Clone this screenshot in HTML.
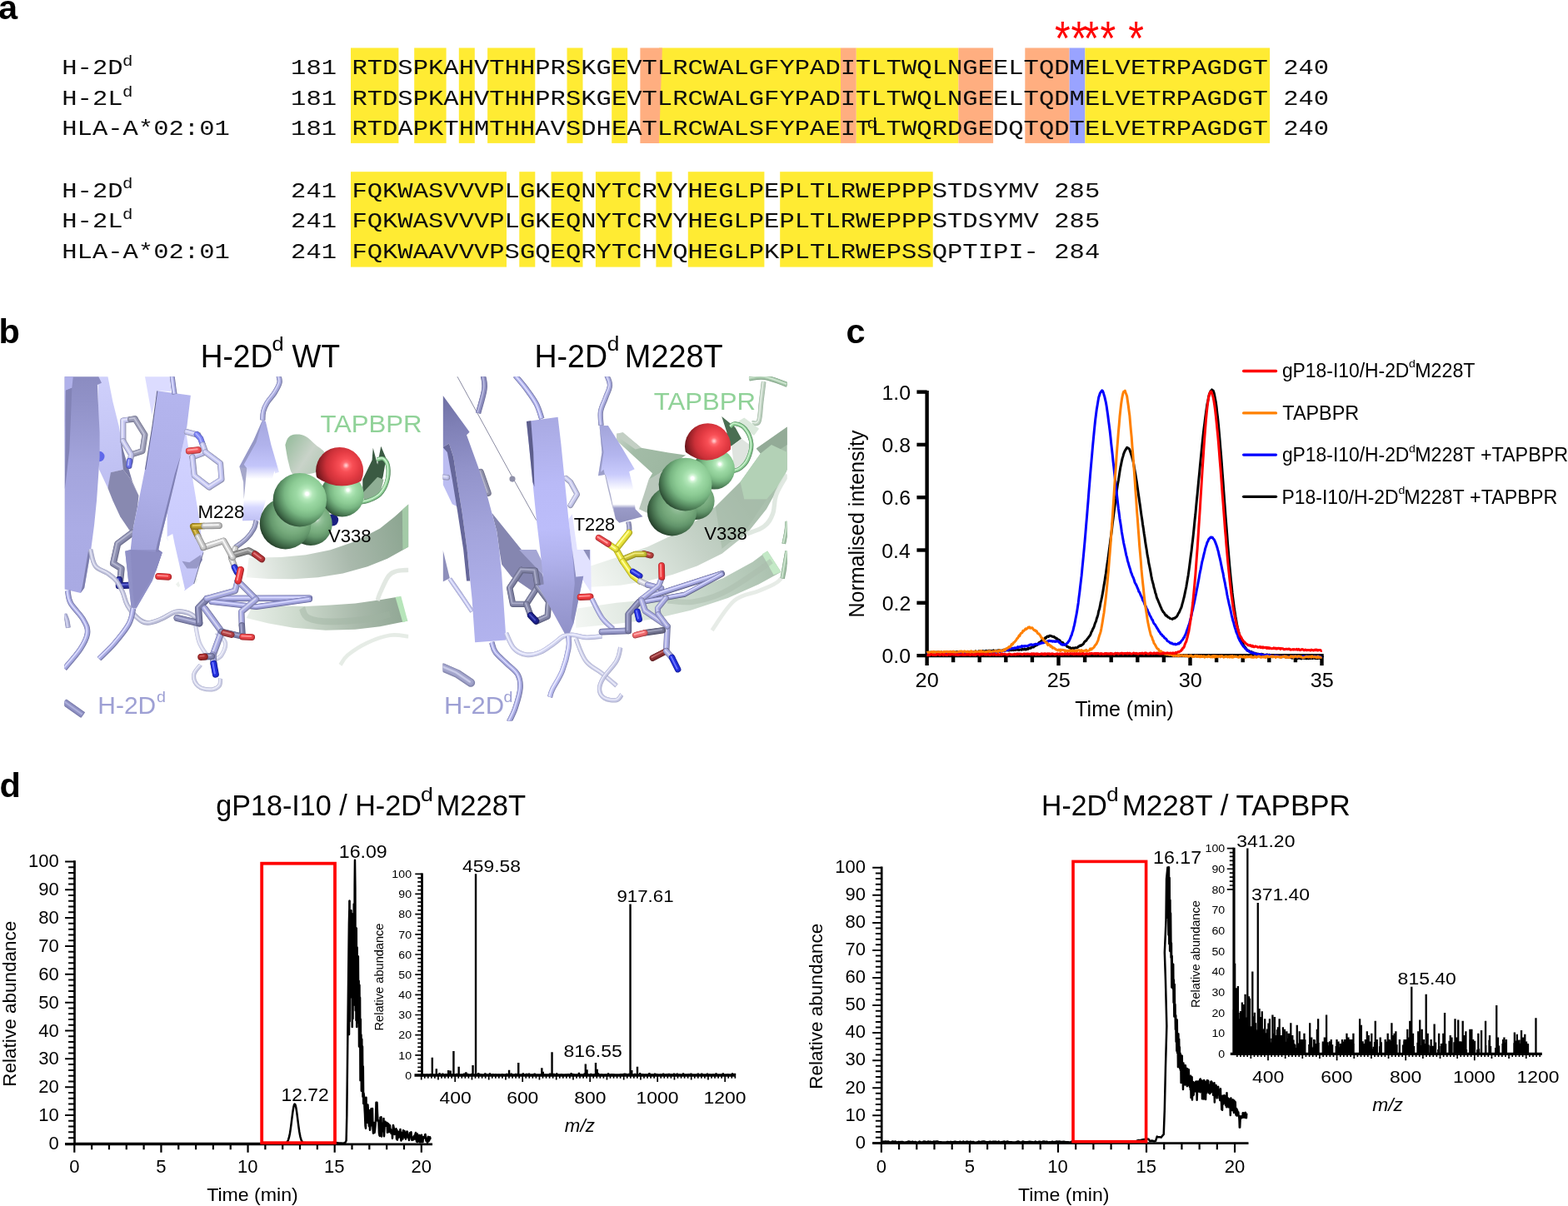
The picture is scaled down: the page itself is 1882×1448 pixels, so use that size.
<!DOCTYPE html>
<html lang="en">
<head>
<meta charset="utf-8">
<title>Figure</title>
<style>
html,body{margin:0;padding:0;background:#ffffff;}
body{width:1882px;height:1448px;overflow:hidden;}
svg{display:block;}
</style>
</head>
<body>
<svg width="1882" height="1448" viewBox="0 0 1882 1448">
<rect x="0" y="0" width="1882" height="1448" fill="#ffffff"/>
<g id="panel-a">
<rect x="421" y="57.5" width="57.4" height="114.4" fill="#ffeb33"/>
<rect x="497.2" y="57.5" width="38.4" height="114.4" fill="#ffeb33"/>
<rect x="550.8" y="57.5" width="19" height="114.4" fill="#ffeb33"/>
<rect x="585.1" y="57.5" width="57.2" height="114.4" fill="#ffeb33"/>
<rect x="680.5" y="57.5" width="19" height="114.4" fill="#ffeb33"/>
<rect x="734.2" y="57.5" width="19" height="114.4" fill="#ffeb33"/>
<rect x="791" y="57.5" width="218" height="114.4" fill="#ffeb33"/>
<polygon points="768.4,57.5 794.9,57.5 791,171.9 768.4,171.9" fill="#ffae80"/>
<rect x="1009" y="57.5" width="18.8" height="114.4" fill="#ffae80"/>
<rect x="1027.8" y="57.5" width="122.6" height="114.4" fill="#ffeb33"/>
<rect x="1150.4" y="57.5" width="41.7" height="114.4" fill="#ffae80"/>
<rect x="1230.3" y="57.5" width="53.3" height="114.4" fill="#ffae80"/>
<rect x="1283.6" y="57.5" width="18.8" height="114.4" fill="#99a3ff"/>
<rect x="1302.4" y="57.5" width="221.7" height="114.4" fill="#ffeb33"/>
<rect x="421" y="206.2" width="187" height="114.4" fill="#ffeb33"/>
<rect x="623.3" y="206.2" width="19" height="114.4" fill="#ffeb33"/>
<rect x="661.5" y="206.2" width="38" height="114.4" fill="#ffeb33"/>
<rect x="714.9" y="206.2" width="53.5" height="114.4" fill="#ffeb33"/>
<rect x="787.4" y="206.2" width="19.2" height="114.4" fill="#ffeb33"/>
<rect x="825.8" y="206.2" width="91.6" height="114.4" fill="#ffeb33"/>
<rect x="936.2" y="206.2" width="183.5" height="114.4" fill="#ffeb33"/>
<text transform="translate(74.24,89.2) scale(1.1837,1)" x="0 15.48 30.96 46.44" font-family="'Liberation Mono', monospace" font-size="25.8" fill="#0d0d0d" >H-2D</text>
<text transform="translate(147.04,79.1) scale(1.18,1)" font-family="'Liberation Mono', monospace" font-size="17.5" fill="#0d0d0d">d</text>
<text transform="translate(349.1,89.2) scale(1.1837,1)" x="0 15.48 30.96" font-family="'Liberation Mono', monospace" font-size="25.8" fill="#0d0d0d" >181</text>
<text transform="translate(422.39,89.2) scale(1.1837,1)" x="0 15.48 30.96 46.44 61.92 77.4 92.88 108.36 123.84 139.32 154.8 170.28 185.76 201.24 216.72 232.2 247.68 263.16 278.64 294.12 309.6 325.08 340.56 356.04 371.52 387 402.48 417.96 433.44 448.92 464.4 479.88 495.36 510.84 526.32 541.8 557.28 572.76 588.24 603.72 619.2 634.68 650.16 665.64 681.12 696.6 712.08 727.56 743.04 758.52 774 789.48 804.96 820.44 835.92 851.4 866.88 882.36 897.84 913.32" font-family="'Liberation Mono', monospace" font-size="25.8" fill="#0d0d0d" >RTDSPKAHVTHHPRSKGEVTLRCWALGFYPADITLTWQLNGEELTQDMELVETRPAGDGT</text>
<text transform="translate(1540.13,89.2) scale(1.1837,1)" x="0 15.48 30.96" font-family="'Liberation Mono', monospace" font-size="25.8" fill="#0d0d0d" >240</text>
<text transform="translate(74.24,125.8) scale(1.1837,1)" x="0 15.48 30.96 46.44" font-family="'Liberation Mono', monospace" font-size="25.8" fill="#0d0d0d" >H-2L</text>
<text transform="translate(147.04,115.7) scale(1.18,1)" font-family="'Liberation Mono', monospace" font-size="17.5" fill="#0d0d0d">d</text>
<text transform="translate(349.1,125.8) scale(1.1837,1)" x="0 15.48 30.96" font-family="'Liberation Mono', monospace" font-size="25.8" fill="#0d0d0d" >181</text>
<text transform="translate(422.39,125.8) scale(1.1837,1)" x="0 15.48 30.96 46.44 61.92 77.4 92.88 108.36 123.84 139.32 154.8 170.28 185.76 201.24 216.72 232.2 247.68 263.16 278.64 294.12 309.6 325.08 340.56 356.04 371.52 387 402.48 417.96 433.44 448.92 464.4 479.88 495.36 510.84 526.32 541.8 557.28 572.76 588.24 603.72 619.2 634.68 650.16 665.64 681.12 696.6 712.08 727.56 743.04 758.52 774 789.48 804.96 820.44 835.92 851.4 866.88 882.36 897.84 913.32" font-family="'Liberation Mono', monospace" font-size="25.8" fill="#0d0d0d" >RTDSPKAHVTHHPRSKGEVTLRCWALGFYPADITLTWQLNGEELTQDMELVETRPAGDGT</text>
<text transform="translate(1540.13,125.8) scale(1.1837,1)" x="0 15.48 30.96" font-family="'Liberation Mono', monospace" font-size="25.8" fill="#0d0d0d" >240</text>
<text transform="translate(74.24,162.4) scale(1.1837,1)" x="0 15.48 30.96 46.44 61.92 77.4 92.88 108.36 123.84 139.32 154.8" font-family="'Liberation Mono', monospace" font-size="25.8" fill="#0d0d0d" >HLA-A*02:01</text>
<text transform="translate(349.1,162.4) scale(1.1837,1)" x="0 15.48 30.96" font-family="'Liberation Mono', monospace" font-size="25.8" fill="#0d0d0d" >181</text>
<text transform="translate(422.39,162.4) scale(1.1837,1)" x="0 15.48 30.96 46.44 61.92 77.4 92.88 108.36 123.84 139.32 154.8 170.28 185.76 201.24 216.72 232.2 247.68 263.16 278.64 294.12 309.6 325.08 340.56 356.04 371.52 387 402.48 417.96 433.44 448.92 464.4 479.88 495.36 510.84 526.32 541.8 557.28 572.76 588.24 603.72 619.2 634.68 650.16 665.64 681.12 696.6 712.08 727.56 743.04 758.52 774 789.48 804.96 820.44 835.92 851.4 866.88 882.36 897.84 913.32" font-family="'Liberation Mono', monospace" font-size="25.8" fill="#0d0d0d" >RTDAPKTHMTHHAVSDHEATLRCWALSFYPAEITLTWQRDGEDQTQDTELVETRPAGDGT</text>
<text transform="translate(1540.13,162.4) scale(1.1837,1)" x="0 15.48 30.96" font-family="'Liberation Mono', monospace" font-size="25.8" fill="#0d0d0d" >240</text>
<text transform="translate(74.24,236.5) scale(1.1837,1)" x="0 15.48 30.96 46.44" font-family="'Liberation Mono', monospace" font-size="25.8" fill="#0d0d0d" >H-2D</text>
<text transform="translate(147.04,226.4) scale(1.18,1)" font-family="'Liberation Mono', monospace" font-size="17.5" fill="#0d0d0d">d</text>
<text transform="translate(349.1,236.5) scale(1.1837,1)" x="0 15.48 30.96" font-family="'Liberation Mono', monospace" font-size="25.8" fill="#0d0d0d" >241</text>
<text transform="translate(422.39,236.5) scale(1.1837,1)" x="0 15.48 30.96 46.44 61.92 77.4 92.88 108.36 123.84 139.32 154.8 170.28 185.76 201.24 216.72 232.2 247.68 263.16 278.64 294.12 309.6 325.08 340.56 356.04 371.52 387 402.48 417.96 433.44 448.92 464.4 479.88 495.36 510.84 526.32 541.8 557.28 572.76 588.24 603.72 619.2 634.68 650.16 665.64 681.12" font-family="'Liberation Mono', monospace" font-size="25.8" fill="#0d0d0d" >FQKWASVVVPLGKEQNYTCRVYHEGLPEPLTLRWEPPPSTDSYMV</text>
<text transform="translate(1265.28,236.5) scale(1.1837,1)" x="0 15.48 30.96" font-family="'Liberation Mono', monospace" font-size="25.8" fill="#0d0d0d" >285</text>
<text transform="translate(74.24,273.2) scale(1.1837,1)" x="0 15.48 30.96 46.44" font-family="'Liberation Mono', monospace" font-size="25.8" fill="#0d0d0d" >H-2L</text>
<text transform="translate(147.04,263.1) scale(1.18,1)" font-family="'Liberation Mono', monospace" font-size="17.5" fill="#0d0d0d">d</text>
<text transform="translate(349.1,273.2) scale(1.1837,1)" x="0 15.48 30.96" font-family="'Liberation Mono', monospace" font-size="25.8" fill="#0d0d0d" >241</text>
<text transform="translate(422.39,273.2) scale(1.1837,1)" x="0 15.48 30.96 46.44 61.92 77.4 92.88 108.36 123.84 139.32 154.8 170.28 185.76 201.24 216.72 232.2 247.68 263.16 278.64 294.12 309.6 325.08 340.56 356.04 371.52 387 402.48 417.96 433.44 448.92 464.4 479.88 495.36 510.84 526.32 541.8 557.28 572.76 588.24 603.72 619.2 634.68 650.16 665.64 681.12" font-family="'Liberation Mono', monospace" font-size="25.8" fill="#0d0d0d" >FQKWASVVVPLGKEQNYTCRVYHEGLPEPLTLRWEPPPSTDSYMV</text>
<text transform="translate(1265.28,273.2) scale(1.1837,1)" x="0 15.48 30.96" font-family="'Liberation Mono', monospace" font-size="25.8" fill="#0d0d0d" >285</text>
<text transform="translate(74.24,309.8) scale(1.1837,1)" x="0 15.48 30.96 46.44 61.92 77.4 92.88 108.36 123.84 139.32 154.8" font-family="'Liberation Mono', monospace" font-size="25.8" fill="#0d0d0d" >HLA-A*02:01</text>
<text transform="translate(349.1,309.8) scale(1.1837,1)" x="0 15.48 30.96" font-family="'Liberation Mono', monospace" font-size="25.8" fill="#0d0d0d" >241</text>
<text transform="translate(422.39,309.8) scale(1.1837,1)" x="0 15.48 30.96 46.44 61.92 77.4 92.88 108.36 123.84 139.32 154.8 170.28 185.76 201.24 216.72 232.2 247.68 263.16 278.64 294.12 309.6 325.08 340.56 356.04 371.52 387 402.48 417.96 433.44 448.92 464.4 479.88 495.36 510.84 526.32 541.8 557.28 572.76 588.24 603.72 619.2 634.68 650.16 665.64 681.12" font-family="'Liberation Mono', monospace" font-size="25.8" fill="#0d0d0d" >FQKWAAVVVPSGQEQRYTCHVQHEGLPKPLTLRWEPSSQPTIPI-</text>
<text transform="translate(1265.28,309.8) scale(1.1837,1)" x="0 15.48 30.96" font-family="'Liberation Mono', monospace" font-size="25.8" fill="#0d0d0d" >284</text>
<text transform="translate(1040.4,153.6) scale(1.18,1)" font-family="'Liberation Mono', monospace" font-size="17.5" fill="#0d0d0d">d</text>
<text transform="translate(1275.4,67.7) scale(0.84,1)" text-anchor="middle" font-family="'Liberation Mono', monospace" font-size="57" fill="#ff0000">*</text>
<text transform="translate(1294.9,67.7) scale(0.84,1)" text-anchor="middle" font-family="'Liberation Mono', monospace" font-size="57" fill="#ff0000">*</text>
<text transform="translate(1309.9,67.7) scale(0.84,1)" text-anchor="middle" font-family="'Liberation Mono', monospace" font-size="57" fill="#ff0000">*</text>
<text transform="translate(1329.8,67.7) scale(0.84,1)" text-anchor="middle" font-family="'Liberation Mono', monospace" font-size="57" fill="#ff0000">*</text>
<text transform="translate(1363.5,67.7) scale(0.84,1)" text-anchor="middle" font-family="'Liberation Mono', monospace" font-size="57" fill="#ff0000">*</text>
</g>
<g id="panel-b">
<defs>
<clipPath id="clipL"><rect x="77.4" y="452.2" width="412.9" height="409.6"/></clipPath>
<clipPath id="clipR"><rect x="531.6" y="452.2" width="413.2" height="413.2"/></clipPath>
<linearGradient id="lgA" gradientUnits="userSpaceOnUse" x1="760" y1="800" x2="1420" y2="620"><stop offset="0" stop-color="#f1f4f1"/><stop offset="0.25" stop-color="#d3ddd4"/><stop offset="0.6" stop-color="#a9b9ac"/><stop offset="1" stop-color="#8aa48f"/></linearGradient>
<linearGradient id="lgB" gradientUnits="userSpaceOnUse" x1="780" y1="1000" x2="1410" y2="960"><stop offset="0" stop-color="#e6ede6"/><stop offset="0.3" stop-color="#cddacd"/><stop offset="0.7" stop-color="#a7b8a9"/><stop offset="1" stop-color="#8fa693"/></linearGradient>
<linearGradient id="lgH" gradientUnits="userSpaceOnUse" x1="920" y1="300" x2="1100" y2="420"><stop offset="0" stop-color="#9dbfa2"/><stop offset="0.45" stop-color="#c9d3c9"/><stop offset="1" stop-color="#a9c4ac"/></linearGradient>
<linearGradient id="lgR2" gradientUnits="userSpaceOnUse" x1="180" y1="25" x2="250" y2="420"><stop offset="0" stop-color="#cfd0fb"/><stop offset="1" stop-color="#bfc0f2"/></linearGradient>
<linearGradient id="lgS1" gradientUnits="userSpaceOnUse" x1="90" y1="25" x2="70" y2="900"><stop offset="0" stop-color="#8b8cc1"/><stop offset="0.12" stop-color="#9192c8"/><stop offset="0.4" stop-color="#a3a4dc"/><stop offset="0.7" stop-color="#abace5"/><stop offset="1" stop-color="#a9aae3"/></linearGradient>
<linearGradient id="lgR4" gradientUnits="userSpaceOnUse" x1="520" y1="250" x2="560" y2="880"><stop offset="0" stop-color="#d2d3ff"/><stop offset="0.6" stop-color="#cbccfd"/><stop offset="1" stop-color="#c3c4f6"/></linearGradient>
<linearGradient id="lgS3" gradientUnits="userSpaceOnUse" x1="470" y1="90" x2="330" y2="900"><stop offset="0" stop-color="#b4b5ee"/><stop offset="0.5" stop-color="#adaee7"/><stop offset="0.8" stop-color="#a0a1da"/><stop offset="1" stop-color="#9495cc"/></linearGradient>
<linearGradient id="lgAr" gradientUnits="userSpaceOnUse" x1="830" y1="200" x2="830" y2="610"><stop offset="0" stop-color="#a5a7de"/><stop offset="0.25" stop-color="#b1b3ec"/><stop offset="0.45" stop-color="#c3c5fa"/><stop offset="0.58" stop-color="#ffffff"/><stop offset="0.78" stop-color="#ffffff"/><stop offset="0.86" stop-color="#d6d7ff"/><stop offset="1" stop-color="#bebff3"/></linearGradient>
<clipPath id="clR"><path d="M900 200L1300 200L1300 443L1231.8 443Q1135 495.1 1041.4 430L900 430Z"/></clipPath>
<radialGradient id="sB" gradientUnits="userSpaceOnUse" cx="1170.76" cy="482.76" r="123.2" fx="1170.76" fy="482.76"><stop offset="0" stop-color="#ffffff"/><stop offset="0.04" stop-color="#ffffff"/><stop offset="0.08" stop-color="#d8f7db"/><stop offset="0.15" stop-color="#b4e8ba"/><stop offset="0.28" stop-color="#9cd9a4"/><stop offset="0.45" stop-color="#8ccb94"/><stop offset="0.6" stop-color="#78b682"/><stop offset="0.74" stop-color="#5b9165"/><stop offset="0.87" stop-color="#3f6a48"/><stop offset="1" stop-color="#213a27"/></radialGradient>
<radialGradient id="sR" gradientUnits="userSpaceOnUse" cx="1162.72" cy="383.42" r="134.4" fx="1162.72" fy="383.42"><stop offset="0" stop-color="#ffd6d6"/><stop offset="0.04" stop-color="#ffb0b2"/><stop offset="0.1" stop-color="#ff6b70"/><stop offset="0.2" stop-color="#f84e55"/><stop offset="0.4" stop-color="#e53c44"/><stop offset="0.6" stop-color="#cb3038"/><stop offset="0.75" stop-color="#a0232a"/><stop offset="0.88" stop-color="#74181e"/><stop offset="1" stop-color="#450d11"/></radialGradient>
<radialGradient id="sD" gradientUnits="userSpaceOnUse" cx="1043.49" cy="599.99" r="121.8" fx="1043.49" fy="599.99"><stop offset="0" stop-color="#ffffff"/><stop offset="0.04" stop-color="#ffffff"/><stop offset="0.08" stop-color="#b5cfb8"/><stop offset="0.15" stop-color="#97c39c"/><stop offset="0.28" stop-color="#83b68a"/><stop offset="0.45" stop-color="#76ab7c"/><stop offset="0.6" stop-color="#65996d"/><stop offset="0.74" stop-color="#4c7a55"/><stop offset="0.87" stop-color="#35593c"/><stop offset="1" stop-color="#1c3121"/></radialGradient>
<radialGradient id="sC" gradientUnits="userSpaceOnUse" cx="946.08" cy="594.08" r="145.6" fx="946.08" fy="594.08"><stop offset="0" stop-color="#ffffff"/><stop offset="0.04" stop-color="#ffffff"/><stop offset="0.08" stop-color="#b5cfb8"/><stop offset="0.15" stop-color="#97c39c"/><stop offset="0.28" stop-color="#83b68a"/><stop offset="0.45" stop-color="#76ab7c"/><stop offset="0.6" stop-color="#65996d"/><stop offset="0.74" stop-color="#4c7a55"/><stop offset="0.87" stop-color="#35593c"/><stop offset="1" stop-color="#1c3121"/></radialGradient>
<radialGradient id="sA" gradientUnits="userSpaceOnUse" cx="1005.29" cy="498.05" r="151.9" fx="1005.29" fy="498.05"><stop offset="0" stop-color="#ffffff"/><stop offset="0.04" stop-color="#ffffff"/><stop offset="0.08" stop-color="#d8f7db"/><stop offset="0.15" stop-color="#b4e8ba"/><stop offset="0.28" stop-color="#9cd9a4"/><stop offset="0.45" stop-color="#8ccb94"/><stop offset="0.6" stop-color="#78b682"/><stop offset="0.74" stop-color="#5b9165"/><stop offset="0.87" stop-color="#3f6a48"/><stop offset="1" stop-color="#213a27"/></radialGradient>
<linearGradient id="rgA" gradientUnits="userSpaceOnUse" x1="620" y1="850" x2="1420" y2="300"><stop offset="0" stop-color="#f3f6f3"/><stop offset="0.2" stop-color="#e0e8e1"/><stop offset="0.45" stop-color="#c5d2c7"/><stop offset="0.7" stop-color="#adc1b0"/><stop offset="1" stop-color="#a3bda7"/></linearGradient>
<linearGradient id="rgB" gradientUnits="userSpaceOnUse" x1="560" y1="1000" x2="1380" y2="780"><stop offset="0" stop-color="#f3f6f3"/><stop offset="0.3" stop-color="#dde6de"/><stop offset="0.65" stop-color="#c2d3c5"/><stop offset="1" stop-color="#a9c0ad"/></linearGradient>
<linearGradient id="rgC" gradientUnits="userSpaceOnUse" x1="724" y1="260" x2="1000" y2="420"><stop offset="0" stop-color="#c7d3c8"/><stop offset="0.3" stop-color="#a3bca7"/><stop offset="1" stop-color="#9ab59e"/></linearGradient>
<linearGradient id="rgS1" gradientUnits="userSpaceOnUse" x1="60" y1="100" x2="200" y2="1100"><stop offset="0" stop-color="#6f70a4"/><stop offset="0.12" stop-color="#7f80b6"/><stop offset="0.3" stop-color="#9293ca"/><stop offset="0.55" stop-color="#a3a4dc"/><stop offset="0.8" stop-color="#adaee8"/><stop offset="1" stop-color="#b2b3ee"/></linearGradient>
<linearGradient id="rgS3" gradientUnits="userSpaceOnUse" x1="430" y1="200" x2="500" y2="1070"><stop offset="0" stop-color="#a9aae3"/><stop offset="0.3" stop-color="#b9baf7"/><stop offset="0.5" stop-color="#bcbdfa"/><stop offset="0.65" stop-color="#b0b1ec"/><stop offset="0.8" stop-color="#a0a1d9"/><stop offset="1" stop-color="#9091c8"/></linearGradient>
<linearGradient id="rgAr" gradientUnits="userSpaceOnUse" x1="720" y1="220" x2="720" y2="620"><stop offset="0" stop-color="#a3a5da"/><stop offset="0.3" stop-color="#b3b5ee"/><stop offset="0.5" stop-color="#c9cbfc"/><stop offset="0.66" stop-color="#ffffff"/><stop offset="0.8" stop-color="#ffffff"/><stop offset="0.84" stop-color="#9a9bc8"/><stop offset="1" stop-color="#8e8fbb"/></linearGradient>
<clipPath id="clR2"><path d="M900 150L1300 150L1300 320L1184 320Q1094 400 1004 330L900 330Z"/></clipPath>
<radialGradient id="tB" gradientUnits="userSpaceOnUse" cx="1141.41" cy="377.91" r="116.2" fx="1141.41" fy="377.91"><stop offset="0" stop-color="#ffffff"/><stop offset="0.04" stop-color="#ffffff"/><stop offset="0.08" stop-color="#d8f7db"/><stop offset="0.15" stop-color="#b4e8ba"/><stop offset="0.28" stop-color="#9cd9a4"/><stop offset="0.45" stop-color="#8ccb94"/><stop offset="0.6" stop-color="#78b682"/><stop offset="0.74" stop-color="#5b9165"/><stop offset="0.87" stop-color="#3f6a48"/><stop offset="1" stop-color="#213a27"/></radialGradient>
<radialGradient id="tR" gradientUnits="userSpaceOnUse" cx="1118.11" cy="284.61" r="130.2" fx="1118.11" fy="284.61"><stop offset="0" stop-color="#ffd6d6"/><stop offset="0.04" stop-color="#ffb0b2"/><stop offset="0.1" stop-color="#ff6b70"/><stop offset="0.2" stop-color="#f84e55"/><stop offset="0.4" stop-color="#e53c44"/><stop offset="0.6" stop-color="#cb3038"/><stop offset="0.75" stop-color="#a0232a"/><stop offset="0.88" stop-color="#74181e"/><stop offset="1" stop-color="#450d11"/></radialGradient>
<radialGradient id="tD" gradientUnits="userSpaceOnUse" cx="1064.52" cy="509.52" r="106.4" fx="1064.52" fy="509.52"><stop offset="0" stop-color="#ffffff"/><stop offset="0.04" stop-color="#ffffff"/><stop offset="0.08" stop-color="#b1cbb4"/><stop offset="0.15" stop-color="#94be99"/><stop offset="0.28" stop-color="#80b286"/><stop offset="0.45" stop-color="#73a679"/><stop offset="0.6" stop-color="#62956b"/><stop offset="0.74" stop-color="#4b7753"/><stop offset="0.87" stop-color="#34573b"/><stop offset="1" stop-color="#1b3020"/></radialGradient>
<radialGradient id="tC" gradientUnits="userSpaceOnUse" cx="975" cy="545" r="140" fx="975" fy="545"><stop offset="0" stop-color="#ffffff"/><stop offset="0.04" stop-color="#ffffff"/><stop offset="0.08" stop-color="#b1cbb4"/><stop offset="0.15" stop-color="#94be99"/><stop offset="0.28" stop-color="#80b286"/><stop offset="0.45" stop-color="#73a679"/><stop offset="0.6" stop-color="#62956b"/><stop offset="0.74" stop-color="#4b7753"/><stop offset="0.87" stop-color="#34573b"/><stop offset="1" stop-color="#1b3020"/></radialGradient>
<radialGradient id="tA" gradientUnits="userSpaceOnUse" cx="1031.03" cy="435.27" r="150.5" fx="1031.03" fy="435.27"><stop offset="0" stop-color="#ffffff"/><stop offset="0.04" stop-color="#ffffff"/><stop offset="0.08" stop-color="#d8f7db"/><stop offset="0.15" stop-color="#b4e8ba"/><stop offset="0.28" stop-color="#9cd9a4"/><stop offset="0.45" stop-color="#8ccb94"/><stop offset="0.6" stop-color="#78b682"/><stop offset="0.74" stop-color="#5b9165"/><stop offset="0.87" stop-color="#3f6a48"/><stop offset="1" stop-color="#213a27"/></radialGradient>
</defs>
<g clip-path="url(#clipL)"><g transform="translate(70,445) scale(0.29697)">
<polygon points="1416,540 1360,590 1300,638 1200,690 1100,725 1000,745 900,754 800,756 770,757 760,836 850,842 950,843 1050,836 1150,820 1250,792 1330,760 1416,712" fill="url(#lgA)" />
<polygon points="1390,562 1416,540 1416,712 1392,724" fill="#a9d3ad" opacity="0.8"/>
<polygon points="780,962 900,951 1000,953 1100,948 1200,941 1300,927 1370,915 1412,1012 1300,1035 1200,1046 1080,1050 950,1040 850,1022 760,1000" fill="url(#lgB)" />
<polygon points="1362,916 1385,912 1412,1012 1392,1018" fill="#b7e5ba" />
<path d="M985 960C989.58 967.33 988.92 989.92 1010 1000C1031.08 1010.08 1056 1014.08 1100 1015C1144 1015.92 1206 1010.5 1250 1005C1294 999.5 1323.5 988.67 1340 985" fill="none" stroke="#9fb3a2" stroke-width="26" opacity="0.45"/>
<path d="M1416 806C1407.57 806.73 1384.85 805.6 1370 810C1355.15 814.4 1347.83 813.5 1335 830C1322.17 846.5 1308.25 881.67 1300 900C1291.75 918.33 1291.83 924.5 1290 930" fill="none" stroke="#dfe6df" stroke-width="18" opacity="0.9"/>
<path d="M1416 1075C1402.07 1074.08 1370.43 1065.42 1340 1070C1309.57 1074.58 1281.17 1085.33 1250 1100C1218.83 1114.67 1190.17 1133.5 1170 1150C1149.83 1166.5 1145.5 1182.67 1140 1190" fill="none" stroke="#e3eae3" stroke-width="16" opacity="0.9"/>
<path d="M480 870C487.33 863.58 505.33 838.67 520 835C534.67 831.33 552.67 847.25 560 850" fill="none" stroke="#e9eee9" stroke-width="16" opacity="0.8"/>
<path d="M917 300C919.38 294.5 922.12 277.7 930 270C937.88 262.3 947.17 258.73 960 258C972.83 257.27 985.33 258.3 1000 266C1014.67 273.7 1025.33 286.43 1040 300C1054.67 313.57 1076.33 321.67 1080 340C1083.67 358.33 1074.67 385.33 1060 400C1045.33 414.67 1020.17 416.33 1000 420C979.83 423.67 962.83 429.17 950 420C937.17 410.83 936.05 392 930 370C923.95 348 919.38 312.83 917 300Z" fill="url(#lgH)" />
<polygon points="1230,440 1268,362 1272,312 1290,380 1304,306 1325,355 1312,430 1285,500 1230,515" fill="#3a5a42" />
<polygon points="1225,500 1290,430 1315,440 1300,500 1240,530" fill="#8fae94" />
<g fill="none" stroke-linejoin="round" stroke-linecap="butt">
<path d="M1288 360C1292.95 359.45 1306.75 351.5 1315 357C1323.25 362.5 1330.62 372.95 1333 390C1335.38 407.05 1334.05 429.83 1328 450C1321.95 470.17 1313.38 486.25 1300 500C1286.62 513.75 1272.42 518.58 1255 525C1237.58 531.42 1214.17 533.17 1205 535" stroke="#4f8058" stroke-width="17"/>
<path d="M1288 360C1292.95 359.45 1306.75 351.5 1315 357C1323.25 362.5 1330.62 372.95 1333 390C1335.38 407.05 1334.05 429.83 1328 450C1321.95 470.17 1313.38 486.25 1300 500C1286.62 513.75 1272.42 518.58 1255 525C1237.58 531.42 1214.17 533.17 1205 535" stroke="#74ae7d" stroke-width="14.62" transform="translate(-0.51,-0.51)"/>
<path d="M1288 360C1292.95 359.45 1306.75 351.5 1315 357C1323.25 362.5 1330.62 372.95 1333 390C1335.38 407.05 1334.05 429.83 1328 450C1321.95 470.17 1313.38 486.25 1300 500C1286.62 513.75 1272.42 518.58 1255 525C1237.58 531.42 1214.17 533.17 1205 535" stroke="#93d39b" stroke-width="11.22" transform="translate(-1.19,-1.19)"/>
<path d="M1288 360C1292.95 359.45 1306.75 351.5 1315 357C1323.25 362.5 1330.62 372.95 1333 390C1335.38 407.05 1334.05 429.83 1328 450C1321.95 470.17 1313.38 486.25 1300 500C1286.62 513.75 1272.42 518.58 1255 525C1237.58 531.42 1214.17 533.17 1205 535" stroke="#d2f5d5" stroke-width="4.08" transform="translate(-2.21,-2.21)"/>
</g>
<polygon points="160,23 200,23 220,125 245,225 260,320 262,400 215,412 200,475 165,400" fill="url(#lgR2)" />
<polygon points="212,412 262,400 290,435 325,505 320,550 300,650 287,645 250,590 220,525 200,475" fill="#8889b0" />
<polygon points="250,260 262,320 300,450 325,505 290,435 262,400" fill="#7c7da6" />
<circle cx="166" cy="347" r="21" fill="#6068ea"/>
<polygon points="25,23 162,23 175,50 158,57 162,150 167,250 167,350 162,425 155,525 145,625 132,724 105,879 90,899 25,884" fill="url(#lgS1)" />
<polygon points="25,23 60,23 55,70 30,80 27,200 25,480" fill="#b0b1ea" />
<polygon points="30,80 55,70 50,200 45,320 30,450 26,480 30,250" fill="#8283b6" />
<polygon points="105,879 132,724 122,724 98,870 90,899" fill="#7d7eae" />
<g fill="none" stroke-linejoin="round" stroke-linecap="round">
<path d="M262 285L262 202L310 195" stroke="#8c8da9" stroke-width="24"/>
<path d="M262 285L262 202L310 195" stroke="#adaed1" stroke-width="20.64" transform="translate(-0.72,-0.72)"/>
<path d="M262 285L262 202L310 195" stroke="#c8c9f2" stroke-width="15.84" transform="translate(-1.68,-1.68)"/>
<path d="M262 285L262 202L310 195" stroke="#e4e4f8" stroke-width="5.76" transform="translate(-3.12,-3.12)"/>
</g>
<g fill="none" stroke-linejoin="round" stroke-linecap="round">
<path d="M292 197L310 195L350 260L340 325L295 340" stroke="#77788f" stroke-width="24"/>
<path d="M292 197L310 195L350 260L340 325L295 340" stroke="#8c8da6" stroke-width="20.64" transform="translate(-0.72,-0.72)"/>
<path d="M292 197L310 195L350 260L340 325L295 340" stroke="#9d9eb8" stroke-width="15.84" transform="translate(-1.68,-1.68)"/>
<path d="M292 197L310 195L350 260L340 325L295 340" stroke="#c3c4d8" stroke-width="5.76" transform="translate(-3.12,-3.12)"/>
</g>
<g fill="none" stroke-linejoin="round" stroke-linecap="round">
<path d="M262 285L295 340L290 370" stroke="#898aa7" stroke-width="24"/>
<path d="M262 285L295 340L290 370" stroke="#a9aace" stroke-width="20.64" transform="translate(-0.72,-0.72)"/>
<path d="M262 285L295 340L290 370" stroke="#c4c5ee" stroke-width="15.84" transform="translate(-1.68,-1.68)"/>
<path d="M262 285L295 340L290 370" stroke="#e2e2f6" stroke-width="5.76" transform="translate(-3.12,-3.12)"/>
</g>
<g fill="none" stroke-linejoin="round" stroke-linecap="round">
<path d="M288 365L286 385" stroke="#4c51a8" stroke-width="24"/>
<path d="M288 365L286 385" stroke="#5e64d0" stroke-width="20.64" transform="translate(-0.72,-0.72)"/>
<path d="M288 365L286 385" stroke="#6d74f0" stroke-width="15.84" transform="translate(-1.68,-1.68)"/>
<path d="M288 365L286 385" stroke="#b6baf8" stroke-width="5.76" transform="translate(-3.12,-3.12)"/>
</g>
<polygon points="350,23 450,23 456,84 400,82 378,180" fill="#dcdcff" />
<polygon points="515,240 530,340 545,450 570,600 586,735 548,862 510,890 470,740 440,680 440,575 470,450 495,340" fill="url(#lgR4)" />
<polygon points="440,672 462,660 470,700 512,885 500,893 455,760" fill="#ffffff" />
<polygon points="500,770 530,775 575,745 583,765 560,800 520,800" fill="#9899c8" />
<path d="M548 862L586 735" stroke="#55567a" stroke-width="2.5" fill="none"/>
<g fill="none" stroke-linejoin="round" stroke-linecap="round">
<path d="M300 655L240 700L222 780L255 800L250 850" stroke="#686a88" stroke-width="27"/>
<path d="M300 655L240 700L222 780L255 800L250 850" stroke="#7c7e9e" stroke-width="23.22" transform="translate(-0.81,-0.81)"/>
<path d="M300 655L240 700L222 780L255 800L250 850" stroke="#8d8fb0" stroke-width="17.82" transform="translate(-1.89,-1.89)"/>
<path d="M300 655L240 700L222 780L255 800L250 850" stroke="#b5b7d0" stroke-width="6.48" transform="translate(-3.51,-3.51)"/>
</g>
<g fill="none" stroke-linejoin="round" stroke-linecap="round">
<path d="M246 845L245 870L285 868" stroke="#1a1d6e" stroke-width="27"/>
<path d="M246 845L245 870L285 868" stroke="#232788" stroke-width="23.22" transform="translate(-0.81,-0.81)"/>
<path d="M246 845L245 870L285 868" stroke="#2a2f9e" stroke-width="17.82" transform="translate(-1.89,-1.89)"/>
<path d="M246 845L245 870L285 868" stroke="#5a60d0" stroke-width="6.48" transform="translate(-3.51,-3.51)"/>
</g>
<polygon points="400,82 535,100 520,225 495,340 470,450 440,575 415,675 405,724 420,735 380,849 315,961 295,959 270,730 292,724 300,650 325,525 350,400 380,225" fill="url(#lgS3)" />
<polygon points="497,335 470,450 440,575 415,675 405,724 420,735 395,810 378,800 400,700 430,580 470,420" fill="#8081b5" />
<polygon points="270,730 292,724 420,735 380,849 315,961 295,959" fill="#9091c7" />
<polygon points="292,724 405,724 420,735 395,810 310,955 302,900" fill="#8687bd" opacity="0.55"/>
<path d="M400 82L380 225L352 400" stroke="#54557c" stroke-width="3" fill="none"/>
<g fill="none" stroke-linejoin="round" stroke-linecap="round">
<path d="M405 832L445 834" stroke="#a8262a" stroke-width="27"/>
<path d="M405 832L445 834" stroke="#cc3034" stroke-width="23.22" transform="translate(-0.81,-0.81)"/>
<path d="M405 832L445 834" stroke="#e9383c" stroke-width="17.82" transform="translate(-1.89,-1.89)"/>
<path d="M405 832L445 834" stroke="#ff8a8a" stroke-width="6.48" transform="translate(-3.51,-3.51)"/>
</g>
<g fill="none" stroke-linejoin="round" stroke-linecap="butt">
<path d="M460 20C460.92 27.33 463.17 46.25 465 60C466.83 73.75 469.08 88.58 470 95" stroke="#6d6f9e" stroke-width="20"/>
<path d="M460 20C460.92 27.33 463.17 46.25 465 60C466.83 73.75 469.08 88.58 470 95" stroke="#9496c8" stroke-width="17.2" transform="translate(-0.6,-0.6)"/>
<path d="M460 20C460.92 27.33 463.17 46.25 465 60C466.83 73.75 469.08 88.58 470 95" stroke="#b3b5ea" stroke-width="13.2" transform="translate(-1.4,-1.4)"/>
<path d="M460 20C460.92 27.33 463.17 46.25 465 60C466.83 73.75 469.08 88.58 470 95" stroke="#e0e1ff" stroke-width="4.8" transform="translate(-2.6,-2.6)"/>
</g>
<g fill="none" stroke-linejoin="round" stroke-linecap="round">
<path d="M520 248L565 260" stroke="#8c8dab" stroke-width="24"/>
<path d="M520 248L565 260" stroke="#adaed3" stroke-width="20.64" transform="translate(-0.72,-0.72)"/>
<path d="M520 248L565 260" stroke="#c8c9f4" stroke-width="15.84" transform="translate(-1.68,-1.68)"/>
<path d="M520 248L565 260" stroke="#e4e4fa" stroke-width="5.76" transform="translate(-3.12,-3.12)"/>
</g>
<g fill="none" stroke-linejoin="round" stroke-linecap="round">
<path d="M560 258L575 275L584 300" stroke="#5c62c0" stroke-width="24"/>
<path d="M560 258L575 275L584 300" stroke="#6f76dd" stroke-width="20.64" transform="translate(-0.72,-0.72)"/>
<path d="M560 258L575 275L584 300" stroke="#7f86f5" stroke-width="15.84" transform="translate(-1.68,-1.68)"/>
<path d="M560 258L575 275L584 300" stroke="#b0b4ff" stroke-width="5.76" transform="translate(-3.12,-3.12)"/>
</g>
<g fill="none" stroke-linejoin="round" stroke-linecap="round">
<path d="M584 300L595 330L542 350" stroke="#898baa" stroke-width="24"/>
<path d="M584 300L595 330L542 350" stroke="#a9abd2" stroke-width="20.64" transform="translate(-0.72,-0.72)"/>
<path d="M584 300L595 330L542 350" stroke="#c4c6f3" stroke-width="15.84" transform="translate(-1.68,-1.68)"/>
<path d="M584 300L595 330L542 350" stroke="#e2e2f9" stroke-width="5.76" transform="translate(-3.12,-3.12)"/>
</g>
<g fill="none" stroke-linejoin="round" stroke-linecap="round">
<path d="M528 325L565 321" stroke="#b03a3e" stroke-width="27"/>
<path d="M528 325L565 321" stroke="#d3494d" stroke-width="23.22" transform="translate(-0.81,-0.81)"/>
<path d="M528 325L565 321" stroke="#f0555a" stroke-width="17.82" transform="translate(-1.89,-1.89)"/>
<path d="M528 325L565 321" stroke="#ffa0a0" stroke-width="6.48" transform="translate(-3.51,-3.51)"/>
</g>
<g fill="none" stroke-linejoin="round" stroke-linecap="round">
<path d="M542 350L550 425L610 472L660 440L655 375L595 330" stroke="#898baa" stroke-width="24"/>
<path d="M542 350L550 425L610 472L660 440L655 375L595 330" stroke="#a9abd2" stroke-width="20.64" transform="translate(-0.72,-0.72)"/>
<path d="M542 350L550 425L610 472L660 440L655 375L595 330" stroke="#c4c6f3" stroke-width="15.84" transform="translate(-1.68,-1.68)"/>
<path d="M542 350L550 425L610 472L660 440L655 375L595 330" stroke="#e2e2f9" stroke-width="5.76" transform="translate(-3.12,-3.12)"/>
</g>
<g fill="none" stroke-linejoin="round" stroke-linecap="butt" opacity="0.95">
<path d="M130 724C133.67 736.1 137.17 772.4 150 790C162.83 807.6 184.42 809 200 820C215.58 831 224 836.25 235 850C246 863.75 251.75 876.67 260 895C268.25 913.33 269 930.75 280 950C291 969.25 305.33 987.17 320 1000C334.67 1012.83 342.58 1019.08 360 1020C377.42 1020.92 393.92 1013.25 415 1005C436.08 996.75 454.83 979.58 475 975C495.17 970.42 508.5 974.5 525 980C541.5 985.5 557.67 1000.42 565 1005" stroke="#9a9cba" stroke-width="19"/>
<path d="M130 724C133.67 736.1 137.17 772.4 150 790C162.83 807.6 184.42 809 200 820C215.58 831 224 836.25 235 850C246 863.75 251.75 876.67 260 895C268.25 913.33 269 930.75 280 950C291 969.25 305.33 987.17 320 1000C334.67 1012.83 342.58 1019.08 360 1020C377.42 1020.92 393.92 1013.25 415 1005C436.08 996.75 454.83 979.58 475 975C495.17 970.42 508.5 974.5 525 980C541.5 985.5 557.67 1000.42 565 1005" stroke="#aeb0cd" stroke-width="16.34" transform="translate(-0.57,-0.57)"/>
<path d="M130 724C133.67 736.1 137.17 772.4 150 790C162.83 807.6 184.42 809 200 820C215.58 831 224 836.25 235 850C246 863.75 251.75 876.67 260 895C268.25 913.33 269 930.75 280 950C291 969.25 305.33 987.17 320 1000C334.67 1012.83 342.58 1019.08 360 1020C377.42 1020.92 393.92 1013.25 415 1005C436.08 996.75 454.83 979.58 475 975C495.17 970.42 508.5 974.5 525 980C541.5 985.5 557.67 1000.42 565 1005" stroke="#bfc1dc" stroke-width="12.54" transform="translate(-1.33,-1.33)"/>
<path d="M130 724C133.67 736.1 137.17 772.4 150 790C162.83 807.6 184.42 809 200 820C215.58 831 224 836.25 235 850C246 863.75 251.75 876.67 260 895C268.25 913.33 269 930.75 280 950C291 969.25 305.33 987.17 320 1000C334.67 1012.83 342.58 1019.08 360 1020C377.42 1020.92 393.92 1013.25 415 1005C436.08 996.75 454.83 979.58 475 975C495.17 970.42 508.5 974.5 525 980C541.5 985.5 557.67 1000.42 565 1005" stroke="#e6e7f6" stroke-width="4.56" transform="translate(-2.47,-2.47)"/>
</g>
<g fill="none" stroke-linejoin="round" stroke-linecap="butt" opacity="0.9">
<path d="M555 1030C557.75 1042.83 561.75 1078 570 1100C578.25 1122 594.5 1140.83 600 1150" stroke="#b5b7d2" stroke-width="17"/>
<path d="M555 1030C557.75 1042.83 561.75 1078 570 1100C578.25 1122 594.5 1140.83 600 1150" stroke="#c6c8e0" stroke-width="14.62" transform="translate(-0.51,-0.51)"/>
<path d="M555 1030C557.75 1042.83 561.75 1078 570 1100C578.25 1122 594.5 1140.83 600 1150" stroke="#d3d5ec" stroke-width="11.22" transform="translate(-1.19,-1.19)"/>
<path d="M555 1030C557.75 1042.83 561.75 1078 570 1100C578.25 1122 594.5 1140.83 600 1150" stroke="#f0f1fb" stroke-width="4.08" transform="translate(-2.21,-2.21)"/>
</g>
<g fill="none" stroke-linejoin="round" stroke-linecap="butt" opacity="0.9">
<path d="M640 1060C646.42 1067.33 671.33 1083.5 675 1100C678.67 1116.5 668.25 1137.17 660 1150C651.75 1162.83 635.5 1166.33 630 1170" stroke="#b5b7d2" stroke-width="17"/>
<path d="M640 1060C646.42 1067.33 671.33 1083.5 675 1100C678.67 1116.5 668.25 1137.17 660 1150C651.75 1162.83 635.5 1166.33 630 1170" stroke="#c6c8e0" stroke-width="14.62" transform="translate(-0.51,-0.51)"/>
<path d="M640 1060C646.42 1067.33 671.33 1083.5 675 1100C678.67 1116.5 668.25 1137.17 660 1150C651.75 1162.83 635.5 1166.33 630 1170" stroke="#d3d5ec" stroke-width="11.22" transform="translate(-1.19,-1.19)"/>
<path d="M640 1060C646.42 1067.33 671.33 1083.5 675 1100C678.67 1116.5 668.25 1137.17 660 1150C651.75 1162.83 635.5 1166.33 630 1170" stroke="#f0f1fb" stroke-width="4.08" transform="translate(-2.21,-2.21)"/>
</g>
<g fill="none" stroke-linejoin="round" stroke-linecap="butt" opacity="0.95">
<path d="M575 1190C570.05 1197.33 549.83 1214.42 548 1230C546.17 1245.58 552.72 1264 565 1275C577.28 1286 599.42 1290 615 1290C630.58 1290 642.67 1283.25 650 1275C657.33 1266.75 654.08 1250.5 655 1245" stroke="#a9abc8" stroke-width="17"/>
<path d="M575 1190C570.05 1197.33 549.83 1214.42 548 1230C546.17 1245.58 552.72 1264 565 1275C577.28 1286 599.42 1290 615 1290C630.58 1290 642.67 1283.25 650 1275C657.33 1266.75 654.08 1250.5 655 1245" stroke="#bdbfda" stroke-width="14.62" transform="translate(-0.51,-0.51)"/>
<path d="M575 1190C570.05 1197.33 549.83 1214.42 548 1230C546.17 1245.58 552.72 1264 565 1275C577.28 1286 599.42 1290 615 1290C630.58 1290 642.67 1283.25 650 1275C657.33 1266.75 654.08 1250.5 655 1245" stroke="#cdcfe8" stroke-width="11.22" transform="translate(-1.19,-1.19)"/>
<path d="M575 1190C570.05 1197.33 549.83 1214.42 548 1230C546.17 1245.58 552.72 1264 565 1275C577.28 1286 599.42 1290 615 1290C630.58 1290 642.67 1283.25 650 1275C657.33 1266.75 654.08 1250.5 655 1245" stroke="#eeeffa" stroke-width="4.08" transform="translate(-2.21,-2.21)"/>
</g>
<g fill="none" stroke-linejoin="round" stroke-linecap="butt">
<path d="M38 890C40.2 899.17 38.63 918.92 50 940C61.37 961.08 87.53 983 100 1005C112.47 1027 119.83 1038 118 1060C116.17 1082 107.05 1098.42 90 1125C72.95 1151.58 36.92 1190.33 25 1205" stroke="#6e709f" stroke-width="22"/>
<path d="M38 890C40.2 899.17 38.63 918.92 50 940C61.37 961.08 87.53 983 100 1005C112.47 1027 119.83 1038 118 1060C116.17 1082 107.05 1098.42 90 1125C72.95 1151.58 36.92 1190.33 25 1205" stroke="#9092c5" stroke-width="18.92" transform="translate(-0.66,-0.66)"/>
<path d="M38 890C40.2 899.17 38.63 918.92 50 940C61.37 961.08 87.53 983 100 1005C112.47 1027 119.83 1038 118 1060C116.17 1082 107.05 1098.42 90 1125C72.95 1151.58 36.92 1190.33 25 1205" stroke="#abade4" stroke-width="14.52" transform="translate(-1.54,-1.54)"/>
<path d="M38 890C40.2 899.17 38.63 918.92 50 940C61.37 961.08 87.53 983 100 1005C112.47 1027 119.83 1038 118 1060C116.17 1082 107.05 1098.42 90 1125C72.95 1151.58 36.92 1190.33 25 1205" stroke="#dcddff" stroke-width="5.28" transform="translate(-2.86,-2.86)"/>
</g>
<g fill="none" stroke-linejoin="round" stroke-linecap="butt">
<path d="M303 962C299.7 973.55 299.3 998.78 285 1025C270.7 1051.22 247 1079.33 225 1105C203 1130.67 176 1154 165 1165" stroke="#6e709f" stroke-width="22"/>
<path d="M303 962C299.7 973.55 299.3 998.78 285 1025C270.7 1051.22 247 1079.33 225 1105C203 1130.67 176 1154 165 1165" stroke="#9092c5" stroke-width="18.92" transform="translate(-0.66,-0.66)"/>
<path d="M303 962C299.7 973.55 299.3 998.78 285 1025C270.7 1051.22 247 1079.33 225 1105C203 1130.67 176 1154 165 1165" stroke="#abade4" stroke-width="14.52" transform="translate(-1.54,-1.54)"/>
<path d="M303 962C299.7 973.55 299.3 998.78 285 1025C270.7 1051.22 247 1079.33 225 1105C203 1130.67 176 1154 165 1165" stroke="#dcddff" stroke-width="5.28" transform="translate(-2.86,-2.86)"/>
</g>
<g fill="none" stroke-linejoin="round" stroke-linecap="butt">
<path d="M25 985C26.83 989.58 32.25 999.92 35 1010C37.75 1020.08 39.08 1034.5 40 1040" stroke="#8a8cb0" stroke-width="20"/>
<path d="M25 985C26.83 989.58 32.25 999.92 35 1010C37.75 1020.08 39.08 1034.5 40 1040" stroke="#a2a4c8" stroke-width="17.2" transform="translate(-0.6,-0.6)"/>
<path d="M25 985C26.83 989.58 32.25 999.92 35 1010C37.75 1020.08 39.08 1034.5 40 1040" stroke="#b5b7dc" stroke-width="13.2" transform="translate(-1.4,-1.4)"/>
<path d="M25 985C26.83 989.58 32.25 999.92 35 1010C37.75 1020.08 39.08 1034.5 40 1040" stroke="#dcddf5" stroke-width="4.8" transform="translate(-2.6,-2.6)"/>
</g>
<g fill="none" stroke-linejoin="round" stroke-linecap="butt">
<path d="M25 1340L100 1393" stroke="#7375a5" stroke-width="28"/>
<path d="M25 1340L100 1393" stroke="#8385b6" stroke-width="24.08" transform="translate(-0.84,-0.84)"/>
<path d="M25 1340L100 1393" stroke="#9092c4" stroke-width="18.48" transform="translate(-1.96,-1.96)"/>
<path d="M25 1340L100 1393" stroke="#aeb0dc" stroke-width="6.72" transform="translate(-3.64,-3.64)"/>
</g>
<g fill="none" stroke-linejoin="round" stroke-linecap="butt">
<path d="M891 23C891.55 27.95 897.12 37.72 894 50C890.88 62.28 883.17 75.33 874 90C864.83 104.67 852.25 116.25 844 130C835.75 143.75 832.3 152.17 829 165C825.7 177.83 826.55 193.58 826 200" stroke="#74769f" stroke-width="21"/>
<path d="M891 23C891.55 27.95 897.12 37.72 894 50C890.88 62.28 883.17 75.33 874 90C864.83 104.67 852.25 116.25 844 130C835.75 143.75 832.3 152.17 829 165C825.7 177.83 826.55 193.58 826 200" stroke="#9294c3" stroke-width="18.06" transform="translate(-0.63,-0.63)"/>
<path d="M891 23C891.55 27.95 897.12 37.72 894 50C890.88 62.28 883.17 75.33 874 90C864.83 104.67 852.25 116.25 844 130C835.75 143.75 832.3 152.17 829 165C825.7 177.83 826.55 193.58 826 200" stroke="#abade0" stroke-width="13.86" transform="translate(-1.47,-1.47)"/>
<path d="M891 23C891.55 27.95 897.12 37.72 894 50C890.88 62.28 883.17 75.33 874 90C864.83 104.67 852.25 116.25 844 130C835.75 143.75 832.3 152.17 829 165C825.7 177.83 826.55 193.58 826 200" stroke="#d6d7f7" stroke-width="5.04" transform="translate(-2.73,-2.73)"/>
</g>
<polygon points="826,198 838,205 860,300 892,410 876,416 874,405 815,605 744,607 750,520 762,395 740,392 732,388 790,280" fill="url(#lgAr)" />
<polygon points="732,388 790,280 826,198 800,290 750,380 762,395 750,520 748,450" fill="#8f91bd" opacity="0.8"/>
<g fill="none" stroke-linejoin="round" stroke-linecap="butt">
<path d="M800 607C798.17 613.05 797.33 626.62 790 640C782.67 653.38 773.75 666.25 760 680C746.25 693.75 723.25 708.58 715 715" stroke="#6e7096" stroke-width="20"/>
<path d="M800 607C798.17 613.05 797.33 626.62 790 640C782.67 653.38 773.75 666.25 760 680C746.25 693.75 723.25 708.58 715 715" stroke="#8688af" stroke-width="17.2" transform="translate(-0.6,-0.6)"/>
<path d="M800 607C798.17 613.05 797.33 626.62 790 640C782.67 653.38 773.75 666.25 760 680C746.25 693.75 723.25 708.58 715 715" stroke="#9a9cc4" stroke-width="13.2" transform="translate(-1.4,-1.4)"/>
<path d="M800 607C798.17 613.05 797.33 626.62 790 640C782.67 653.38 773.75 666.25 760 680C746.25 693.75 723.25 708.58 715 715" stroke="#c5c6e5" stroke-width="4.8" transform="translate(-2.6,-2.6)"/>
</g>
<g fill="none" stroke-linejoin="round" stroke-linecap="round">
<path d="M715 720L700 760L716 800" stroke="#8d8d8d" stroke-width="25"/>
<path d="M715 720L700 760L716 800" stroke="#b2b2b2" stroke-width="21.5" transform="translate(-0.75,-0.75)"/>
<path d="M715 720L700 760L716 800" stroke="#d0d0d0" stroke-width="16.5" transform="translate(-1.75,-1.75)"/>
<path d="M715 720L700 760L716 800" stroke="#f5f5f5" stroke-width="6" transform="translate(-3.25,-3.25)"/>
</g>
<g fill="none" stroke-linejoin="round" stroke-linecap="round">
<path d="M700 748L770 728L800 745" stroke="#5e5e5e" stroke-width="27"/>
<path d="M700 748L770 728L800 745" stroke="#787878" stroke-width="23.22" transform="translate(-0.81,-0.81)"/>
<path d="M700 748L770 728L800 745" stroke="#8d8d8d" stroke-width="17.82" transform="translate(-1.89,-1.89)"/>
<path d="M700 748L770 728L800 745" stroke="#c0c0c0" stroke-width="6.48" transform="translate(-3.51,-3.51)"/>
</g>
<g fill="none" stroke-linejoin="round" stroke-linecap="round">
<path d="M795 742L822 762" stroke="#7e2225" stroke-width="27"/>
<path d="M795 742L822 762" stroke="#9e2e31" stroke-width="23.22" transform="translate(-0.81,-0.81)"/>
<path d="M795 742L822 762" stroke="#b8373a" stroke-width="17.82" transform="translate(-1.89,-1.89)"/>
<path d="M795 742L822 762" stroke="#e07a7c" stroke-width="6.48" transform="translate(-3.51,-3.51)"/>
</g>
<g fill="none" stroke-linejoin="round" stroke-linecap="round">
<path d="M585 715L668 688L705 755" stroke="#8f8f8f" stroke-width="26"/>
<path d="M585 715L668 688L705 755" stroke="#b2b2b2" stroke-width="22.36" transform="translate(-0.78,-0.78)"/>
<path d="M585 715L668 688L705 755" stroke="#cfcfcf" stroke-width="17.16" transform="translate(-1.82,-1.82)"/>
<path d="M585 715L668 688L705 755" stroke="#f7f7f7" stroke-width="6.24" transform="translate(-3.38,-3.38)"/>
</g>
<g fill="none" stroke-linejoin="round" stroke-linecap="round">
<path d="M545 630L565 672" stroke="#7e6a1c" stroke-width="26"/>
<path d="M545 630L565 672" stroke="#9e8525" stroke-width="22.36" transform="translate(-0.78,-0.78)"/>
<path d="M545 630L565 672" stroke="#b89b2c" stroke-width="17.16" transform="translate(-1.82,-1.82)"/>
<path d="M545 630L565 672" stroke="#e0c860" stroke-width="6.24" transform="translate(-3.38,-3.38)"/>
</g>
<g fill="none" stroke-linejoin="round" stroke-linecap="round">
<path d="M565 672L587 715" stroke="#8f8f8f" stroke-width="26"/>
<path d="M565 672L587 715" stroke="#afafaf" stroke-width="22.36" transform="translate(-0.78,-0.78)"/>
<path d="M565 672L587 715" stroke="#c9c9c9" stroke-width="17.16" transform="translate(-1.82,-1.82)"/>
<path d="M565 672L587 715" stroke="#f0f0f0" stroke-width="6.24" transform="translate(-3.38,-3.38)"/>
</g>
<g fill="none" stroke-linejoin="round" stroke-linecap="round">
<path d="M548 630L588 628" stroke="#7e6a1c" stroke-width="26"/>
<path d="M548 630L588 628" stroke="#9e8525" stroke-width="22.36" transform="translate(-0.78,-0.78)"/>
<path d="M548 630L588 628" stroke="#b89b2c" stroke-width="17.16" transform="translate(-1.82,-1.82)"/>
<path d="M548 630L588 628" stroke="#e0c860" stroke-width="6.24" transform="translate(-3.38,-3.38)"/>
</g>
<g fill="none" stroke-linejoin="round" stroke-linecap="round">
<path d="M590 628L650 627" stroke="#8a8a8a" stroke-width="26"/>
<path d="M590 628L650 627" stroke="#aaaaaa" stroke-width="22.36" transform="translate(-0.78,-0.78)"/>
<path d="M590 628L650 627" stroke="#c4c4c4" stroke-width="17.16" transform="translate(-1.82,-1.82)"/>
<path d="M590 628L650 627" stroke="#f8f8f8" stroke-width="6.24" transform="translate(-3.38,-3.38)"/>
</g>
<g fill="none" stroke-linejoin="round" stroke-linecap="round">
<path d="M712 795L722 815" stroke="#1c2390" stroke-width="25"/>
<path d="M712 795L722 815" stroke="#242db8" stroke-width="21.5" transform="translate(-0.75,-0.75)"/>
<path d="M712 795L722 815" stroke="#2a35d8" stroke-width="16.5" transform="translate(-1.75,-1.75)"/>
<path d="M712 795L722 815" stroke="#6d76ff" stroke-width="6" transform="translate(-3.25,-3.25)"/>
</g>
<g fill="none" stroke-linejoin="round" stroke-linecap="round">
<path d="M480 1000L570 1022" stroke="#64668c" stroke-width="28"/>
<path d="M480 1000L570 1022" stroke="#7b7da6" stroke-width="24.08" transform="translate(-0.84,-0.84)"/>
<path d="M480 1000L570 1022" stroke="#8e90bb" stroke-width="18.48" transform="translate(-1.96,-1.96)"/>
<path d="M480 1000L570 1022" stroke="#b6b8dc" stroke-width="6.72" transform="translate(-3.64,-3.64)"/>
</g>
<g fill="none" stroke-linejoin="round" stroke-linecap="round">
<path d="M570 1020L566 960L600 925" stroke="#5b5d82" stroke-width="28"/>
<path d="M570 1020L566 960L600 925" stroke="#70729a" stroke-width="24.08" transform="translate(-0.84,-0.84)"/>
<path d="M570 1020L566 960L600 925" stroke="#8183ad" stroke-width="18.48" transform="translate(-1.96,-1.96)"/>
<path d="M570 1020L566 960L600 925" stroke="#a9abd0" stroke-width="6.72" transform="translate(-3.64,-3.64)"/>
</g>
<g fill="none" stroke-linejoin="round" stroke-linecap="round">
<path d="M600 921L1015 920" stroke="#63659a" stroke-width="25"/>
<path d="M600 921L1015 920" stroke="#8a8cc2" stroke-width="21.5" transform="translate(-0.75,-0.75)"/>
<path d="M600 921L1015 920" stroke="#a9abe3" stroke-width="16.5" transform="translate(-1.75,-1.75)"/>
<path d="M600 921L1015 920" stroke="#d9daff" stroke-width="6" transform="translate(-3.25,-3.25)"/>
</g>
<g fill="none" stroke-linejoin="round" stroke-linecap="round">
<path d="M620 935L800 955L1015 925" stroke="#63659a" stroke-width="23"/>
<path d="M620 935L800 955L1015 925" stroke="#8a8cc2" stroke-width="19.78" transform="translate(-0.69,-0.69)"/>
<path d="M620 935L800 955L1015 925" stroke="#a9abe3" stroke-width="15.18" transform="translate(-1.61,-1.61)"/>
<path d="M620 935L800 955L1015 925" stroke="#d9daff" stroke-width="5.52" transform="translate(-2.99,-2.99)"/>
</g>
<g fill="none" stroke-linejoin="round" stroke-linecap="round">
<path d="M725 850L715 890L600 922" stroke="#76789f" stroke-width="25"/>
<path d="M725 850L715 890L600 922" stroke="#9294c4" stroke-width="21.5" transform="translate(-0.75,-0.75)"/>
<path d="M725 850L715 890L600 922" stroke="#a9abe3" stroke-width="16.5" transform="translate(-1.75,-1.75)"/>
<path d="M725 850L715 890L600 922" stroke="#d4d5f1" stroke-width="6" transform="translate(-3.25,-3.25)"/>
</g>
<g fill="none" stroke-linejoin="round" stroke-linecap="round">
<path d="M725 850L790 915" stroke="#76789f" stroke-width="25"/>
<path d="M725 850L790 915" stroke="#9294c4" stroke-width="21.5" transform="translate(-0.75,-0.75)"/>
<path d="M725 850L790 915" stroke="#a9abe3" stroke-width="16.5" transform="translate(-1.75,-1.75)"/>
<path d="M725 850L790 915" stroke="#d4d5f1" stroke-width="6" transform="translate(-3.25,-3.25)"/>
</g>
<g fill="none" stroke-linejoin="round" stroke-linecap="round">
<path d="M737 805L727 850" stroke="#a8262a" stroke-width="28"/>
<path d="M737 805L727 850" stroke="#ce3135" stroke-width="24.08" transform="translate(-0.84,-0.84)"/>
<path d="M737 805L727 850" stroke="#ee3a3e" stroke-width="18.48" transform="translate(-1.96,-1.96)"/>
<path d="M737 805L727 850" stroke="#ff9090" stroke-width="6.72" transform="translate(-3.64,-3.64)"/>
</g>
<g fill="none" stroke-linejoin="round" stroke-linecap="round">
<path d="M800 925L740 975L742 1030" stroke="#76789f" stroke-width="25"/>
<path d="M800 925L740 975L742 1030" stroke="#9294c4" stroke-width="21.5" transform="translate(-0.75,-0.75)"/>
<path d="M800 925L740 975L742 1030" stroke="#a9abe3" stroke-width="16.5" transform="translate(-1.75,-1.75)"/>
<path d="M800 925L740 975L742 1030" stroke="#d4d5f1" stroke-width="6" transform="translate(-3.25,-3.25)"/>
</g>
<g fill="none" stroke-linejoin="round" stroke-linecap="round">
<path d="M742 1030L745 1075" stroke="#5b5d82" stroke-width="25"/>
<path d="M742 1030L745 1075" stroke="#6e7097" stroke-width="21.5" transform="translate(-0.75,-0.75)"/>
<path d="M742 1030L745 1075" stroke="#7d7fa8" stroke-width="16.5" transform="translate(-1.75,-1.75)"/>
<path d="M742 1030L745 1075" stroke="#a9abd0" stroke-width="6" transform="translate(-3.25,-3.25)"/>
</g>
<g fill="none" stroke-linejoin="round" stroke-linecap="round">
<path d="M592 962L660 1055L625 1150" stroke="#76789f" stroke-width="27"/>
<path d="M592 962L660 1055L625 1150" stroke="#9294c4" stroke-width="23.22" transform="translate(-0.81,-0.81)"/>
<path d="M592 962L660 1055L625 1150" stroke="#a9abe3" stroke-width="17.82" transform="translate(-1.89,-1.89)"/>
<path d="M592 962L660 1055L625 1150" stroke="#d4d5f1" stroke-width="6.48" transform="translate(-3.51,-3.51)"/>
</g>
<g fill="none" stroke-linejoin="round" stroke-linecap="round">
<path d="M660 1055L745 1075" stroke="#5b5d82" stroke-width="25"/>
<path d="M660 1055L745 1075" stroke="#70729a" stroke-width="21.5" transform="translate(-0.75,-0.75)"/>
<path d="M660 1055L745 1075" stroke="#8183ad" stroke-width="16.5" transform="translate(-1.75,-1.75)"/>
<path d="M660 1055L745 1075" stroke="#a9abd0" stroke-width="6" transform="translate(-3.25,-3.25)"/>
</g>
<g fill="none" stroke-linejoin="round" stroke-linecap="round">
<path d="M670 1060L700 1068" stroke="#7e2a2e" stroke-width="25"/>
<path d="M670 1060L700 1068" stroke="#9a363b" stroke-width="21.5" transform="translate(-0.75,-0.75)"/>
<path d="M670 1060L700 1068" stroke="#b04045" stroke-width="16.5" transform="translate(-1.75,-1.75)"/>
<path d="M670 1060L700 1068" stroke="#d88080" stroke-width="6" transform="translate(-3.25,-3.25)"/>
</g>
<g fill="none" stroke-linejoin="round" stroke-linecap="round">
<path d="M745 1076L782 1078" stroke="#a8262a" stroke-width="26"/>
<path d="M745 1076L782 1078" stroke="#cc373a" stroke-width="22.36" transform="translate(-0.78,-0.78)"/>
<path d="M745 1076L782 1078" stroke="#ea4448" stroke-width="17.16" transform="translate(-1.82,-1.82)"/>
<path d="M745 1076L782 1078" stroke="#ff9090" stroke-width="6.24" transform="translate(-3.38,-3.38)"/>
</g>
<g fill="none" stroke-linejoin="round" stroke-linecap="round">
<path d="M625 1150L628 1185" stroke="#76789f" stroke-width="27"/>
<path d="M625 1150L628 1185" stroke="#9294c4" stroke-width="23.22" transform="translate(-0.81,-0.81)"/>
<path d="M625 1150L628 1185" stroke="#a9abe3" stroke-width="17.82" transform="translate(-1.89,-1.89)"/>
<path d="M625 1150L628 1185" stroke="#d4d5f1" stroke-width="6.48" transform="translate(-3.51,-3.51)"/>
</g>
<g fill="none" stroke-linejoin="round" stroke-linecap="round">
<path d="M628 1185L636 1228" stroke="#161f98" stroke-width="27"/>
<path d="M628 1185L636 1228" stroke="#1d28c0" stroke-width="23.22" transform="translate(-0.81,-0.81)"/>
<path d="M628 1185L636 1228" stroke="#2330e0" stroke-width="17.82" transform="translate(-1.89,-1.89)"/>
<path d="M628 1185L636 1228" stroke="#6d76ff" stroke-width="6.48" transform="translate(-3.51,-3.51)"/>
</g>
<g fill="none" stroke-linejoin="round" stroke-linecap="round">
<path d="M620 1155L592 1157" stroke="#5b5d82" stroke-width="27"/>
<path d="M620 1155L592 1157" stroke="#70729a" stroke-width="23.22" transform="translate(-0.81,-0.81)"/>
<path d="M620 1155L592 1157" stroke="#8183ad" stroke-width="17.82" transform="translate(-1.89,-1.89)"/>
<path d="M620 1155L592 1157" stroke="#a9abd0" stroke-width="6.48" transform="translate(-3.51,-3.51)"/>
</g>
<g fill="none" stroke-linejoin="round" stroke-linecap="round">
<path d="M592 1157L577 1158" stroke="#741c1c" stroke-width="27"/>
<path d="M592 1157L577 1158" stroke="#912525" stroke-width="23.22" transform="translate(-0.81,-0.81)"/>
<path d="M592 1157L577 1158" stroke="#a82c2c" stroke-width="17.82" transform="translate(-1.89,-1.89)"/>
<path d="M592 1157L577 1158" stroke="#d06060" stroke-width="6.48" transform="translate(-3.51,-3.51)"/>
</g>
<circle cx="1108" cy="604" r="24" fill="#1a2080"/>
<circle cx="1147" cy="503" r="88" fill="url(#sB)"/>
<circle cx="1136.8" cy="405.5" r="96" fill="url(#sR)" clip-path="url(#clR)"/>
<circle cx="1020" cy="620" r="87" fill="url(#sD)"/>
<circle cx="918" cy="618" r="104" fill="url(#sC)"/>
<circle cx="976" cy="523" r="108.5" fill="url(#sA)"/>
</g></g>
<g clip-path="url(#clipR)"><g transform="translate(525,445) scale(0.29697)">
<polygon points="1414,227 1289,315 1306,335 1224,450 1124,550 1049,605 950,665 850,712 740,750 620,790 620,875 740,868 850,850 950,825 1050,790 1150,740 1250,660 1330,560 1390,450 1414,400" fill="url(#rgA)" />
<polygon points="1289,315 1414,227 1414,300 1350,340 1306,335" fill="#93ab97" />
<polygon points="1306,335 1350,300 1414,330 1414,400 1390,450 1330,520 1240,520 1224,450" fill="#b3d1b6" />
<polygon points="1224,450 1240,520 1330,520 1250,640 1150,720 1124,550" fill="#a3b9a7" opacity="0.6"/>
<polygon points="560,962 724,939 874,924 1024,889 1154,839 1274,774 1334,729 1389,814 1299,864 1174,919 1024,969 874,1004 724,1024 560,1040" fill="url(#rgB)" />
<polygon points="1334,729 1389,814 1359,826 1312,742" fill="#c3e9c6" />
<path d="M930 930C948.33 930.92 989.67 940.5 1030 935C1070.33 929.5 1104.17 921.08 1150 900C1195.83 878.92 1243.33 843.83 1280 820C1316.67 796.17 1337.17 779.17 1350 770" fill="none" stroke="#a9bcab" stroke-width="22" opacity="0.5"/>
<path d="M1414 420C1405.93 434.67 1380.82 470.67 1370 500C1359.18 529.33 1364.17 556.17 1355 580C1345.83 603.83 1339.25 615.33 1320 630C1300.75 644.67 1262.83 654.5 1250 660" fill="none" stroke="#dde6de" stroke-width="18" opacity="0.9"/>
<path d="M1414 790C1407.77 801 1400.9 831.67 1380 850C1359.1 868.33 1333 875.33 1300 890C1267 904.67 1234.83 900.67 1200 930C1165.17 959.33 1126.5 1028 1110 1050" fill="none" stroke="#e4eae4" stroke-width="16" opacity="0.9"/>
<g fill="none" stroke-linejoin="round" stroke-linecap="butt">
<path d="M1395 840C1396.83 829 1401.52 800.17 1405 780C1408.48 759.83 1412.35 739.17 1414 730" stroke="#7f9f84" stroke-width="18"/>
<path d="M1395 840C1396.83 829 1401.52 800.17 1405 780C1408.48 759.83 1412.35 739.17 1414 730" stroke="#96b69b" stroke-width="15.48" transform="translate(-0.54,-0.54)"/>
<path d="M1395 840C1396.83 829 1401.52 800.17 1405 780C1408.48 759.83 1412.35 739.17 1414 730" stroke="#a9c9ad" stroke-width="11.88" transform="translate(-1.26,-1.26)"/>
<path d="M1395 840C1396.83 829 1401.52 800.17 1405 780C1408.48 759.83 1412.35 739.17 1414 730" stroke="#d5ead7" stroke-width="4.32" transform="translate(-2.34,-2.34)"/>
</g>
<g fill="none" stroke-linejoin="round" stroke-linecap="butt">
<path d="M1400 700C1401.83 690.83 1407.43 666.5 1410 650C1412.57 633.5 1413.27 617.33 1414 610" stroke="#7f9f84" stroke-width="16"/>
<path d="M1400 700C1401.83 690.83 1407.43 666.5 1410 650C1412.57 633.5 1413.27 617.33 1414 610" stroke="#96b69b" stroke-width="13.76" transform="translate(-0.48,-0.48)"/>
<path d="M1400 700C1401.83 690.83 1407.43 666.5 1410 650C1412.57 633.5 1413.27 617.33 1414 610" stroke="#a9c9ad" stroke-width="10.56" transform="translate(-1.12,-1.12)"/>
<path d="M1400 700C1401.83 690.83 1407.43 666.5 1410 650C1412.57 633.5 1413.27 617.33 1414 610" stroke="#d5ead7" stroke-width="3.84" transform="translate(-2.08,-2.08)"/>
</g>
<g fill="none" stroke-linejoin="round" stroke-linecap="butt">
<path d="M1319 45C1317.17 59.67 1312.67 95.67 1309 125C1305.33 154.33 1305.42 189.05 1299 205C1292.58 220.95 1278.58 210.72 1274 212" stroke="#9fb5a2" stroke-width="19"/>
<path d="M1319 45C1317.17 59.67 1312.67 95.67 1309 125C1305.33 154.33 1305.42 189.05 1299 205C1292.58 220.95 1278.58 210.72 1274 212" stroke="#b1c6b4" stroke-width="16.34" transform="translate(-0.57,-0.57)"/>
<path d="M1319 45C1317.17 59.67 1312.67 95.67 1309 125C1305.33 154.33 1305.42 189.05 1299 205C1292.58 220.95 1278.58 210.72 1274 212" stroke="#c0d3c2" stroke-width="12.54" transform="translate(-1.33,-1.33)"/>
<path d="M1319 45C1317.17 59.67 1312.67 95.67 1309 125C1305.33 154.33 1305.42 189.05 1299 205C1292.58 220.95 1278.58 210.72 1274 212" stroke="#e5efe6" stroke-width="4.56" transform="translate(-2.47,-2.47)"/>
</g>
<g fill="none" stroke-linejoin="round" stroke-linecap="butt">
<path d="M1261 32C1272.55 31.08 1295.95 22.42 1324 27C1352.05 31.58 1397.5 51.5 1414 57" stroke="#7fa084" stroke-width="20"/>
<path d="M1261 32C1272.55 31.08 1295.95 22.42 1324 27C1352.05 31.58 1397.5 51.5 1414 57" stroke="#96b79b" stroke-width="17.2" transform="translate(-0.6,-0.6)"/>
<path d="M1261 32C1272.55 31.08 1295.95 22.42 1324 27C1352.05 31.58 1397.5 51.5 1414 57" stroke="#a9caad" stroke-width="13.2" transform="translate(-1.4,-1.4)"/>
<path d="M1261 32C1272.55 31.08 1295.95 22.42 1324 27C1352.05 31.58 1397.5 51.5 1414 57" stroke="#d5ead7" stroke-width="4.8" transform="translate(-2.6,-2.6)"/>
</g>
<polygon points="1200,215 1240,190 1300,235 1280,262 1240,240" fill="#dbe9dc" />
<polygon points="724,255 750,250 824,312 934,332 1004,342 874,432 854,440 869,415 800,352 724,282" fill="url(#rgC)" />
<polygon points="724,255 750,250 824,312 800,318 740,275" fill="#c3cfc4" />
<polygon points="854,440 905,410 1000,520 900,600 815,560 835,500" fill="#b9c7bb" />
<polygon points="1149,185 1204,230 1229,275 1189,305 1160,300 1170,250" fill="#4a6e52" />
<polygon points="1229,275 1189,305 1200,400 1250,360 1262,300" fill="#dfe4df" />
<g fill="none" stroke-linejoin="round" stroke-linecap="butt">
<path d="M1184 227C1187.67 224.8 1193 213.53 1204 215C1215 216.47 1232.08 220.33 1244 235C1255.92 249.67 1267.17 272.08 1269 295C1270.83 317.92 1262.25 341.67 1254 360C1245.75 378.33 1235 386.38 1224 395C1213 403.62 1199.5 404.8 1194 407" stroke="#4f8058" stroke-width="17"/>
<path d="M1184 227C1187.67 224.8 1193 213.53 1204 215C1215 216.47 1232.08 220.33 1244 235C1255.92 249.67 1267.17 272.08 1269 295C1270.83 317.92 1262.25 341.67 1254 360C1245.75 378.33 1235 386.38 1224 395C1213 403.62 1199.5 404.8 1194 407" stroke="#74ae7d" stroke-width="14.62" transform="translate(-0.51,-0.51)"/>
<path d="M1184 227C1187.67 224.8 1193 213.53 1204 215C1215 216.47 1232.08 220.33 1244 235C1255.92 249.67 1267.17 272.08 1269 295C1270.83 317.92 1262.25 341.67 1254 360C1245.75 378.33 1235 386.38 1224 395C1213 403.62 1199.5 404.8 1194 407" stroke="#93d39b" stroke-width="11.22" transform="translate(-1.19,-1.19)"/>
<path d="M1184 227C1187.67 224.8 1193 213.53 1204 215C1215 216.47 1232.08 220.33 1244 235C1255.92 249.67 1267.17 272.08 1269 295C1270.83 317.92 1262.25 341.67 1254 360C1245.75 378.33 1235 386.38 1224 395C1213 403.62 1199.5 404.8 1194 407" stroke="#d2f5d5" stroke-width="4.08" transform="translate(-2.21,-2.21)"/>
</g>
<polygon points="22,310 47,297 65,400 80,550 60,540 22,460" fill="#bcbdf2" />
<polygon points="22,724 50,839 22,854" fill="#8e8fbb" />
<g fill="none" stroke-linejoin="round" stroke-linecap="butt">
<path d="M50 842C59.17 855.2 83.5 889.8 100 914C116.5 938.2 132.67 963 140 974" stroke="#9a9cc4" stroke-width="18"/>
<path d="M50 842C59.17 855.2 83.5 889.8 100 914C116.5 938.2 132.67 963 140 974" stroke="#b2b4dc" stroke-width="15.48" transform="translate(-0.54,-0.54)"/>
<path d="M50 842C59.17 855.2 83.5 889.8 100 914C116.5 938.2 132.67 963 140 974" stroke="#c5c7f0" stroke-width="11.88" transform="translate(-1.26,-1.26)"/>
<path d="M50 842C59.17 855.2 83.5 889.8 100 914C116.5 938.2 132.67 963 140 974" stroke="#eaebff" stroke-width="4.32" transform="translate(-2.34,-2.34)"/>
</g>
<g fill="none" stroke-linejoin="round" stroke-linecap="round">
<path d="M22 430L40 432" stroke="#8a8ba8" stroke-width="22"/>
<path d="M22 430L40 432" stroke="#aaacd0" stroke-width="18.92" transform="translate(-0.66,-0.66)"/>
<path d="M22 430L40 432" stroke="#c5c7f0" stroke-width="14.52" transform="translate(-1.54,-1.54)"/>
<path d="M22 430L40 432" stroke="#e2e3f8" stroke-width="5.28" transform="translate(-2.86,-2.86)"/>
</g>
<polygon points="200,500 220,575 260,625 340,724 425,824 435,864 380,889 300,834 260,784 250,724 240,650" fill="#8586b0" />
<polygon points="330,724 400,724 432,790 425,824" fill="#a5a6d4" />
<g fill="none" stroke-linejoin="round" stroke-linecap="round">
<path d="M175 410L205 495" stroke="#6e6f88" stroke-width="26"/>
<path d="M175 410L205 495" stroke="#81829b" stroke-width="22.36" transform="translate(-0.78,-0.78)"/>
<path d="M175 410L205 495" stroke="#9091ab" stroke-width="17.16" transform="translate(-1.82,-1.82)"/>
<path d="M175 410L205 495" stroke="#b5b6cc" stroke-width="6.24" transform="translate(-3.38,-3.38)"/>
</g>
<path d="M80 23L300 425L400 605" stroke="#4a4b6e" stroke-width="2.2" fill="none"/>
<circle cx="303" cy="438" r="12" fill="#8e8fa8"/>
<g fill="none" stroke-linejoin="round" stroke-linecap="butt">
<path d="M185 20C185.92 30.08 193.67 47.13 190 75C186.33 102.87 169.58 154.22 165 172" stroke="#6d6e9c" stroke-width="22"/>
<path d="M185 20C185.92 30.08 193.67 47.13 190 75C186.33 102.87 169.58 154.22 165 172" stroke="#8081b1" stroke-width="18.92" transform="translate(-0.66,-0.66)"/>
<path d="M185 20C185.92 30.08 193.67 47.13 190 75C186.33 102.87 169.58 154.22 165 172" stroke="#9091c2" stroke-width="14.52" transform="translate(-1.54,-1.54)"/>
<path d="M185 20C185.92 30.08 193.67 47.13 190 75C186.33 102.87 169.58 154.22 165 172" stroke="#b9bae0" stroke-width="5.28" transform="translate(-2.86,-2.86)"/>
</g>
<g fill="none" stroke-linejoin="round" stroke-linecap="butt">
<path d="M315 20C323.25 30.08 344.42 53.92 360 75C375.58 96.08 388.63 113 400 135C411.37 157 417.97 184 422 195" stroke="#6d6f9e" stroke-width="22"/>
<path d="M315 20C323.25 30.08 344.42 53.92 360 75C375.58 96.08 388.63 113 400 135C411.37 157 417.97 184 422 195" stroke="#9294c9" stroke-width="18.92" transform="translate(-0.66,-0.66)"/>
<path d="M315 20C323.25 30.08 344.42 53.92 360 75C375.58 96.08 388.63 113 400 135C411.37 157 417.97 184 422 195" stroke="#b0b2ec" stroke-width="14.52" transform="translate(-1.54,-1.54)"/>
<path d="M315 20C323.25 30.08 344.42 53.92 360 75C375.58 96.08 388.63 113 400 135C411.37 157 417.97 184 422 195" stroke="#e0e1ff" stroke-width="5.28" transform="translate(-2.86,-2.86)"/>
</g>
<polygon points="22,100 130,248 118,260 165,390 200,500 220,575 240,650 250,724 260,824 270,974 278,1089 152,1099 140,924 120,724 100,575 80,450 65,350 47,295 22,310" fill="url(#rgS1)" />
<polygon points="47,295 65,350 80,450 100,575 120,724 132,850 118,850 105,724 82,575 60,440 40,330 22,310" fill="#66679a" />
<polygon points="530,600 545,580 565,724 620,724 622,899 590,850 560,834 545,724" fill="#e2e2ff" />
<polygon points="590,724 616,724 616,768" fill="#8e8fbb" />
<g fill="none" stroke-linejoin="round" stroke-linecap="round">
<path d="M340 806L395 809L405 874L360 944L305 944L292 879L340 806" stroke="#5e607e" stroke-width="25"/>
<path d="M340 806L395 809L405 874L360 944L305 944L292 879L340 806" stroke="#727494" stroke-width="21.5" transform="translate(-0.75,-0.75)"/>
<path d="M340 806L395 809L405 874L360 944L305 944L292 879L340 806" stroke="#8385a6" stroke-width="16.5" transform="translate(-1.75,-1.75)"/>
<path d="M340 806L395 809L405 874L360 944L305 944L292 879L340 806" stroke="#aaacc8" stroke-width="6" transform="translate(-3.25,-3.25)"/>
</g>
<g fill="none" stroke-linejoin="round" stroke-linecap="round">
<path d="M405 874L450 934L445 994L400 1014" stroke="#5e607e" stroke-width="25"/>
<path d="M405 874L450 934L445 994L400 1014" stroke="#727494" stroke-width="21.5" transform="translate(-0.75,-0.75)"/>
<path d="M405 874L450 934L445 994L400 1014" stroke="#8385a6" stroke-width="16.5" transform="translate(-1.75,-1.75)"/>
<path d="M405 874L450 934L445 994L400 1014" stroke="#aaacc8" stroke-width="6" transform="translate(-3.25,-3.25)"/>
</g>
<g fill="none" stroke-linejoin="round" stroke-linecap="round">
<path d="M360 944L375 985" stroke="#5e607e" stroke-width="25"/>
<path d="M360 944L375 985" stroke="#727494" stroke-width="21.5" transform="translate(-0.75,-0.75)"/>
<path d="M360 944L375 985" stroke="#8385a6" stroke-width="16.5" transform="translate(-1.75,-1.75)"/>
<path d="M360 944L375 985" stroke="#aaacc8" stroke-width="6" transform="translate(-3.25,-3.25)"/>
</g>
<g fill="none" stroke-linejoin="round" stroke-linecap="round">
<path d="M377 990L398 1012" stroke="#12155e" stroke-width="27"/>
<path d="M377 990L398 1012" stroke="#181c7a" stroke-width="23.22" transform="translate(-0.81,-0.81)"/>
<path d="M377 990L398 1012" stroke="#1d2290" stroke-width="17.82" transform="translate(-1.89,-1.89)"/>
<path d="M377 990L398 1012" stroke="#4a50c0" stroke-width="6.48" transform="translate(-3.51,-3.51)"/>
</g>
<g fill="none" stroke-linejoin="round" stroke-linecap="round">
<path d="M520 435L538 450L565 500L538 545" stroke="#8b8da7" stroke-width="22"/>
<path d="M520 435L538 450L565 500L538 545" stroke="#acaece" stroke-width="18.92" transform="translate(-0.66,-0.66)"/>
<path d="M520 435L538 450L565 500L538 545" stroke="#c7c9ee" stroke-width="14.52" transform="translate(-1.54,-1.54)"/>
<path d="M520 435L538 450L565 500L538 545" stroke="#e3e4f6" stroke-width="5.28" transform="translate(-2.86,-2.86)"/>
</g>
<polygon points="360,205 487,188 500,300 515,450 530,600 545,724 560,834 590,831 550,1024 530,1074 515,1064 407,869 430,864 415,724 400,600 385,450 370,300" fill="url(#rgS3)" />
<polygon points="360,205 378,203 388,330 392,470 385,450 370,300" fill="#5d5e8c" />
<polygon points="545,724 560,834 590,831 550,1024 540,1000 555,860" fill="#8384b8" opacity="0.7"/>
<g fill="none" stroke-linejoin="round" stroke-linecap="round">
<path d="M578 916L618 914" stroke="#a8262a" stroke-width="27"/>
<path d="M578 916L618 914" stroke="#ce3135" stroke-width="23.22" transform="translate(-0.81,-0.81)"/>
<path d="M578 916L618 914" stroke="#ee3a3e" stroke-width="17.82" transform="translate(-1.89,-1.89)"/>
<path d="M578 916L618 914" stroke="#ff9090" stroke-width="6.48" transform="translate(-3.51,-3.51)"/>
</g>
<g fill="none" stroke-linejoin="round" stroke-linecap="butt">
<path d="M685 20C687.2 27.33 697.92 43.5 697 60C696.08 76.5 686.78 90.75 680 110C673.22 129.25 663.3 144.47 660 165C656.7 185.53 661.63 211.55 662 222" stroke="#74769f" stroke-width="21"/>
<path d="M685 20C687.2 27.33 697.92 43.5 697 60C696.08 76.5 686.78 90.75 680 110C673.22 129.25 663.3 144.47 660 165C656.7 185.53 661.63 211.55 662 222" stroke="#9294c3" stroke-width="18.06" transform="translate(-0.63,-0.63)"/>
<path d="M685 20C687.2 27.33 697.92 43.5 697 60C696.08 76.5 686.78 90.75 680 110C673.22 129.25 663.3 144.47 660 165C656.7 185.53 661.63 211.55 662 222" stroke="#abade0" stroke-width="13.86" transform="translate(-1.47,-1.47)"/>
<path d="M685 20C687.2 27.33 697.92 43.5 697 60C696.08 76.5 686.78 90.75 680 110C673.22 129.25 663.3 144.47 660 165C656.7 185.53 661.63 211.55 662 222" stroke="#d6d7f7" stroke-width="5.04" transform="translate(-2.73,-2.73)"/>
</g>
<polygon points="655,222 690,222 745,310 797,398 775,408 790,470 800,560 830,590 735,615 720,600 700,500 680,420 650,425 665,330" fill="url(#rgAr)" />
<polygon points="655,222 665,330 650,425 680,420 700,500 720,600 690,480 672,400 660,410 672,330" fill="#8e90ba" opacity="0.75"/>
<g fill="none" stroke-linejoin="round" stroke-linecap="butt">
<path d="M772 612C772.73 617.13 776.37 630.28 776 640C775.63 649.72 771.1 660.42 770 665" stroke="#6e7096" stroke-width="20"/>
<path d="M772 612C772.73 617.13 776.37 630.28 776 640C775.63 649.72 771.1 660.42 770 665" stroke="#8688af" stroke-width="17.2" transform="translate(-0.6,-0.6)"/>
<path d="M772 612C772.73 617.13 776.37 630.28 776 640C775.63 649.72 771.1 660.42 770 665" stroke="#9a9cc4" stroke-width="13.2" transform="translate(-1.4,-1.4)"/>
<path d="M772 612C772.73 617.13 776.37 630.28 776 640C775.63 649.72 771.1 660.42 770 665" stroke="#c5c6e5" stroke-width="4.8" transform="translate(-2.6,-2.6)"/>
</g>
<g fill="none" stroke-linejoin="round" stroke-linecap="butt" opacity="0.95">
<path d="M278 1062C283.87 1073.37 294.97 1108.05 310 1124C325.03 1139.95 340.75 1146.25 360 1149C379.25 1151.75 394.83 1147.25 415 1139C435.17 1130.75 452.58 1115.92 470 1104C487.42 1092.08 495.33 1080.42 510 1074C524.67 1067.58 533.5 1068.08 550 1069C566.5 1069.92 578.92 1078.08 600 1079C621.08 1079.92 653.08 1074.92 665 1074" stroke="#a9abcc" stroke-width="19"/>
<path d="M278 1062C283.87 1073.37 294.97 1108.05 310 1124C325.03 1139.95 340.75 1146.25 360 1149C379.25 1151.75 394.83 1147.25 415 1139C435.17 1130.75 452.58 1115.92 470 1104C487.42 1092.08 495.33 1080.42 510 1074C524.67 1067.58 533.5 1068.08 550 1069C566.5 1069.92 578.92 1078.08 600 1079C621.08 1079.92 653.08 1074.92 665 1074" stroke="#bec0e0" stroke-width="16.34" transform="translate(-0.57,-0.57)"/>
<path d="M278 1062C283.87 1073.37 294.97 1108.05 310 1124C325.03 1139.95 340.75 1146.25 360 1149C379.25 1151.75 394.83 1147.25 415 1139C435.17 1130.75 452.58 1115.92 470 1104C487.42 1092.08 495.33 1080.42 510 1074C524.67 1067.58 533.5 1068.08 550 1069C566.5 1069.92 578.92 1078.08 600 1079C621.08 1079.92 653.08 1074.92 665 1074" stroke="#d0d2f0" stroke-width="12.54" transform="translate(-1.33,-1.33)"/>
<path d="M278 1062C283.87 1073.37 294.97 1108.05 310 1124C325.03 1139.95 340.75 1146.25 360 1149C379.25 1151.75 394.83 1147.25 415 1139C435.17 1130.75 452.58 1115.92 470 1104C487.42 1092.08 495.33 1080.42 510 1074C524.67 1067.58 533.5 1068.08 550 1069C566.5 1069.92 578.92 1078.08 600 1079C621.08 1079.92 653.08 1074.92 665 1074" stroke="#f0f1ff" stroke-width="4.56" transform="translate(-2.47,-2.47)"/>
</g>
<g fill="none" stroke-linejoin="round" stroke-linecap="butt" opacity="0.9">
<path d="M560 1084C567.33 1100.5 580.75 1148.33 600 1174C619.25 1199.67 642.27 1205.67 665 1224C687.73 1242.33 713.18 1264.83 724 1274" stroke="#a5a7c6" stroke-width="18"/>
<path d="M560 1084C567.33 1100.5 580.75 1148.33 600 1174C619.25 1199.67 642.27 1205.67 665 1224C687.73 1242.33 713.18 1264.83 724 1274" stroke="#b8bad9" stroke-width="15.48" transform="translate(-0.54,-0.54)"/>
<path d="M560 1084C567.33 1100.5 580.75 1148.33 600 1174C619.25 1199.67 642.27 1205.67 665 1224C687.73 1242.33 713.18 1264.83 724 1274" stroke="#c8cae8" stroke-width="11.88" transform="translate(-1.26,-1.26)"/>
<path d="M560 1084C567.33 1100.5 580.75 1148.33 600 1174C619.25 1199.67 642.27 1205.67 665 1224C687.73 1242.33 713.18 1264.83 724 1274" stroke="#ecedfa" stroke-width="4.32" transform="translate(-2.34,-2.34)"/>
</g>
<g fill="none" stroke-linejoin="round" stroke-linecap="butt" opacity="0.95">
<path d="M740 1120C737.07 1129.9 736.83 1151.27 724 1174C711.17 1196.73 682.65 1222.92 670 1244C657.35 1265.08 654.08 1274.33 655 1289C655.92 1303.67 662.35 1316.12 675 1324C687.65 1331.88 711.17 1334.57 724 1332C736.83 1329.43 741.15 1314.03 745 1310" stroke="#a5a7c6" stroke-width="18"/>
<path d="M740 1120C737.07 1129.9 736.83 1151.27 724 1174C711.17 1196.73 682.65 1222.92 670 1244C657.35 1265.08 654.08 1274.33 655 1289C655.92 1303.67 662.35 1316.12 675 1324C687.65 1331.88 711.17 1334.57 724 1332C736.83 1329.43 741.15 1314.03 745 1310" stroke="#b8bad9" stroke-width="15.48" transform="translate(-0.54,-0.54)"/>
<path d="M740 1120C737.07 1129.9 736.83 1151.27 724 1174C711.17 1196.73 682.65 1222.92 670 1244C657.35 1265.08 654.08 1274.33 655 1289C655.92 1303.67 662.35 1316.12 675 1324C687.65 1331.88 711.17 1334.57 724 1332C736.83 1329.43 741.15 1314.03 745 1310" stroke="#c8cae8" stroke-width="11.88" transform="translate(-1.26,-1.26)"/>
<path d="M740 1120C737.07 1129.9 736.83 1151.27 724 1174C711.17 1196.73 682.65 1222.92 670 1244C657.35 1265.08 654.08 1274.33 655 1289C655.92 1303.67 662.35 1316.12 675 1324C687.65 1331.88 711.17 1334.57 724 1332C736.83 1329.43 741.15 1314.03 745 1310" stroke="#ecedfa" stroke-width="4.32" transform="translate(-2.34,-2.34)"/>
</g>
<g fill="none" stroke-linejoin="round" stroke-linecap="butt">
<path d="M220 1099C222.75 1106.33 224 1123.42 235 1139C246 1154.58 263.5 1167.5 280 1184C296.5 1200.5 314.92 1210.67 325 1229C335.08 1247.33 336.83 1259.25 335 1284C333.17 1308.75 323.25 1339.07 315 1364C306.75 1388.93 294.58 1409.73 290 1420" stroke="#6e709f" stroke-width="22"/>
<path d="M220 1099C222.75 1106.33 224 1123.42 235 1139C246 1154.58 263.5 1167.5 280 1184C296.5 1200.5 314.92 1210.67 325 1229C335.08 1247.33 336.83 1259.25 335 1284C333.17 1308.75 323.25 1339.07 315 1364C306.75 1388.93 294.58 1409.73 290 1420" stroke="#9092c5" stroke-width="18.92" transform="translate(-0.66,-0.66)"/>
<path d="M220 1099C222.75 1106.33 224 1123.42 235 1139C246 1154.58 263.5 1167.5 280 1184C296.5 1200.5 314.92 1210.67 325 1229C335.08 1247.33 336.83 1259.25 335 1284C333.17 1308.75 323.25 1339.07 315 1364C306.75 1388.93 294.58 1409.73 290 1420" stroke="#abade4" stroke-width="14.52" transform="translate(-1.54,-1.54)"/>
<path d="M220 1099C222.75 1106.33 224 1123.42 235 1139C246 1154.58 263.5 1167.5 280 1184C296.5 1200.5 314.92 1210.67 325 1229C335.08 1247.33 336.83 1259.25 335 1284C333.17 1308.75 323.25 1339.07 315 1364C306.75 1388.93 294.58 1409.73 290 1420" stroke="#dcddff" stroke-width="5.28" transform="translate(-2.86,-2.86)"/>
</g>
<g fill="none" stroke-linejoin="round" stroke-linecap="butt">
<path d="M530 1074C530 1083.17 534.58 1098.33 530 1124C525.42 1149.67 516.92 1183.75 505 1214C493.08 1244.25 474.17 1269.57 465 1289C455.83 1308.43 456.83 1314.32 455 1320" stroke="#7f81b0" stroke-width="21"/>
<path d="M530 1074C530 1083.17 534.58 1098.33 530 1124C525.42 1149.67 516.92 1183.75 505 1214C493.08 1244.25 474.17 1269.57 465 1289C455.83 1308.43 456.83 1314.32 455 1320" stroke="#a3a5d5" stroke-width="18.06" transform="translate(-0.63,-0.63)"/>
<path d="M530 1074C530 1083.17 534.58 1098.33 530 1124C525.42 1149.67 516.92 1183.75 505 1214C493.08 1244.25 474.17 1269.57 465 1289C455.83 1308.43 456.83 1314.32 455 1320" stroke="#c0c2f4" stroke-width="13.86" transform="translate(-1.47,-1.47)"/>
<path d="M530 1074C530 1083.17 534.58 1098.33 530 1124C525.42 1149.67 516.92 1183.75 505 1214C493.08 1244.25 474.17 1269.57 465 1289C455.83 1308.43 456.83 1314.32 455 1320" stroke="#ecedff" stroke-width="5.04" transform="translate(-2.73,-2.73)"/>
</g>
<g fill="none" stroke-linejoin="round" stroke-linecap="round">
<path d="M22 1200L80 1225L135 1262" stroke="#7f81a8" stroke-width="34"/>
<path d="M22 1200L80 1225L135 1262" stroke="#9395bc" stroke-width="29.24" transform="translate(-1.02,-1.02)"/>
<path d="M22 1200L80 1225L135 1262" stroke="#a3a5cc" stroke-width="22.44" transform="translate(-2.38,-2.38)"/>
<path d="M22 1200L80 1225L135 1262" stroke="#c9cbe8" stroke-width="8.16" transform="translate(-4.42,-4.42)"/>
</g>
<g fill="none" stroke-linejoin="round" stroke-linecap="butt">
<path d="M625 924C632.33 937.75 649.42 977 665 999C680.58 1021 701.75 1035.75 710 1044" stroke="#8385b4" stroke-width="20"/>
<path d="M625 924C632.33 937.75 649.42 977 665 999C680.58 1021 701.75 1035.75 710 1044" stroke="#9ea0d1" stroke-width="17.2" transform="translate(-0.6,-0.6)"/>
<path d="M625 924C632.33 937.75 649.42 977 665 999C680.58 1021 701.75 1035.75 710 1044" stroke="#b5b7e8" stroke-width="13.2" transform="translate(-1.4,-1.4)"/>
<path d="M625 924C632.33 937.75 649.42 977 665 999C680.58 1021 701.75 1035.75 710 1044" stroke="#dfe0ff" stroke-width="4.8" transform="translate(-2.6,-2.6)"/>
</g>
<g fill="none" stroke-linejoin="round" stroke-linecap="round">
<path d="M835 740L862 747" stroke="#7e2a28" stroke-width="25"/>
<path d="M835 740L862 747" stroke="#9e3734" stroke-width="21.5" transform="translate(-0.75,-0.75)"/>
<path d="M835 740L862 747" stroke="#b8423e" stroke-width="16.5" transform="translate(-1.75,-1.75)"/>
<path d="M835 740L862 747" stroke="#e08884" stroke-width="6" transform="translate(-3.25,-3.25)"/>
</g>
<g fill="none" stroke-linejoin="round" stroke-linecap="round">
<path d="M745 765L800 742L835 742" stroke="#8a8420" stroke-width="25"/>
<path d="M745 765L800 742L835 742" stroke="#ada62d" stroke-width="21.5" transform="translate(-0.75,-0.75)"/>
<path d="M745 765L800 742L835 742" stroke="#c9c238" stroke-width="16.5" transform="translate(-1.75,-1.75)"/>
<path d="M745 765L800 742L835 742" stroke="#f0ea80" stroke-width="6" transform="translate(-3.25,-3.25)"/>
</g>
<g fill="none" stroke-linejoin="round" stroke-linecap="round">
<path d="M775 655L722 722L750 772" stroke="#a8a320" stroke-width="26"/>
<path d="M775 655L722 722L750 772" stroke="#cdc72f" stroke-width="22.36" transform="translate(-0.78,-0.78)"/>
<path d="M775 655L722 722L750 772" stroke="#ebe53c" stroke-width="17.16" transform="translate(-1.82,-1.82)"/>
<path d="M775 655L722 722L750 772" stroke="#ffff9a" stroke-width="6.24" transform="translate(-3.38,-3.38)"/>
</g>
<g fill="none" stroke-linejoin="round" stroke-linecap="round">
<path d="M722 722L690 700" stroke="#a8a320" stroke-width="26"/>
<path d="M722 722L690 700" stroke="#cdc72f" stroke-width="22.36" transform="translate(-0.78,-0.78)"/>
<path d="M722 722L690 700" stroke="#ebe53c" stroke-width="17.16" transform="translate(-1.82,-1.82)"/>
<path d="M722 722L690 700" stroke="#ffff9a" stroke-width="6.24" transform="translate(-3.38,-3.38)"/>
</g>
<g fill="none" stroke-linejoin="round" stroke-linecap="round">
<path d="M690 700L652 676" stroke="#a82c30" stroke-width="26"/>
<path d="M690 700L652 676" stroke="#ce3c40" stroke-width="22.36" transform="translate(-0.78,-0.78)"/>
<path d="M690 700L652 676" stroke="#ee4a4e" stroke-width="17.16" transform="translate(-1.82,-1.82)"/>
<path d="M690 700L652 676" stroke="#ffa0a0" stroke-width="6.24" transform="translate(-3.38,-3.38)"/>
</g>
<g fill="none" stroke-linejoin="round" stroke-linecap="round">
<path d="M750 772L790 830L820 852" stroke="#a8a320" stroke-width="26"/>
<path d="M750 772L790 830L820 852" stroke="#cdc72f" stroke-width="22.36" transform="translate(-0.78,-0.78)"/>
<path d="M750 772L790 830L820 852" stroke="#ebe53c" stroke-width="17.16" transform="translate(-1.82,-1.82)"/>
<path d="M750 772L790 830L820 852" stroke="#ffff9a" stroke-width="6.24" transform="translate(-3.38,-3.38)"/>
</g>
<g fill="none" stroke-linejoin="round" stroke-linecap="round">
<path d="M790 812L818 830" stroke="#1c2398" stroke-width="24"/>
<path d="M790 812L818 830" stroke="#242dc0" stroke-width="20.64" transform="translate(-0.72,-0.72)"/>
<path d="M790 812L818 830" stroke="#2a35e0" stroke-width="15.84" transform="translate(-1.68,-1.68)"/>
<path d="M790 812L818 830" stroke="#6d76ff" stroke-width="5.76" transform="translate(-3.12,-3.12)"/>
</g>
<g fill="none" stroke-linejoin="round" stroke-linecap="round">
<path d="M820 852L850 866" stroke="#9a9bb0" stroke-width="24"/>
<path d="M820 852L850 866" stroke="#babbca" stroke-width="20.64" transform="translate(-0.72,-0.72)"/>
<path d="M820 852L850 866" stroke="#d5d6e0" stroke-width="15.84" transform="translate(-1.68,-1.68)"/>
<path d="M820 852L850 866" stroke="#f5f5fa" stroke-width="5.76" transform="translate(-3.12,-3.12)"/>
</g>
<g fill="none" stroke-linejoin="round" stroke-linecap="round">
<path d="M665 1056L772 1052" stroke="#686a96" stroke-width="26"/>
<path d="M665 1056L772 1052" stroke="#8082b0" stroke-width="22.36" transform="translate(-0.78,-0.78)"/>
<path d="M665 1056L772 1052" stroke="#9496c6" stroke-width="17.16" transform="translate(-1.82,-1.82)"/>
<path d="M665 1056L772 1052" stroke="#bcbee6" stroke-width="6.24" transform="translate(-3.38,-3.38)"/>
</g>
<g fill="none" stroke-linejoin="round" stroke-linecap="round">
<path d="M772 1052L772 985L815 935" stroke="#5b5d82" stroke-width="26"/>
<path d="M772 1052L772 985L815 935" stroke="#70729a" stroke-width="22.36" transform="translate(-0.78,-0.78)"/>
<path d="M772 1052L772 985L815 935" stroke="#8183ad" stroke-width="17.16" transform="translate(-1.82,-1.82)"/>
<path d="M772 1052L772 985L815 935" stroke="#a9abd0" stroke-width="6.24" transform="translate(-3.38,-3.38)"/>
</g>
<g fill="none" stroke-linejoin="round" stroke-linecap="round">
<path d="M808 975L815 1005" stroke="#161f98" stroke-width="26"/>
<path d="M808 975L815 1005" stroke="#1d28c0" stroke-width="22.36" transform="translate(-0.78,-0.78)"/>
<path d="M808 975L815 1005" stroke="#2330e0" stroke-width="17.16" transform="translate(-1.82,-1.82)"/>
<path d="M808 975L815 1005" stroke="#6d76ff" stroke-width="6.24" transform="translate(-3.38,-3.38)"/>
</g>
<g fill="none" stroke-linejoin="round" stroke-linecap="round">
<path d="M850 866L905 880" stroke="#76789f" stroke-width="24"/>
<path d="M850 866L905 880" stroke="#9294c4" stroke-width="20.64" transform="translate(-0.72,-0.72)"/>
<path d="M850 866L905 880" stroke="#a9abe3" stroke-width="15.84" transform="translate(-1.68,-1.68)"/>
<path d="M850 866L905 880" stroke="#d4d5f1" stroke-width="5.76" transform="translate(-3.12,-3.12)"/>
</g>
<g fill="none" stroke-linejoin="round" stroke-linecap="round">
<path d="M824 925L1150 820" stroke="#55577f" stroke-width="23"/>
<path d="M824 925L1150 820" stroke="#8385b6" stroke-width="19.78" transform="translate(-0.69,-0.69)"/>
<path d="M824 925L1150 820" stroke="#a9abe3" stroke-width="15.18" transform="translate(-1.61,-1.61)"/>
<path d="M824 925L1150 820" stroke="#d9daff" stroke-width="5.52" transform="translate(-2.99,-2.99)"/>
</g>
<g fill="none" stroke-linejoin="round" stroke-linecap="round">
<path d="M835 935L1000 905L1150 824" stroke="#55577f" stroke-width="20"/>
<path d="M835 935L1000 905L1150 824" stroke="#8385b6" stroke-width="17.2" transform="translate(-0.6,-0.6)"/>
<path d="M835 935L1000 905L1150 824" stroke="#a9abe3" stroke-width="13.2" transform="translate(-1.4,-1.4)"/>
<path d="M835 935L1000 905L1150 824" stroke="#d9daff" stroke-width="4.8" transform="translate(-2.6,-2.6)"/>
</g>
<g fill="none" stroke-linejoin="round" stroke-linecap="round">
<path d="M824 925L895 870L908 835" stroke="#76789f" stroke-width="23"/>
<path d="M824 925L895 870L908 835" stroke="#9294c4" stroke-width="19.78" transform="translate(-0.69,-0.69)"/>
<path d="M824 925L895 870L908 835" stroke="#a9abe3" stroke-width="15.18" transform="translate(-1.61,-1.61)"/>
<path d="M824 925L895 870L908 835" stroke="#d4d5f1" stroke-width="5.52" transform="translate(-2.99,-2.99)"/>
</g>
<g fill="none" stroke-linejoin="round" stroke-linecap="round">
<path d="M907 835L906 788" stroke="#a8262a" stroke-width="26"/>
<path d="M907 835L906 788" stroke="#ce3135" stroke-width="22.36" transform="translate(-0.78,-0.78)"/>
<path d="M907 835L906 788" stroke="#ee3a3e" stroke-width="17.16" transform="translate(-1.82,-1.82)"/>
<path d="M907 835L906 788" stroke="#ff9090" stroke-width="6.24" transform="translate(-3.38,-3.38)"/>
</g>
<g fill="none" stroke-linejoin="round" stroke-linecap="round">
<path d="M924 920L890 962L893 990" stroke="#76789f" stroke-width="23"/>
<path d="M924 920L890 962L893 990" stroke="#9294c4" stroke-width="19.78" transform="translate(-0.69,-0.69)"/>
<path d="M924 920L890 962L893 990" stroke="#a9abe3" stroke-width="15.18" transform="translate(-1.61,-1.61)"/>
<path d="M924 920L890 962L893 990" stroke="#d4d5f1" stroke-width="5.52" transform="translate(-2.99,-2.99)"/>
</g>
<g fill="none" stroke-linejoin="round" stroke-linecap="round">
<path d="M826 930L840 972L930 1034L925 1134" stroke="#76789f" stroke-width="25"/>
<path d="M826 930L840 972L930 1034L925 1134" stroke="#9294c4" stroke-width="21.5" transform="translate(-0.75,-0.75)"/>
<path d="M826 930L840 972L930 1034L925 1134" stroke="#a9abe3" stroke-width="16.5" transform="translate(-1.75,-1.75)"/>
<path d="M826 930L840 972L930 1034L925 1134" stroke="#d4d5f1" stroke-width="6" transform="translate(-3.25,-3.25)"/>
</g>
<g fill="none" stroke-linejoin="round" stroke-linecap="round">
<path d="M893 985L930 1034" stroke="#76789f" stroke-width="23"/>
<path d="M893 985L930 1034" stroke="#9294c4" stroke-width="19.78" transform="translate(-0.69,-0.69)"/>
<path d="M893 985L930 1034" stroke="#a9abe3" stroke-width="15.18" transform="translate(-1.61,-1.61)"/>
<path d="M893 985L930 1034" stroke="#d4d5f1" stroke-width="5.52" transform="translate(-2.99,-2.99)"/>
</g>
<g fill="none" stroke-linejoin="round" stroke-linecap="round">
<path d="M910 1050L840 1060" stroke="#4f5068" stroke-width="25"/>
<path d="M910 1050L840 1060" stroke="#62637d" stroke-width="21.5" transform="translate(-0.75,-0.75)"/>
<path d="M910 1050L840 1060" stroke="#71738f" stroke-width="16.5" transform="translate(-1.75,-1.75)"/>
<path d="M910 1050L840 1060" stroke="#9c9eb8" stroke-width="6" transform="translate(-3.25,-3.25)"/>
</g>
<g fill="none" stroke-linejoin="round" stroke-linecap="round">
<path d="M838 1060L800 1070" stroke="#b04448" stroke-width="25"/>
<path d="M838 1060L800 1070" stroke="#d3595d" stroke-width="21.5" transform="translate(-0.75,-0.75)"/>
<path d="M838 1060L800 1070" stroke="#f06a6e" stroke-width="16.5" transform="translate(-1.75,-1.75)"/>
<path d="M838 1060L800 1070" stroke="#ffb0b0" stroke-width="6" transform="translate(-3.25,-3.25)"/>
</g>
<g fill="none" stroke-linejoin="round" stroke-linecap="round">
<path d="M925 1134L870 1162" stroke="#5e1e20" stroke-width="25"/>
<path d="M925 1134L870 1162" stroke="#78282b" stroke-width="21.5" transform="translate(-0.75,-0.75)"/>
<path d="M925 1134L870 1162" stroke="#8d3034" stroke-width="16.5" transform="translate(-1.75,-1.75)"/>
<path d="M925 1134L870 1162" stroke="#c06868" stroke-width="6" transform="translate(-3.25,-3.25)"/>
</g>
<g fill="none" stroke-linejoin="round" stroke-linecap="round">
<path d="M925 1134L948 1160" stroke="#76789f" stroke-width="25"/>
<path d="M925 1134L948 1160" stroke="#9294c4" stroke-width="21.5" transform="translate(-0.75,-0.75)"/>
<path d="M925 1134L948 1160" stroke="#a9abe3" stroke-width="16.5" transform="translate(-1.75,-1.75)"/>
<path d="M925 1134L948 1160" stroke="#d4d5f1" stroke-width="6" transform="translate(-3.25,-3.25)"/>
</g>
<g fill="none" stroke-linejoin="round" stroke-linecap="round">
<path d="M948 1160L972 1208" stroke="#161f98" stroke-width="25"/>
<path d="M948 1160L972 1208" stroke="#1d28c0" stroke-width="21.5" transform="translate(-0.75,-0.75)"/>
<path d="M948 1160L972 1208" stroke="#2330e0" stroke-width="16.5" transform="translate(-1.75,-1.75)"/>
<path d="M948 1160L972 1208" stroke="#6d76ff" stroke-width="6" transform="translate(-3.25,-3.25)"/>
</g>
<circle cx="1119" cy="397" r="83" fill="url(#tB)"/>
<circle cx="1093" cy="306" r="93" fill="url(#tR)" clip-path="url(#clR2)"/>
<circle cx="1044" cy="527" r="76" fill="url(#tD)"/>
<circle cx="948" cy="568" r="100" fill="url(#tC)"/>
<circle cx="1002" cy="460" r="107.5" fill="url(#tA)"/>
</g></g>
<text transform="translate(240.74,440.9) scale(0.9405,1.0000)" font-family="'Liberation Sans', sans-serif" font-size="39.4">H-2D</text>
<text transform="translate(326.38,421) scale(1.0289,1.0000)" font-family="'Liberation Sans', sans-serif" font-size="24.7">d</text>
<text transform="translate(350.51,440.9) scale(0.9390,1.0000)" font-family="'Liberation Sans', sans-serif" font-size="39.4">WT</text>
<text transform="translate(237.51,621.7) scale(1.0397,1.0000)" font-family="'Liberation Sans', sans-serif" font-size="21.5">M228</text>
<text transform="translate(394.04,651.4) scale(1.0246,1.0000)" font-family="'Liberation Sans', sans-serif" font-size="21.5">V338</text>
<text transform="translate(384.38,518.5) scale(1.0373,1.0000)" font-family="'Liberation Sans', sans-serif" font-size="30" fill="#90d298">TAPBPR</text>
<text transform="translate(117.3,856.7) scale(0.9981,1.0000)" font-family="'Liberation Sans', sans-serif" font-size="30" fill="#9ea0d4">H-2D</text>
<text transform="translate(188.01,842.6) scale(1.0352,1.0000)" font-family="'Liberation Sans', sans-serif" font-size="19" fill="#9ea0d4">d</text>
<text transform="translate(641.5,441) scale(0.9531,1.0000)" font-family="'Liberation Sans', sans-serif" font-size="39.4">H-2D</text>
<text transform="translate(728.75,420.9) scale(1.0647,1.0000)" font-family="'Liberation Sans', sans-serif" font-size="24.7">d</text>
<text transform="translate(749.87,441) scale(0.9613,1.0000)" font-family="'Liberation Sans', sans-serif" font-size="39.4">M228T</text>
<text transform="translate(688.67,636.5) scale(1.0110,1.0000)" font-family="'Liberation Sans', sans-serif" font-size="21.5">T228</text>
<text transform="translate(845.34,647.7) scale(1.0246,1.0000)" font-family="'Liberation Sans', sans-serif" font-size="21.5">V338</text>
<text transform="translate(784.68,492.2) scale(1.0382,1.0000)" font-family="'Liberation Sans', sans-serif" font-size="30" fill="#90d298">TAPBPR</text>
<text transform="translate(532.92,856.7) scale(1.0313,1.0000)" font-family="'Liberation Sans', sans-serif" font-size="30" fill="#9ea0d4">H-2D</text>
<text transform="translate(604.41,842.6) scale(1.0352,1.0000)" font-family="'Liberation Sans', sans-serif" font-size="19" fill="#9ea0d4">d</text>
</g>
<g id="panel-c">
<g stroke="#000" stroke-width="4.4" fill="none">
<line x1="1112.6" y1="468.9" x2="1112.6" y2="799.1"/>
<line x1="1100.4" y1="787.1" x2="1588.7" y2="787.1"/>
<line x1="1100.4" y1="723.8" x2="1112.6" y2="723.8"/>
<line x1="1100.4" y1="660.5" x2="1112.6" y2="660.5"/>
<line x1="1100.4" y1="597.2" x2="1112.6" y2="597.2"/>
<line x1="1100.4" y1="533.9" x2="1112.6" y2="533.9"/>
<line x1="1100.4" y1="470.6" x2="1112.6" y2="470.6"/>
<line x1="1144.1" y1="787.1" x2="1144.1" y2="795.2"/>
<line x1="1175.7" y1="787.1" x2="1175.7" y2="795.2"/>
<line x1="1207.3" y1="787.1" x2="1207.3" y2="795.2"/>
<line x1="1238.9" y1="787.1" x2="1238.9" y2="795.2"/>
<line x1="1270.5" y1="787.1" x2="1270.5" y2="799.1"/>
<line x1="1302.1" y1="787.1" x2="1302.1" y2="795.2"/>
<line x1="1333.7" y1="787.1" x2="1333.7" y2="795.2"/>
<line x1="1365.3" y1="787.1" x2="1365.3" y2="795.2"/>
<line x1="1396.9" y1="787.1" x2="1396.9" y2="795.2"/>
<line x1="1428.5" y1="787.1" x2="1428.5" y2="799.1"/>
<line x1="1460.1" y1="787.1" x2="1460.1" y2="795.2"/>
<line x1="1491.7" y1="787.1" x2="1491.7" y2="795.2"/>
<line x1="1523.3" y1="787.1" x2="1523.3" y2="795.2"/>
<line x1="1554.9" y1="787.1" x2="1554.9" y2="795.2"/>
<line x1="1586.5" y1="787.1" x2="1586.5" y2="799.1"/>
</g>
<polyline points="1112.5,783.74 1113.29,782.84 1114.08,782.94 1114.87,783.58 1115.66,783.28 1116.45,783.33 1117.24,783.08 1118.03,782.9 1118.82,783.78 1119.61,783.86 1120.4,782.84 1121.19,783.34 1121.98,782.92 1122.77,783.88 1123.56,783.32 1124.35,782.97 1125.14,783.59 1125.93,782.68 1126.72,782.73 1127.51,783.83 1128.3,783.83 1129.09,783.18 1129.88,782.67 1130.67,783.37 1131.46,783.58 1132.25,783.31 1133.04,783.81 1133.83,783.56 1134.62,783.28 1135.41,783.2 1136.2,783.53 1136.99,783.53 1137.78,783.54 1138.57,783.22 1139.36,783.43 1140.15,783.77 1140.94,782.73 1141.73,783.07 1142.52,782.96 1143.31,783.53 1144.1,782.5 1144.89,782.66 1145.68,783.58 1146.47,783.31 1147.26,782.8 1148.05,782.81 1148.84,782.51 1149.63,783.15 1150.42,782.62 1151.21,782.81 1152,783.26 1152.79,782.89 1153.58,782.5 1154.37,782.53 1155.16,782.95 1155.95,782.83 1156.74,783.51 1157.53,783.23 1158.32,782.51 1159.11,782.98 1159.9,783.26 1160.69,782.77 1161.48,782.55 1162.27,782.57 1163.06,782.92 1163.85,782.82 1164.64,782.7 1165.43,782.34 1166.22,782.64 1167.01,782.77 1167.8,782.62 1168.59,783.18 1169.38,783.13 1170.17,782.26 1170.96,781.88 1171.75,782.34 1172.54,782.56 1173.33,782.81 1174.12,782.35 1174.91,781.71 1175.7,781.94 1176.49,782.19 1177.28,781.75 1178.07,782.5 1178.86,782.11 1179.65,781.51 1180.44,781.94 1181.23,782.05 1182.02,782.25 1182.81,781.85 1183.6,781.29 1184.39,782.45 1185.18,781.42 1185.97,781.33 1186.76,781.2 1187.55,781.33 1188.34,781.2 1189.13,781.52 1189.92,781.42 1190.71,781.54 1191.5,781.96 1192.29,780.89 1193.08,781.22 1193.87,781.64 1194.66,781.21 1195.45,781.19 1196.24,781.3 1197.03,781.27 1197.82,780.98 1198.61,780.83 1199.4,780.8 1200.19,780.95 1200.98,781.45 1201.77,781.15 1202.56,781.17 1203.35,780.62 1204.14,780.22 1204.93,780.26 1205.72,780.23 1206.51,780.16 1207.3,780.84 1208.09,780.06 1208.88,780.23 1209.67,780.94 1210.46,780.99 1211.25,780.96 1212.04,779.99 1212.83,780.6 1213.62,780.75 1214.41,780.06 1215.2,780.39 1215.99,780.71 1216.78,780.56 1217.57,780.07 1218.36,780.5 1219.15,780.34 1219.94,779.75 1220.73,780.05 1221.52,780.19 1222.31,779.96 1223.1,780.5 1223.89,780 1224.68,779.92 1225.47,780.18 1226.26,780.23 1227.05,779.18 1227.84,779.61 1228.63,779.93 1229.42,779.35 1230.21,779 1231,779.91 1231.79,779.81 1232.58,779.52 1233.37,778.65 1234.16,779.2 1234.95,778.33 1235.74,778.16 1236.53,778.1 1237.32,778.25 1238.11,777.01 1238.9,776.92 1239.69,776.93 1240.48,776.92 1241.27,775.97 1242.06,775.84 1242.85,775.13 1243.64,774.94 1244.43,774 1245.22,774.15 1246.01,773.25 1246.8,771.78 1247.59,771.25 1248.38,771.31 1249.17,769.95 1249.96,769.97 1250.75,768.51 1251.54,768.09 1252.33,767.87 1253.12,767.46 1253.91,767.18 1254.7,765.53 1255.49,766.09 1256.28,764.65 1257.07,764.07 1257.86,764.24 1258.65,764.48 1259.44,763.4 1260.23,763.15 1261.02,763.45 1261.81,763.73 1262.6,764 1263.39,764.22 1264.18,764.65 1264.97,764.37 1265.76,765.06 1266.55,765.8 1267.34,766.4 1268.13,766.21 1268.92,767.25 1269.71,767.58 1270.5,768.41 1271.29,768.35 1272.08,768.95 1272.87,770.69 1273.66,771.08 1274.45,771.53 1275.24,771.28 1276.03,772.09 1276.82,773.18 1277.61,774.14 1278.4,774.28 1279.19,774.74 1279.98,775.23 1280.77,776.51 1281.56,776.31 1282.35,776.96 1283.14,777.57 1283.93,777.23 1284.72,778.4 1285.51,777.95 1286.3,778.88 1287.09,778.83 1287.88,777.9 1288.67,778.74 1289.46,777.96 1290.25,778.02 1291.04,777.53 1291.83,777.89 1292.62,777.65 1293.41,777.39 1294.2,776.3 1294.99,776.23 1295.78,775.34 1296.57,774.94 1297.36,775.36 1298.15,774.27 1298.94,774.22 1299.73,773.64 1300.52,772.9 1301.31,771.14 1302.1,770.44 1302.89,769.53 1303.68,769.24 1304.47,767.93 1305.26,766.69 1306.05,766.1 1306.84,764.69 1307.63,763.88 1308.42,762.73 1309.21,761.08 1310,758.78 1310.79,757.58 1311.58,755.4 1312.37,754.15 1313.16,752.41 1313.95,749.67 1314.74,747.38 1315.53,746.02 1316.32,742.65 1317.11,740.67 1317.9,737.77 1318.69,733.74 1319.48,731.58 1320.27,727.91 1321.06,723.35 1321.85,720.26 1322.64,716.64 1323.43,712.37 1324.22,707.87 1325.01,702.64 1325.8,698.66 1326.59,692.65 1327.38,688.17 1328.17,682.08 1328.96,676.66 1329.75,671.79 1330.54,666.06 1331.33,659.86 1332.12,654.33 1332.91,647.52 1333.7,642.13 1334.49,635.95 1335.28,628.49 1336.07,623.12 1336.86,616.54 1337.65,610.57 1338.44,604.67 1339.23,599.02 1340.02,592.11 1340.81,586.37 1341.6,580.89 1342.39,576.72 1343.18,571.57 1343.97,566.31 1344.76,561.4 1345.55,557.81 1346.34,553.82 1347.13,550.42 1347.92,547.86 1348.71,544.83 1349.5,542.86 1350.29,541.09 1351.08,539.88 1351.87,538.65 1352.66,537.24 1353.45,537.86 1354.24,537.99 1355.03,538.84 1355.82,539.76 1356.61,542.18 1357.4,544.45 1358.19,546.99 1358.98,549.97 1359.77,552.65 1360.56,556.3 1361.35,561.1 1362.14,565.42 1362.93,569.82 1363.72,574.71 1364.51,579.82 1365.3,585.55 1366.09,591.24 1366.88,596.45 1367.67,602.23 1368.46,607.23 1369.25,613.47 1370.04,619.09 1370.83,623.98 1371.62,629.98 1372.41,634.84 1373.2,640.64 1373.99,645.5 1374.78,651.61 1375.57,656.27 1376.36,660.86 1377.15,666.59 1377.94,670.15 1378.73,675.65 1379.52,679.23 1380.31,683.15 1381.1,687.36 1381.89,691.84 1382.68,695.78 1383.47,698.76 1384.26,701.58 1385.05,705.53 1385.84,707.77 1386.63,711.56 1387.42,713.27 1388.21,716.91 1389,718.93 1389.79,720.43 1390.58,722.66 1391.37,724.51 1392.16,726.44 1392.95,728.29 1393.74,729.97 1394.53,732.12 1395.32,733.19 1396.11,734.83 1396.9,735.32 1397.69,736.48 1398.48,738.01 1399.27,739.16 1400.06,738.85 1400.85,739.78 1401.64,740.76 1402.43,741.33 1403.22,741.41 1404.01,742.29 1404.8,742.66 1405.59,742.92 1406.38,743.12 1407.17,743.4 1407.96,742.49 1408.75,742.55 1409.54,742 1410.33,742.16 1411.12,741.16 1411.91,740.67 1412.7,739.77 1413.49,738.52 1414.28,736.54 1415.07,735.65 1415.86,734.01 1416.65,731.91 1417.44,730.34 1418.23,728.35 1419.02,725.18 1419.81,722.46 1420.6,719.26 1421.39,716.25 1422.18,712.38 1422.97,708.49 1423.76,705 1424.55,700.26 1425.34,695.57 1426.13,690.89 1426.92,685.34 1427.71,679.55 1428.5,673.21 1429.29,667.01 1430.08,661.35 1430.87,654.14 1431.66,647.9 1432.45,640.63 1433.24,632.61 1434.03,624.48 1434.82,617.54 1435.61,608.78 1436.4,600.51 1437.19,593.02 1437.98,584.27 1438.77,575.78 1439.56,568.11 1440.35,559.47 1441.14,551.3 1441.93,543.49 1442.72,535.34 1443.51,527.71 1444.3,520.3 1445.09,513.78 1445.88,507.62 1446.67,501.26 1447.46,495.46 1448.25,489.66 1449.04,484.59 1449.83,481.22 1450.62,476.74 1451.41,473.64 1452.2,471.68 1452.99,469.7 1453.78,469.04 1454.57,467.9 1455.36,469.02 1456.15,468.91 1456.94,471.18 1457.73,474.4 1458.52,478.78 1459.31,482.78 1460.1,488.38 1460.89,495.88 1461.68,502.27 1462.47,510.07 1463.26,518.8 1464.05,527.78 1464.84,537.61 1465.63,546.91 1466.42,557.06 1467.21,568.26 1468,578.35 1468.79,589.53 1469.58,600.6 1470.37,611.08 1471.16,621.91 1471.95,631.33 1472.74,641.45 1473.53,652.43 1474.32,661.44 1475.11,670.94 1475.9,680.2 1476.69,688.46 1477.48,696.59 1478.27,703.59 1479.06,711.72 1479.85,718.24 1480.64,724.23 1481.43,730.62 1482.22,735.29 1483.01,740.33 1483.8,744.65 1484.59,749.66 1485.38,753.41 1486.17,756.58 1486.96,760.08 1487.75,762.54 1488.54,765.52 1489.33,767.27 1490.12,769.17 1490.91,770.97 1491.7,772.36 1492.49,774.41 1493.28,775.81 1494.07,776.52 1494.86,777.67 1495.65,778.84 1496.44,779.88 1497.23,780.71 1498.02,781.55 1498.81,781.21 1499.6,782.56 1500.39,782.18 1501.18,782.81 1501.97,782.61 1502.76,783.15 1503.55,783.14 1504.34,784.43 1505.13,784.18 1505.92,784.28 1506.71,784.78 1507.5,784.69 1508.29,785.02 1509.08,784.94 1509.87,785.73 1510.66,785.29 1511.45,785.4 1512.24,785.69 1513.03,785.68 1513.82,785.29 1514.61,785.52 1515.4,785.86 1516.19,785.76 1516.98,786.2 1517.77,786.51 1518.56,786.85 1519.35,786.6 1520.14,786.28 1520.93,786.01 1521.72,786.17 1522.51,786.66 1523.3,786.15 1524.09,786.9 1524.88,786.52 1525.67,787.15 1526.46,786.81 1527.25,786.59 1528.04,787.54 1528.83,787.8 1529.62,787.32 1530.41,787.52 1531.2,787.82 1531.99,788.36 1532.78,787.96 1533.57,788 1534.36,788.12 1535.15,787.63 1535.94,788.07 1536.73,787.96 1537.52,787.84 1538.31,788.12 1539.1,788.53 1539.89,788.3 1540.68,788.52 1541.47,788.59 1542.26,788.71 1543.05,789.08 1543.84,788.88 1544.63,788.96 1545.42,788.67 1546.21,788.95 1547,788.96 1547.79,789.14 1548.58,789.17 1549.37,789.52 1550.16,789.93 1550.95,790.13 1551.74,789.65 1552.53,789.53 1553.32,790.03 1554.11,790.62 1554.9,789.84 1555.69,790.28 1556.48,790.31 1557.27,790.84 1558.06,790.25 1558.85,789.95 1559.64,790.36 1560.43,790.45 1561.22,790.07 1562.01,790.87 1562.8,790.26 1563.59,789.7 1564.38,790.02 1565.17,790.39 1565.96,790.03 1566.75,790.13 1567.54,790.63 1568.33,790.63 1569.12,789.78 1569.91,790.56 1570.7,790.8 1571.49,789.85 1572.28,790.24 1573.07,790.43 1573.86,790.25 1574.65,789.97 1575.44,790.68 1576.23,790.07 1577.02,789.99 1577.81,789.87 1578.6,790.56 1579.39,790.13 1580.18,790.6 1580.97,790.19 1581.76,790.68 1582.55,789.9 1583.34,789.8 1584.13,790.48 1584.92,790.62 1585.71,789.68 1586.5,790" fill="none" stroke="#000000" stroke-width="3" stroke-linejoin="round" stroke-linecap="butt"/>
<polyline points="1112.5,783.99 1113.29,784 1114.08,785.13 1114.87,785.09 1115.66,784.14 1116.45,784.27 1117.24,784.35 1118.03,784.81 1118.82,784.43 1119.61,784.43 1120.4,784.46 1121.19,785 1121.98,784.65 1122.77,784.7 1123.56,784.28 1124.35,783.94 1125.14,784 1125.93,784.51 1126.72,784.63 1127.51,784.86 1128.3,785.15 1129.09,785.16 1129.88,784.61 1130.67,784.79 1131.46,784.71 1132.25,784.06 1133.04,784.53 1133.83,784.48 1134.62,784.89 1135.41,785.16 1136.2,784.78 1136.99,785.02 1137.78,784.54 1138.57,783.92 1139.36,784.33 1140.15,784.96 1140.94,784.05 1141.73,784.18 1142.52,784.25 1143.31,784.03 1144.1,784.21 1144.89,784.18 1145.68,784.73 1146.47,783.93 1147.26,783.96 1148.05,784.97 1148.84,784.21 1149.63,784.26 1150.42,784.58 1151.21,784.49 1152,784.54 1152.79,783.99 1153.58,784.52 1154.37,784.1 1155.16,784.7 1155.95,784.02 1156.74,784 1157.53,784.55 1158.32,784.41 1159.11,783.96 1159.9,784.2 1160.69,784.49 1161.48,784.82 1162.27,784.68 1163.06,784.2 1163.85,784.87 1164.64,783.92 1165.43,784.72 1166.22,783.9 1167.01,784.65 1167.8,783.82 1168.59,784.12 1169.38,784.36 1170.17,784.33 1170.96,784.15 1171.75,784.21 1172.54,784.54 1173.33,784.66 1174.12,784.25 1174.91,783.69 1175.7,784.06 1176.49,784.73 1177.28,783.76 1178.07,783.85 1178.86,783.59 1179.65,784.47 1180.44,783.73 1181.23,784.56 1182.02,783.77 1182.81,784.21 1183.6,784.23 1184.39,783.36 1185.18,784.28 1185.97,783.7 1186.76,783.22 1187.55,783.93 1188.34,783.91 1189.13,783 1189.92,783.5 1190.71,783.05 1191.5,783.84 1192.29,783.34 1193.08,783.49 1193.87,782.76 1194.66,783.41 1195.45,782.2 1196.24,783.26 1197.03,782.26 1197.82,783.03 1198.61,782.61 1199.4,781.77 1200.19,782.47 1200.98,782.29 1201.77,781.5 1202.56,781.73 1203.35,782.01 1204.14,780.65 1204.93,781.54 1205.72,781.51 1206.51,780.95 1207.3,780.42 1208.09,780.08 1208.88,780.69 1209.67,780.21 1210.46,780.41 1211.25,779.69 1212.04,779.09 1212.83,778.92 1213.62,778.52 1214.41,778.51 1215.2,778.18 1215.99,778.18 1216.78,778.28 1217.57,778.4 1218.36,777.66 1219.15,777.91 1219.94,777.99 1220.73,777.37 1221.52,776.66 1222.31,777.43 1223.1,776.68 1223.89,776.76 1224.68,776.45 1225.47,776.76 1226.26,775.58 1227.05,776.33 1227.84,775.75 1228.63,775.85 1229.42,776.23 1230.21,775.42 1231,775.83 1231.79,775.81 1232.58,775.73 1233.37,775.46 1234.16,775.43 1234.95,774.64 1235.74,774.69 1236.53,773.98 1237.32,773.94 1238.11,773.75 1238.9,774.6 1239.69,774.22 1240.48,774.34 1241.27,773.78 1242.06,773.61 1242.85,773.24 1243.64,773.21 1244.43,773.62 1245.22,773.24 1246.01,772.93 1246.8,773.41 1247.59,773.18 1248.38,772.5 1249.17,772.67 1249.96,771.68 1250.75,772.07 1251.54,772.04 1252.33,771.71 1253.12,771.44 1253.91,771.25 1254.7,770.67 1255.49,770.56 1256.28,770.58 1257.07,770.01 1257.86,770.42 1258.65,769.43 1259.44,769.27 1260.23,769.5 1261.02,769.83 1261.81,769.71 1262.6,769.62 1263.39,770.31 1264.18,769.89 1264.97,769.81 1265.76,770.31 1266.55,770.49 1267.34,769.66 1268.13,770.28 1268.92,770.14 1269.71,769.68 1270.5,770.09 1271.29,771.37 1272.08,771.25 1272.87,772.69 1273.66,773.68 1274.45,773.27 1275.24,774.33 1276.03,774.27 1276.82,773.66 1277.61,773.8 1278.4,774.43 1279.19,773.53 1279.98,773.07 1280.77,772.3 1281.56,771.8 1282.35,770.28 1283.14,769.7 1283.93,767.99 1284.72,766.2 1285.51,763.58 1286.3,762.51 1287.09,759.22 1287.88,757.23 1288.67,753.74 1289.46,750.65 1290.25,746.92 1291.04,742.58 1291.83,738.71 1292.62,734.37 1293.41,729.32 1294.2,723.94 1294.99,717.16 1295.78,711.24 1296.57,704.27 1297.36,697.66 1298.15,691.19 1298.94,682.71 1299.73,674.55 1300.52,666.28 1301.31,657.92 1302.1,649.18 1302.89,639.89 1303.68,630.09 1304.47,621.21 1305.26,611.22 1306.05,601.53 1306.84,591.14 1307.63,581.56 1308.42,571.71 1309.21,562.27 1310,553.57 1310.79,544.51 1311.58,535.34 1312.37,527.15 1313.16,518.86 1313.95,510.93 1314.74,503.53 1315.53,497.42 1316.32,491.19 1317.11,486.82 1317.9,481.87 1318.69,477.15 1319.48,475.04 1320.27,472.25 1321.06,471 1321.85,470.04 1322.64,468.85 1323.43,469.33 1324.22,471.09 1325.01,473.8 1325.8,476.33 1326.59,479.81 1327.38,483.26 1328.17,487.84 1328.96,493.25 1329.75,498.73 1330.54,505.25 1331.33,511.08 1332.12,517.25 1332.91,524.43 1333.7,532.4 1334.49,539.16 1335.28,546.29 1336.07,554.29 1336.86,560.91 1337.65,568.83 1338.44,575.81 1339.23,583.35 1340.02,589.6 1340.81,596.69 1341.6,603.57 1342.39,610.49 1343.18,616.25 1343.97,622.66 1344.76,627.56 1345.55,632.55 1346.34,638.52 1347.13,642.92 1347.92,647.52 1348.71,651.94 1349.5,655.63 1350.29,659.19 1351.08,663.12 1351.87,666.86 1352.66,669.5 1353.45,673.39 1354.24,675.82 1355.03,678.72 1355.82,681.23 1356.61,683.62 1357.4,686.79 1358.19,688.55 1358.98,691 1359.77,692.75 1360.56,694.38 1361.35,696.78 1362.14,699.48 1362.93,700.78 1363.72,702.31 1364.51,703.91 1365.3,706 1366.09,707.58 1366.88,710.36 1367.67,710.96 1368.46,712.99 1369.25,714.91 1370.04,716.29 1370.83,718.07 1371.62,720.81 1372.41,721.66 1373.2,723.46 1373.99,725.92 1374.78,726.96 1375.57,728.87 1376.36,731.08 1377.15,731.99 1377.94,734.51 1378.73,735.56 1379.52,737.41 1380.31,739.25 1381.1,740.43 1381.89,742.11 1382.68,743.96 1383.47,744.49 1384.26,747.07 1385.05,748.59 1385.84,749.36 1386.63,750.27 1387.42,751.82 1388.21,752.98 1389,754.56 1389.79,755.53 1390.58,757.13 1391.37,758.35 1392.16,759.14 1392.95,760.81 1393.74,761.76 1394.53,761.9 1395.32,763.58 1396.11,763.77 1396.9,764.6 1397.69,765.93 1398.48,766.39 1399.27,767.02 1400.06,767.66 1400.85,769.28 1401.64,769.9 1402.43,770.24 1403.22,770.71 1404.01,771.46 1404.8,772.31 1405.59,772.06 1406.38,771.93 1407.17,773.03 1407.96,773.09 1408.75,773.51 1409.54,773.6 1410.33,773.15 1411.12,773.88 1411.91,773.39 1412.7,773.46 1413.49,773.16 1414.28,772.36 1415.07,773 1415.86,771.53 1416.65,771.55 1417.44,770.36 1418.23,769.29 1419.02,768.46 1419.81,767.65 1420.6,765.8 1421.39,765.31 1422.18,763.04 1422.97,761.61 1423.76,759.53 1424.55,757.06 1425.34,754.9 1426.13,752.72 1426.92,750.56 1427.71,747.93 1428.5,744.75 1429.29,741.98 1430.08,738.71 1430.87,734.48 1431.66,732.05 1432.45,727.51 1433.24,724.31 1434.03,720.46 1434.82,716.55 1435.61,712.8 1436.4,708.21 1437.19,704.43 1437.98,699.9 1438.77,695.9 1439.56,690.97 1440.35,686.81 1441.14,683.35 1441.93,679.13 1442.72,674.9 1443.51,671.94 1444.3,668.66 1445.09,665.11 1445.88,662 1446.67,658.43 1447.46,656.13 1448.25,653.72 1449.04,651.03 1449.83,649.9 1450.62,647.65 1451.41,646.68 1452.2,646.11 1452.99,645.06 1453.78,645.49 1454.57,644.98 1455.36,645.4 1456.15,646.74 1456.94,647.61 1457.73,648.7 1458.52,650.67 1459.31,652.65 1460.1,654.77 1460.89,657.2 1461.68,660.18 1462.47,662.87 1463.26,666.92 1464.05,669.86 1464.84,673.32 1465.63,677.36 1466.42,681.11 1467.21,685.26 1468,688.22 1468.79,693 1469.58,696.88 1470.37,700.42 1471.16,705.37 1471.95,708.42 1472.74,713.47 1473.53,717.54 1474.32,721 1475.11,724.78 1475.9,727.76 1476.69,731.39 1477.48,735.02 1478.27,738.78 1479.06,741.87 1479.85,745.34 1480.64,747.53 1481.43,750.9 1482.22,753.7 1483.01,755.77 1483.8,758.76 1484.59,760.79 1485.38,762.11 1486.17,765.12 1486.96,766.89 1487.75,768.51 1488.54,770.02 1489.33,771.26 1490.12,772.81 1490.91,773.93 1491.7,775.17 1492.49,776.28 1493.28,776.81 1494.07,778.07 1494.86,778.86 1495.65,779.13 1496.44,780.71 1497.23,781.24 1498.02,780.92 1498.81,781.97 1499.6,781.99 1500.39,783.24 1501.18,783.13 1501.97,783.06 1502.76,784.02 1503.55,783.76 1504.34,784.22 1505.13,784.72 1505.92,784.17 1506.71,785.13 1507.5,785.2 1508.29,785.18 1509.08,785.71 1509.87,785.19 1510.66,785.62 1511.45,785.74 1512.24,785.92 1513.03,785.45 1513.82,785.55 1514.61,785.83 1515.4,786.4 1516.19,786.54 1516.98,786.48 1517.77,787.16 1518.56,787.16 1519.35,786.11 1520.14,787.28 1520.93,786.32 1521.72,786.72 1522.51,786.49 1523.3,787.62 1524.09,787.39 1524.88,786.84 1525.67,787.9 1526.46,787.84 1527.25,787.6 1528.04,787.89 1528.83,787.99 1529.62,787.39 1530.41,788.18 1531.2,787.13 1531.99,787.61 1532.78,788.43 1533.57,787.42 1534.36,788.31 1535.15,788.07 1535.94,788.04 1536.73,788.63 1537.52,788.24 1538.31,788.86 1539.1,788.75 1539.89,787.84 1540.68,787.96 1541.47,788.34 1542.26,788.14 1543.05,787.89 1543.84,788.82 1544.63,788.38 1545.42,788.83 1546.21,788.85 1547,788.86 1547.79,788.73 1548.58,788.93 1549.37,788.73 1550.16,788.52 1550.95,788.21 1551.74,787.91 1552.53,787.85 1553.32,788.09 1554.11,788.36 1554.9,787.84 1555.69,788.79 1556.48,788.87 1557.27,787.96 1558.06,788.21 1558.85,788.73 1559.64,788.52 1560.43,788.62 1561.22,788.45 1562.01,788.46 1562.8,788.49 1563.59,787.99 1564.38,787.97 1565.17,788.29 1565.96,788.4 1566.75,788.64 1567.54,788.03 1568.33,787.75 1569.12,788.71 1569.91,788.11 1570.7,788.11 1571.49,788.17 1572.28,788.96 1573.07,788.3 1573.86,788.74 1574.65,788.75 1575.44,788.26 1576.23,788.18 1577.02,788.21 1577.81,788.06 1578.6,788.11 1579.39,788.4 1580.18,788.94 1580.97,788.02 1581.76,787.96 1582.55,787.94 1583.34,788.24 1584.13,788.95 1584.92,788.75 1585.71,788.86 1586.5,788.19" fill="none" stroke="#0000ff" stroke-width="3" stroke-linejoin="round" stroke-linecap="butt"/>
<polyline points="1112.5,783.8 1113.29,783.21 1114.08,783.53 1114.87,783.08 1115.66,783.03 1116.45,784.09 1117.24,784.18 1118.03,782.61 1118.82,783.7 1119.61,783.74 1120.4,782.28 1121.19,783.27 1121.98,782.57 1122.77,783.24 1123.56,782.93 1124.35,783.85 1125.14,782.92 1125.93,782.47 1126.72,783.12 1127.51,782.69 1128.3,782.82 1129.09,783.96 1129.88,782.64 1130.67,782.95 1131.46,783.49 1132.25,783.99 1133.04,782.4 1133.83,783.14 1134.62,782.66 1135.41,782.35 1136.2,782.66 1136.99,782.26 1137.78,783.25 1138.57,782.47 1139.36,783.14 1140.15,782.2 1140.94,782.3 1141.73,783.77 1142.52,783.69 1143.31,783.53 1144.1,782.1 1144.89,783.1 1145.68,782.73 1146.47,783.34 1147.26,782.94 1148.05,783.16 1148.84,783.22 1149.63,782.77 1150.42,782.76 1151.21,782.15 1152,782.56 1152.79,782.08 1153.58,782.21 1154.37,781.95 1155.16,782.55 1155.95,783.51 1156.74,782.17 1157.53,781.97 1158.32,782.07 1159.11,782.7 1159.9,782.42 1160.69,783.37 1161.48,782.18 1162.27,782.66 1163.06,783.2 1163.85,783.62 1164.64,782.11 1165.43,781.84 1166.22,783.55 1167.01,782.19 1167.8,782.92 1168.59,783.4 1169.38,783.12 1170.17,782.21 1170.96,782.01 1171.75,783.57 1172.54,782.48 1173.33,783.56 1174.12,782.27 1174.91,783 1175.7,781.94 1176.49,781.75 1177.28,782.64 1178.07,781.7 1178.86,783 1179.65,783.43 1180.44,782.43 1181.23,783.5 1182.02,783.17 1182.81,782.76 1183.6,782.37 1184.39,783.22 1185.18,783.42 1185.97,781.84 1186.76,782.88 1187.55,781.64 1188.34,781.74 1189.13,782.7 1189.92,782.52 1190.71,782.38 1191.5,782.12 1192.29,782.18 1193.08,782.21 1193.87,782.05 1194.66,781.39 1195.45,782.15 1196.24,782.23 1197.03,781.6 1197.82,782.43 1198.61,782.21 1199.4,780.81 1200.19,781.54 1200.98,781.34 1201.77,782.19 1202.56,781.23 1203.35,780.7 1204.14,781.52 1204.93,780.12 1205.72,779.79 1206.51,780.54 1207.3,779.09 1208.09,778.99 1208.88,778.14 1209.67,778.27 1210.46,777.07 1211.25,776.44 1212.04,777.18 1212.83,776.44 1213.62,774.57 1214.41,773.27 1215.2,773.83 1215.99,772.6 1216.78,771.46 1217.57,771.07 1218.36,770.04 1219.15,769.16 1219.94,768.05 1220.73,766.6 1221.52,766.13 1222.31,764.95 1223.1,763.17 1223.89,763.56 1224.68,761.52 1225.47,760.22 1226.26,760.08 1227.05,759.34 1227.84,757.38 1228.63,757.65 1229.42,757.01 1230.21,755.88 1231,754.79 1231.79,755.43 1232.58,754.6 1233.37,754.26 1234.16,753.09 1234.95,753.73 1235.74,752.91 1236.53,754.29 1237.32,754.13 1238.11,753.78 1238.9,753.66 1239.69,754.89 1240.48,755.8 1241.27,756.56 1242.06,756.4 1242.85,757.73 1243.64,757.3 1244.43,758.03 1245.22,760.11 1246.01,760.79 1246.8,760.69 1247.59,761.92 1248.38,762.55 1249.17,764.37 1249.96,765.74 1250.75,766.38 1251.54,766.36 1252.33,768.29 1253.12,769.05 1253.91,769.81 1254.7,770.66 1255.49,771.52 1256.28,771.35 1257.07,773.56 1257.86,774.58 1258.65,773.49 1259.44,774.27 1260.23,774.68 1261.02,776.3 1261.81,775.86 1262.6,776.4 1263.39,778.2 1264.18,777.63 1264.97,777.85 1265.76,778.53 1266.55,779.13 1267.34,779.86 1268.13,780.02 1268.92,780.48 1269.71,780.99 1270.5,780.19 1271.29,780.93 1272.08,780.09 1272.87,781.67 1273.66,780.15 1274.45,780.65 1275.24,780.3 1276.03,780.43 1276.82,780.49 1277.61,781.15 1278.4,782.27 1279.19,780.92 1279.98,782.04 1280.77,781.82 1281.56,781.15 1282.35,781.43 1283.14,781.65 1283.93,780.67 1284.72,781.29 1285.51,781.81 1286.3,781.98 1287.09,780.83 1287.88,781.56 1288.67,780.97 1289.46,781.79 1290.25,782.07 1291.04,781.43 1291.83,780.88 1292.62,782.1 1293.41,780.91 1294.2,780.66 1294.99,780.86 1295.78,780.81 1296.57,782.35 1297.36,781.15 1298.15,780.68 1298.94,782.19 1299.73,781.74 1300.52,781.7 1301.31,781.16 1302.1,781.3 1302.89,781.13 1303.68,780.46 1304.47,781.82 1305.26,781.59 1306.05,781.29 1306.84,781.11 1307.63,780.98 1308.42,778.98 1309.21,778.87 1310,779.93 1310.79,778.66 1311.58,778.45 1312.37,777.78 1313.16,776.92 1313.95,775.44 1314.74,774.48 1315.53,773.66 1316.32,772.54 1317.11,770.61 1317.9,769.1 1318.69,766.1 1319.48,763.32 1320.27,761.16 1321.06,758.57 1321.85,754.85 1322.64,750.53 1323.43,745.71 1324.22,740.52 1325.01,735.96 1325.8,729.32 1326.59,723.3 1327.38,716.76 1328.17,709.44 1328.96,701.23 1329.75,692.32 1330.54,683.81 1331.33,673.75 1332.12,664.17 1332.91,654.12 1333.7,642.72 1334.49,631.23 1335.28,620.96 1336.07,608.62 1336.86,596.83 1337.65,584.15 1338.44,572.28 1339.23,561.74 1340.02,549.39 1340.81,538.6 1341.6,529.07 1342.39,518.73 1343.18,510.09 1343.97,500.26 1344.76,492.88 1345.55,485.74 1346.34,480.22 1347.13,475.84 1347.92,472.24 1348.71,470.25 1349.5,470.03 1350.29,469.2 1351.08,471.51 1351.87,473.54 1352.66,475.7 1353.45,481.47 1354.24,486.75 1355.03,493.03 1355.82,498.71 1356.61,508 1357.4,516.96 1358.19,524.71 1358.98,535.92 1359.77,544.85 1360.56,555.84 1361.35,566.47 1362.14,577.37 1362.93,589.31 1363.72,600.13 1364.51,612.76 1365.3,622.41 1366.09,633.74 1366.88,643.93 1367.67,655.36 1368.46,664.04 1369.25,673.19 1370.04,683.92 1370.83,692.04 1371.62,699.73 1372.41,706.88 1373.2,715.15 1373.99,721.94 1374.78,727.99 1375.57,733.01 1376.36,737.99 1377.15,743.46 1377.94,747.88 1378.73,751.78 1379.52,755.44 1380.31,758.52 1381.1,762.02 1381.89,763.79 1382.68,765.16 1383.47,768.23 1384.26,769.36 1385.05,772.41 1385.84,773.12 1386.63,774.52 1387.42,776.02 1388.21,777.51 1389,778.62 1389.79,779.24 1390.58,779.57 1391.37,781.71 1392.16,782.45 1392.95,781.77 1393.74,781.94 1394.53,783.14 1395.32,783.67 1396.11,783.49 1396.9,784.81 1397.69,784.93 1398.48,785.31 1399.27,784.8 1400.06,785.51 1400.85,785.85 1401.64,785.15 1402.43,784.81 1403.22,786.2 1404.01,785.55 1404.8,786.22 1405.59,785.5 1406.38,786.12 1407.17,786.82 1407.96,787.01 1408.75,787.46 1409.54,786.68 1410.33,786.94 1411.12,787.41 1411.91,787.13 1412.7,787.27 1413.49,786.47 1414.28,787.73 1415.07,786.17 1415.86,787.2 1416.65,787.03 1417.44,787.32 1418.23,786.68 1419.02,786.75 1419.81,787.29 1420.6,787.48 1421.39,787.06 1422.18,786.84 1422.97,787.74 1423.76,787.15 1424.55,786.75 1425.34,787.72 1426.13,788.2 1426.92,788.22 1427.71,787.33 1428.5,787.44 1429.29,786.92 1430.08,787.15 1430.87,788.33 1431.66,788.46 1432.45,788.35 1433.24,788.51 1434.03,787.54 1434.82,787.27 1435.61,787.21 1436.4,788.45 1437.19,787.31 1437.98,788.38 1438.77,788.19 1439.56,787.62 1440.35,788.86 1441.14,788.86 1441.93,787.47 1442.72,788.51 1443.51,788.4 1444.3,787.99 1445.09,787.82 1445.88,789.1 1446.67,788.49 1447.46,788.31 1448.25,788.23 1449.04,788.76 1449.83,788.06 1450.62,787.37 1451.41,788.45 1452.2,788.17 1452.99,788.98 1453.78,788.7 1454.57,787.96 1455.36,789.02 1456.15,787.56 1456.94,787.53 1457.73,789.07 1458.52,787.48 1459.31,788.56 1460.1,787.81 1460.89,787.85 1461.68,788.73 1462.47,788.02 1463.26,788.07 1464.05,787.78 1464.84,788.82 1465.63,787.89 1466.42,787.51 1467.21,788.06 1468,788.33 1468.79,789.13 1469.58,788.42 1470.37,788.69 1471.16,788 1471.95,788.08 1472.74,788.3 1473.53,789.03 1474.32,788.16 1475.11,788.19 1475.9,789.05 1476.69,787.71 1477.48,788.16 1478.27,789.17 1479.06,787.64 1479.85,789.15 1480.64,788.79 1481.43,788.05 1482.22,788.29 1483.01,788.37 1483.8,788.2 1484.59,788.57 1485.38,788.85 1486.17,789.11 1486.96,789.32 1487.75,788.09 1488.54,788.02 1489.33,788.42 1490.12,788.05 1490.91,788.78 1491.7,788.96 1492.49,788.74 1493.28,787.81 1494.07,789.39 1494.86,788.52 1495.65,789.01 1496.44,788.02 1497.23,788.81 1498.02,788.85 1498.81,788.72 1499.6,788.46 1500.39,788.03 1501.18,788.83 1501.97,787.89 1502.76,789.29 1503.55,788.99 1504.34,789.32 1505.13,789.29 1505.92,788.03 1506.71,788.13 1507.5,789.16 1508.29,789.16 1509.08,788.73 1509.87,788.11 1510.66,787.97 1511.45,788.1 1512.24,788.4 1513.03,789.25 1513.82,788.77 1514.61,789.16 1515.4,788.53 1516.19,788.45 1516.98,789.15 1517.77,789.06 1518.56,788.05 1519.35,789.48 1520.14,788.02 1520.93,787.85 1521.72,787.74 1522.51,788.82 1523.3,788.5 1524.09,788.44 1524.88,788.35 1525.67,787.7 1526.46,788.25 1527.25,788.99 1528.04,787.92 1528.83,788.64 1529.62,788.42 1530.41,788.18 1531.2,789.56 1531.99,788.1 1532.78,788.31 1533.57,788.63 1534.36,788.57 1535.15,788.69 1535.94,789.2 1536.73,788.56 1537.52,789.5 1538.31,788.62 1539.1,788.34 1539.89,788.73 1540.68,788.5 1541.47,787.75 1542.26,787.88 1543.05,789.32 1543.84,788.07 1544.63,788.39 1545.42,789.48 1546.21,788.9 1547,789.14 1547.79,789.43 1548.58,788.56 1549.37,787.82 1550.16,788.97 1550.95,787.93 1551.74,788.27 1552.53,789.33 1553.32,787.96 1554.11,788.45 1554.9,787.83 1555.69,788.23 1556.48,788.19 1557.27,788.94 1558.06,788.06 1558.85,787.82 1559.64,787.96 1560.43,788.76 1561.22,788.16 1562.01,788.67 1562.8,789.39 1563.59,789.51 1564.38,789.45 1565.17,789.22 1565.96,789.29 1566.75,788.65 1567.54,788.27 1568.33,788.58 1569.12,788.8 1569.91,788.37 1570.7,789.02 1571.49,788.72 1572.28,788.16 1573.07,788.84 1573.86,789.26 1574.65,787.9 1575.44,788.24 1576.23,788.91 1577.02,788.9 1577.81,788.6 1578.6,788.47 1579.39,789.18 1580.18,789.6 1580.97,789.21 1581.76,788.12 1582.55,789.34 1583.34,788.73 1584.13,789.24 1584.92,789.21 1585.71,789.29 1586.5,788.84" fill="none" stroke="#ff8000" stroke-width="3" stroke-linejoin="round" stroke-linecap="butt"/>
<polyline points="1112.5,786.48 1113.29,786.65 1114.08,786.27 1114.87,786.57 1115.66,786.68 1116.45,786.25 1117.24,785.59 1118.03,785.74 1118.82,785.78 1119.61,786.46 1120.4,786.06 1121.19,786.38 1121.98,786.51 1122.77,786.59 1123.56,786.45 1124.35,785.54 1125.14,785.66 1125.93,785.68 1126.72,785.68 1127.51,786.45 1128.3,786.3 1129.09,785.89 1129.88,785.75 1130.67,785.59 1131.46,785.56 1132.25,786.56 1133.04,785.89 1133.83,785.8 1134.62,786.01 1135.41,786.42 1136.2,786.04 1136.99,786.52 1137.78,785.45 1138.57,785.53 1139.36,785.93 1140.15,786.24 1140.94,785.46 1141.73,785.88 1142.52,785.49 1143.31,785.52 1144.1,785.95 1144.89,786.06 1145.68,785.83 1146.47,786.03 1147.26,786.37 1148.05,786.18 1148.84,785.54 1149.63,786.51 1150.42,786.5 1151.21,785.76 1152,786.19 1152.79,785.86 1153.58,785.94 1154.37,786.1 1155.16,785.26 1155.95,786.27 1156.74,786 1157.53,786.26 1158.32,785.71 1159.11,786.15 1159.9,786.05 1160.69,785.55 1161.48,786.08 1162.27,785.78 1163.06,785.33 1163.85,786.35 1164.64,786.39 1165.43,786.18 1166.22,785.49 1167.01,785.68 1167.8,786.15 1168.59,786.03 1169.38,786.22 1170.17,785.86 1170.96,786.38 1171.75,785.54 1172.54,785.29 1173.33,785.21 1174.12,785.48 1174.91,785.19 1175.7,786.38 1176.49,786.03 1177.28,785.17 1178.07,785.41 1178.86,785.87 1179.65,785.19 1180.44,785.59 1181.23,785.33 1182.02,785.99 1182.81,786.12 1183.6,785.79 1184.39,786.18 1185.18,785.86 1185.97,785.12 1186.76,785.92 1187.55,786.32 1188.34,786.27 1189.13,786.11 1189.92,785.33 1190.71,785.85 1191.5,785.94 1192.29,786.18 1193.08,785.06 1193.87,785.76 1194.66,786.03 1195.45,786.21 1196.24,786.21 1197.03,786.06 1197.82,785.41 1198.61,786.08 1199.4,786.21 1200.19,785.64 1200.98,785.94 1201.77,784.98 1202.56,786.09 1203.35,785.57 1204.14,785.25 1204.93,785.71 1205.72,784.97 1206.51,785.61 1207.3,785.91 1208.09,785.69 1208.88,786.16 1209.67,785.67 1210.46,785.88 1211.25,785.06 1212.04,785.13 1212.83,785.55 1213.62,786.14 1214.41,785.85 1215.2,785.86 1215.99,785.9 1216.78,785.86 1217.57,785.05 1218.36,785.97 1219.15,786.08 1219.94,784.96 1220.73,785.42 1221.52,784.87 1222.31,785.61 1223.1,784.98 1223.89,785.29 1224.68,785.11 1225.47,785.16 1226.26,785.47 1227.05,785.98 1227.84,785.82 1228.63,784.98 1229.42,784.94 1230.21,784.91 1231,785.65 1231.79,785.23 1232.58,785.05 1233.37,785.24 1234.16,785.02 1234.95,785.38 1235.74,785.21 1236.53,785.17 1237.32,785.69 1238.11,784.86 1238.9,784.81 1239.69,785.92 1240.48,784.79 1241.27,784.79 1242.06,785.16 1242.85,785.94 1243.64,784.86 1244.43,785.83 1245.22,784.76 1246.01,785.14 1246.8,785.9 1247.59,785.76 1248.38,785.16 1249.17,785.24 1249.96,785.01 1250.75,784.78 1251.54,785.67 1252.33,785.94 1253.12,784.77 1253.91,785.92 1254.7,784.82 1255.49,785.78 1256.28,784.89 1257.07,784.92 1257.86,784.8 1258.65,785.21 1259.44,784.79 1260.23,785.64 1261.02,785.04 1261.81,785.47 1262.6,784.75 1263.39,784.9 1264.18,785.28 1264.97,785.2 1265.76,785.83 1266.55,785.81 1267.34,785.1 1268.13,785.23 1268.92,784.75 1269.71,785.07 1270.5,785.66 1271.29,785.37 1272.08,784.85 1272.87,785.16 1273.66,785.8 1274.45,784.75 1275.24,784.76 1276.03,785.69 1276.82,785.11 1277.61,785.31 1278.4,784.79 1279.19,785.39 1279.98,785.48 1280.77,785.16 1281.56,784.54 1282.35,785.64 1283.14,785.61 1283.93,784.97 1284.72,784.63 1285.51,785.1 1286.3,785.19 1287.09,784.65 1287.88,784.75 1288.67,785.64 1289.46,784.6 1290.25,785.47 1291.04,785.33 1291.83,784.65 1292.62,785.17 1293.41,784.69 1294.2,785.48 1294.99,784.58 1295.78,785.46 1296.57,785.49 1297.36,785.05 1298.15,785.24 1298.94,784.98 1299.73,784.51 1300.52,784.75 1301.31,785.64 1302.1,785.25 1302.89,784.95 1303.68,785.02 1304.47,784.72 1305.26,785.01 1306.05,785.52 1306.84,785.3 1307.63,784.54 1308.42,785.15 1309.21,784.63 1310,784.35 1310.79,784.8 1311.58,784.73 1312.37,784.81 1313.16,785.18 1313.95,784.42 1314.74,784.98 1315.53,784.41 1316.32,785.17 1317.11,784.46 1317.9,784.55 1318.69,784.77 1319.48,784.98 1320.27,785.36 1321.06,784.55 1321.85,785.07 1322.64,784.68 1323.43,785.35 1324.22,785.41 1325.01,785.32 1325.8,784.48 1326.59,785.27 1327.38,784.35 1328.17,785.02 1328.96,784.75 1329.75,785.03 1330.54,784.69 1331.33,785.35 1332.12,784.95 1332.91,784.27 1333.7,785.23 1334.49,784.62 1335.28,785.03 1336.07,785.06 1336.86,785.41 1337.65,785.41 1338.44,784.22 1339.23,784.37 1340.02,784.4 1340.81,784.39 1341.6,784.2 1342.39,785.2 1343.18,784.66 1343.97,784.77 1344.76,784.66 1345.55,784.2 1346.34,784.42 1347.13,784.15 1347.92,785.22 1348.71,784.54 1349.5,784.5 1350.29,784.41 1351.08,784.57 1351.87,784.29 1352.66,784.96 1353.45,784.16 1354.24,784.82 1355.03,784.57 1355.82,784.19 1356.61,784.43 1357.4,784.92 1358.19,785.02 1358.98,784.89 1359.77,784.5 1360.56,784.03 1361.35,784.15 1362.14,784.78 1362.93,784.77 1363.72,784.24 1364.51,784.91 1365.3,784.74 1366.09,785.24 1366.88,785.02 1367.67,784.57 1368.46,784.37 1369.25,784.46 1370.04,784.77 1370.83,784.03 1371.62,784.44 1372.41,785.02 1373.2,785.13 1373.99,783.98 1374.78,783.96 1375.57,784.04 1376.36,784.43 1377.15,784.8 1377.94,785.07 1378.73,784.86 1379.52,784.9 1380.31,784 1381.1,784.04 1381.89,784.18 1382.68,784.97 1383.47,784.85 1384.26,784.77 1385.05,783.95 1385.84,784.93 1386.63,784.14 1387.42,784.27 1388.21,784.43 1389,783.91 1389.79,784.78 1390.58,784.45 1391.37,784.91 1392.16,784.98 1392.95,785.06 1393.74,784.69 1394.53,784.93 1395.32,785 1396.11,783.82 1396.9,784.7 1397.69,783.94 1398.48,784.18 1399.27,784.14 1400.06,784.23 1400.85,783.85 1401.64,783.94 1402.43,784.13 1403.22,784.32 1404.01,784.14 1404.8,784.08 1405.59,784.27 1406.38,784.31 1407.17,784.71 1407.96,783.79 1408.75,784.18 1409.54,784.63 1410.33,784.4 1411.12,783.38 1411.91,784.01 1412.7,783.65 1413.49,783.05 1414.28,782.53 1415.07,782.86 1415.86,782.36 1416.65,781.8 1417.44,781.69 1418.23,779.88 1419.02,780.09 1419.81,777.86 1420.6,777.66 1421.39,776.23 1422.18,773.68 1422.97,771.78 1423.76,770.29 1424.55,767.32 1425.34,764.49 1426.13,760.85 1426.92,757.76 1427.71,752.72 1428.5,747.76 1429.29,742.86 1430.08,736.76 1430.87,730.33 1431.66,724.02 1432.45,715.79 1433.24,707.56 1434.03,699 1434.82,690.13 1435.61,679.41 1436.4,668.42 1437.19,658.06 1437.98,646.04 1438.77,633.75 1439.56,621.83 1440.35,610.02 1441.14,596.61 1441.93,584.41 1442.72,571.07 1443.51,558.94 1444.3,547.36 1445.09,535.04 1445.88,524.4 1446.67,514.5 1447.46,504.45 1448.25,495.9 1449.04,488.48 1449.83,482.23 1450.62,477.47 1451.41,473.67 1452.2,471.39 1452.99,470.45 1453.78,470.1 1454.57,472.14 1455.36,474.71 1456.15,477.11 1456.94,481.51 1457.73,486.47 1458.52,492.26 1459.31,499.36 1460.1,506.8 1460.89,515 1461.68,522.73 1462.47,531.7 1463.26,541.54 1464.05,552.19 1464.84,561.3 1465.63,571.88 1466.42,582.8 1467.21,594 1468,603.46 1468.79,614.18 1469.58,624.47 1470.37,635.32 1471.16,644.24 1471.95,654.65 1472.74,663.28 1473.53,672.52 1474.32,680.66 1475.11,688 1475.9,695.76 1476.69,702.81 1477.48,710.17 1478.27,716.32 1479.06,721.87 1479.85,727.99 1480.64,732.5 1481.43,736.38 1482.22,740.86 1483.01,744.56 1483.8,748.77 1484.59,751.44 1485.38,754.17 1486.17,756.85 1486.96,759.5 1487.75,761.9 1488.54,763.95 1489.33,764.49 1490.12,765.89 1490.91,768 1491.7,768.53 1492.49,769.97 1493.28,770.57 1494.07,771.07 1494.86,772.41 1495.65,772.62 1496.44,773.6 1497.23,773.73 1498.02,774.74 1498.81,774.79 1499.6,775.07 1500.39,774.54 1501.18,775.77 1501.97,775.19 1502.76,776.23 1503.55,775.26 1504.34,776.45 1505.13,776.69 1505.92,776.66 1506.71,775.87 1507.5,776.31 1508.29,776.14 1509.08,776.73 1509.87,777.31 1510.66,777.11 1511.45,777.05 1512.24,776.45 1513.03,777.57 1513.82,777.55 1514.61,776.87 1515.4,777.86 1516.19,776.85 1516.98,777.77 1517.77,777.5 1518.56,777.45 1519.35,777.2 1520.14,778.32 1520.93,777.4 1521.72,778.31 1522.51,777.69 1523.3,778.63 1524.09,777.75 1524.88,778.55 1525.67,778.58 1526.46,778.85 1527.25,778.54 1528.04,778.59 1528.83,777.82 1529.62,778.35 1530.41,778.71 1531.2,777.97 1531.99,779.05 1532.78,779.05 1533.57,778.16 1534.36,778.22 1535.15,778.6 1535.94,778.28 1536.73,779.49 1537.52,778.47 1538.31,778.76 1539.1,778.85 1539.89,778.68 1540.68,779.65 1541.47,779.58 1542.26,779.7 1543.05,779.31 1543.84,779.26 1544.63,779.31 1545.42,779.57 1546.21,779.13 1547,779.05 1547.79,779.19 1548.58,780.14 1549.37,780.03 1550.16,779.98 1550.95,779.99 1551.74,779.6 1552.53,780.12 1553.32,779.6 1554.11,779.99 1554.9,780 1555.69,779.6 1556.48,779.33 1557.27,780.32 1558.06,780.15 1558.85,779.38 1559.64,780.38 1560.43,780.64 1561.22,780.46 1562.01,779.69 1562.8,779.84 1563.59,779.6 1564.38,780.19 1565.17,780.79 1565.96,780.48 1566.75,779.99 1567.54,780.42 1568.33,780.77 1569.12,780.5 1569.91,780.41 1570.7,780.57 1571.49,780.48 1572.28,780.89 1573.07,781.05 1573.86,780.12 1574.65,780.21 1575.44,780.63 1576.23,781.03 1577.02,780.82 1577.81,780.51 1578.6,780.11 1579.39,780.65 1580.18,780.05 1580.97,780.63 1581.76,781.09 1582.55,780.56 1583.34,780.6 1584.13,780.62 1584.92,780.48 1585.71,781.38 1586.5,780.88" fill="none" stroke="#ff0000" stroke-width="3" stroke-linejoin="round" stroke-linecap="butt"/>
<text transform="translate(1058.48,796.1) scale(1.0200,1.0000)" font-family="'Liberation Sans', sans-serif" font-size="24.3">0.0</text>
<text transform="translate(1058.72,732.8) scale(1.0200,1.0000)" font-family="'Liberation Sans', sans-serif" font-size="24.3">0.2</text>
<text transform="translate(1058.23,669.5) scale(1.0200,1.0000)" font-family="'Liberation Sans', sans-serif" font-size="24.3">0.4</text>
<text transform="translate(1058.6,606.2) scale(1.0200,1.0000)" font-family="'Liberation Sans', sans-serif" font-size="24.3">0.6</text>
<text transform="translate(1058.54,542.9) scale(1.0200,1.0000)" font-family="'Liberation Sans', sans-serif" font-size="24.3">0.8</text>
<text transform="translate(1058.48,479.6) scale(1.0200,1.0000)" font-family="'Liberation Sans', sans-serif" font-size="24.3">1.0</text>
<text transform="translate(1098.62,825.3) scale(1.0400,1.0000)" font-family="'Liberation Sans', sans-serif" font-size="24.3">20</text>
<text transform="translate(1256.65,825.3) scale(1.0400,1.0000)" font-family="'Liberation Sans', sans-serif" font-size="24.3">25</text>
<text transform="translate(1414.77,825.3) scale(1.0400,1.0000)" font-family="'Liberation Sans', sans-serif" font-size="24.3">30</text>
<text transform="translate(1572.81,825.3) scale(1.0400,1.0000)" font-family="'Liberation Sans', sans-serif" font-size="24.3">35</text>
<g font-family="'Liberation Sans', sans-serif">
<text x="1349.5" y="860" text-anchor="middle" font-size="25">Time (min)</text>
<text transform="translate(1037,629) rotate(-90)" text-anchor="middle" font-size="25">Normalised intensity</text>
</g>
<line x1="1492.6" y1="445.5" x2="1531.5" y2="445.5" stroke="#ff0000" stroke-width="3.3" stroke-linecap="round"/>
<line x1="1492.6" y1="495.9" x2="1531.5" y2="495.9" stroke="#ff8000" stroke-width="3.3" stroke-linecap="round"/>
<line x1="1492.6" y1="546.1" x2="1531.5" y2="546.1" stroke="#0000ff" stroke-width="3.3" stroke-linecap="round"/>
<line x1="1492.6" y1="596.3" x2="1531.5" y2="596.3" stroke="#000000" stroke-width="3.3" stroke-linecap="round"/>
<text transform="translate(1538.88,453.1) scale(0.9777,1.0000)" font-family="'Liberation Sans', sans-serif" font-size="23.4">gP18-I10/H-2D</text>
<text transform="translate(1690.93,441.4) scale(1.1225,1.0000)" font-family="'Liberation Sans', sans-serif" font-size="12.6">d</text>
<text transform="translate(1698.14,453.1) scale(0.9944,1.0000)" font-family="'Liberation Sans', sans-serif" font-size="23.4">M228T</text>
<text transform="translate(1539.33,503.7) scale(1.0002,1.0000)" font-family="'Liberation Sans', sans-serif" font-size="23.4">TAPBPR</text>
<text transform="translate(1538.88,554.3) scale(0.9777,1.0000)" font-family="'Liberation Sans', sans-serif" font-size="23.4">gP18-I10/H-2D</text>
<text transform="translate(1690.93,542.6) scale(1.1225,1.0000)" font-family="'Liberation Sans', sans-serif" font-size="12.6">d</text>
<text transform="translate(1698.14,554.3) scale(0.9944,1.0000)" font-family="'Liberation Sans', sans-serif" font-size="23.4">M228T</text>
<text transform="translate(1776.89,554.3) scale(0.9974,1.0000)" font-family="'Liberation Sans', sans-serif" font-size="23.4">+TAPBPR</text>
<text transform="translate(1538.57,604.9) scale(0.9792,1.0000)" font-family="'Liberation Sans', sans-serif" font-size="23.4">P18-I10/H-2D</text>
<text transform="translate(1678.53,593.2) scale(1.1225,1.0000)" font-family="'Liberation Sans', sans-serif" font-size="12.6">d</text>
<text transform="translate(1685.34,604.9) scale(0.9944,1.0000)" font-family="'Liberation Sans', sans-serif" font-size="23.4">M228T</text>
<text transform="translate(1764.09,604.9) scale(0.9974,1.0000)" font-family="'Liberation Sans', sans-serif" font-size="23.4">+TAPBPR</text>
</g>
<g id="panel-d">
<line x1="89.5" y1="1033.2" x2="89.5" y2="1374.2" stroke="#000" stroke-width="2.7"/>
<line x1="78.1" y1="1373.9" x2="519" y2="1373.9" stroke="#000" stroke-width="2.7"/>
<path d="M78.1 1372.9H89.5M82.1 1366.13H89.5M82.1 1359.36H89.5M82.1 1352.59H89.5M82.1 1345.82H89.5M78.1 1339.05H89.5M82.1 1332.28H89.5M82.1 1325.51H89.5M82.1 1318.74H89.5M82.1 1311.97H89.5M78.1 1305.2H89.5M82.1 1298.43H89.5M82.1 1291.66H89.5M82.1 1284.89H89.5M82.1 1278.12H89.5M78.1 1271.35H89.5M82.1 1264.58H89.5M82.1 1257.81H89.5M82.1 1251.04H89.5M82.1 1244.27H89.5M78.1 1237.5H89.5M82.1 1230.73H89.5M82.1 1223.96H89.5M82.1 1217.19H89.5M82.1 1210.42H89.5M78.1 1203.65H89.5M82.1 1196.88H89.5M82.1 1190.11H89.5M82.1 1183.34H89.5M82.1 1176.57H89.5M78.1 1169.8H89.5M82.1 1163.03H89.5M82.1 1156.26H89.5M82.1 1149.49H89.5M82.1 1142.72H89.5M78.1 1135.95H89.5M82.1 1129.18H89.5M82.1 1122.41H89.5M82.1 1115.64H89.5M82.1 1108.87H89.5M78.1 1102.1H89.5M82.1 1095.33H89.5M82.1 1088.56H89.5M82.1 1081.79H89.5M82.1 1075.02H89.5M78.1 1068.25H89.5M82.1 1061.48H89.5M82.1 1054.71H89.5M82.1 1047.94H89.5M82.1 1041.17H89.5M78.1 1034.4H89.5" stroke="#000" stroke-width="2" fill="none"/>
<path d="M89.3 1373.9V1383.7M110.12 1373.9V1380.2M130.95 1373.9V1380.2M151.77 1373.9V1380.2M172.6 1373.9V1380.2M193.43 1373.9V1383.7M214.25 1373.9V1380.2M235.07 1373.9V1380.2M255.9 1373.9V1380.2M276.72 1373.9V1380.2M297.55 1373.9V1383.7M318.38 1373.9V1380.2M339.2 1373.9V1380.2M360.02 1373.9V1380.2M380.85 1373.9V1380.2M401.68 1373.9V1383.7M422.5 1373.9V1380.2M443.32 1373.9V1380.2M464.15 1373.9V1380.2M484.98 1373.9V1380.2M505.8 1373.9V1383.7" stroke="#000" stroke-width="2.2" fill="none"/>
<polyline points="89.3,1372.9 89.3,1372.9 92.42,1372.9 95.55,1372.9 98.67,1372.9 101.8,1372.9 104.92,1372.9 108.04,1372.9 111.17,1372.9 114.29,1372.9 117.41,1372.9 120.54,1372.9 123.66,1372.9 126.78,1372.9 129.91,1372.9 133.03,1372.9 136.16,1372.9 139.28,1372.9 142.4,1372.9 145.53,1372.9 148.65,1372.9 151.77,1372.9 154.9,1372.9 158.02,1372.9 161.15,1372.9 164.27,1372.9 167.39,1372.9 170.52,1372.9 173.64,1372.9 176.76,1372.9 179.89,1372.9 183.01,1372.9 186.14,1372.9 189.26,1372.9 192.38,1372.9 195.51,1372.9 198.63,1372.9 201.76,1372.9 204.88,1372.9 208,1372.9 211.13,1372.9 214.25,1372.9 217.37,1372.9 220.5,1372.9 223.62,1372.9 226.75,1372.9 229.87,1372.9 232.99,1372.9 236.12,1372.9 239.24,1372.9 242.36,1372.9 245.49,1372.9 248.61,1372.9 251.74,1372.9 254.86,1372.9 257.98,1372.9 261.11,1372.9 264.23,1372.9 267.35,1372.9 270.48,1372.9 273.6,1372.9 276.73,1372.9 279.85,1372.9 282.97,1372.9 286.1,1372.9 289.22,1372.9 292.34,1372.9 295.47,1372.9 298.59,1372.9 301.72,1372.9 304.84,1372.9 307.96,1372.9 311.09,1372.9 314.21,1372.9 317.33,1372.9 320.46,1372.9 323.58,1372.9 326.71,1372.9 329.83,1372.9 332.95,1372.9 336.08,1372.9 339.2,1372.89 339.82,1372.88 340.45,1372.86 341.07,1372.82 341.7,1372.76 342.32,1372.65 342.95,1372.46 343.57,1372.16 344.2,1371.68 344.82,1370.97 345.45,1369.92 346.07,1368.46 346.7,1366.49 347.32,1363.91 347.95,1360.69 348.57,1356.83 349.2,1352.39 349.82,1347.52 350.45,1342.47 351.07,1337.52 351.7,1333.04 352.32,1329.36 352.94,1326.8 353.57,1325.59 354.19,1325.84 354.82,1327.52 355.44,1330.48 356.07,1334.46 356.69,1339.14 357.32,1344.16 357.94,1349.18 358.57,1353.92 359.19,1358.19 359.82,1361.84 360.44,1364.84 361.07,1367.21 361.69,1369 362.32,1370.31 362.94,1371.24 363.57,1371.86 364.19,1372.27 364.81,1372.15 365.44,1372.22 366.06,1372 366.69,1372.44 367.31,1372.44 367.94,1372.39 368.56,1372.74 371.69,1372.47 374.81,1372.37 377.93,1372.23 381.06,1372.82 384.18,1372.64 387.31,1372.82 390.43,1372.21 393.55,1372.31 396.68,1372.86 399.8,1372.07 402.92,1372.08 406.05,1372.35 409.17,1372.38 412.3,1372.77 414.4,1371.88 415.6,1369.52 416.3,1339.05 417.6,1220.58 418.9,1108.87 419.6,1081.79 419,1241.91 419.39,1081.8 419.7,1226.19 419.99,1096.2 420.36,1182.01 420.74,1105.94 421.12,1197.16 421.49,1093.28 421.97,1175.24 422.42,1117.47 422.76,1232.94 423.1,1097.52 423.53,1222.95 423.98,1116.37 424.46,1186.95 424.74,1085.54 425.2,1206.49 425.67,1063.84 425.97,1032.71 426.4,1065.84 426.7,1213.33 427.17,1120 427.48,1225.03 427.78,1114.56 428.22,1233.05 428.61,1137.41 428.93,1207.34 429.23,1150.89 429.54,1227.65 429.86,1148.21 430.33,1219.29 430.67,1177.84 431,1256.42 431.45,1182.85 431.75,1243.41 432.07,1197.86 432.51,1297.12 432.84,1223.67 433.14,1295.51 433.47,1242.45 433.83,1309.77 434.3,1247.77 434.69,1302.53 435.01,1256.44 435.47,1316.71 435.8,1280.47 436.23,1325.1 436.5,1312.48 437,1316.46 437.5,1329.41 438,1337.86 438.5,1351.74 439,1354.8 439.5,1317.71 440,1347.5 440.5,1329.63 441,1347.67 441.5,1326.51 442,1335.8 442.5,1347.62 443,1352.35 443.5,1333.15 444,1356.84 444.5,1351.58 445,1340.58 445.5,1331.19 446,1339.79 446.5,1351.31 447,1331.03 447.5,1354.47 448,1360.69 448.5,1353.08 449,1348.01 449.49,1360.05 449.99,1356.83 450.49,1351.46 450.99,1345.92 451.49,1323.82 451.99,1323.82 452.49,1323.82 452.99,1336.38 453.49,1345.68 453.99,1345.18 454.49,1348.41 454.99,1360.32 455.49,1363.24 455.99,1363.85 456.49,1341.73 456.99,1347.34 457.49,1341.35 457.99,1364.43 458.49,1349.99 458.99,1353.94 459.49,1348.48 459.99,1358.24 460.49,1343.1 460.99,1364.13 461.49,1353.91 461.99,1350.03 462.49,1346.84 462.99,1350.66 463.49,1351.67 463.99,1350.11 464.49,1347.92 464.99,1359.68 465.49,1353.19 465.99,1349.18 466.49,1350.08 466.99,1359.18 467.49,1352.22 467.99,1351.1 468.49,1356.84 468.99,1356.09 469.49,1360.76 469.99,1357.3 470.49,1357.03 470.99,1366.64 471.49,1356.91 471.99,1350.95 472.49,1353.17 472.99,1356 473.49,1361.95 473.99,1356.29 474.48,1359.05 474.98,1361.53 475.48,1355.21 475.98,1367.56 476.48,1357.03 476.98,1368.59 477.48,1359.73 477.98,1361.75 478.48,1365.74 478.98,1358.71 479.48,1361.91 479.98,1360.29 480.48,1355.89 480.98,1365.85 481.48,1369.51 481.98,1365.38 482.48,1360.07 482.98,1366.97 483.48,1367.52 483.98,1357.3 484.48,1360.86 484.98,1363.99 485.48,1357.95 485.98,1365.75 486.48,1361.28 486.98,1367.64 487.48,1364.63 487.98,1359.78 488.48,1358.5 488.98,1359.07 489.48,1365.58 489.98,1363.12 490.48,1366.6 490.98,1368.94 491.48,1364.49 491.98,1360.33 492.48,1360.3 492.98,1362.09 493.48,1359.28 493.98,1367.55 494.48,1368.9 494.98,1365.58 495.48,1367.74 495.98,1368.52 496.48,1366.22 496.98,1363.81 497.48,1365.42 497.98,1367.54 498.48,1361.58 498.98,1360.04 499.47,1366.14 499.97,1370.47 500.47,1370.99 500.97,1361.62 501.47,1370.94 501.97,1363.59 502.47,1365.18 502.97,1368.1 503.47,1362.89 503.97,1371.33 504.47,1370.1 504.97,1366.7 505.47,1371.35 505.97,1362.81 506.47,1369.15 506.97,1370.2 507.47,1371.22 507.97,1365.15 508.47,1367.11 508.97,1365.24 509.47,1365.03 509.97,1363.52 510.47,1362.02 510.97,1364.88 511.47,1369.85 511.97,1367.09 512.47,1370.12 512.97,1371.83 513.47,1367.23 513.97,1364.85 514.47,1370.21 514.97,1369.31 515.47,1368.61 515.97,1365.18 516.47,1366.95 516.97,1366.07" fill="none" stroke="#000" stroke-width="2.5" stroke-linejoin="round"/>
<rect x="314.2" y="1036.7" width="87.8" height="335.5" fill="none" stroke="#ff0000" stroke-width="3.8"/>
<text transform="translate(58.41,1379.9) scale(1.0000,1.0000)" font-family="'Liberation Sans', sans-serif" font-size="22">0</text>
<text transform="translate(46.2,1346.05) scale(1.0000,1.0000)" font-family="'Liberation Sans', sans-serif" font-size="22">10</text>
<text transform="translate(46.2,1312.2) scale(1.0000,1.0000)" font-family="'Liberation Sans', sans-serif" font-size="22">20</text>
<text transform="translate(46.2,1278.35) scale(1.0000,1.0000)" font-family="'Liberation Sans', sans-serif" font-size="22">30</text>
<text transform="translate(46.2,1244.5) scale(1.0000,1.0000)" font-family="'Liberation Sans', sans-serif" font-size="22">40</text>
<text transform="translate(46.2,1210.65) scale(1.0000,1.0000)" font-family="'Liberation Sans', sans-serif" font-size="22">50</text>
<text transform="translate(46.2,1176.8) scale(1.0000,1.0000)" font-family="'Liberation Sans', sans-serif" font-size="22">60</text>
<text transform="translate(46.2,1142.95) scale(1.0000,1.0000)" font-family="'Liberation Sans', sans-serif" font-size="22">70</text>
<text transform="translate(46.2,1109.1) scale(1.0000,1.0000)" font-family="'Liberation Sans', sans-serif" font-size="22">80</text>
<text transform="translate(46.2,1075.25) scale(1.0000,1.0000)" font-family="'Liberation Sans', sans-serif" font-size="22">90</text>
<text transform="translate(33.94,1041.4) scale(1.0000,1.0000)" font-family="'Liberation Sans', sans-serif" font-size="22">100</text>
<text transform="translate(83.19,1408.2) scale(1.0000,1.0000)" font-family="'Liberation Sans', sans-serif" font-size="22">0</text>
<text transform="translate(187.32,1408.2) scale(1.0000,1.0000)" font-family="'Liberation Sans', sans-serif" font-size="22">5</text>
<text transform="translate(284.93,1408.2) scale(1.0000,1.0000)" font-family="'Liberation Sans', sans-serif" font-size="22">10</text>
<text transform="translate(389.08,1408.2) scale(1.0000,1.0000)" font-family="'Liberation Sans', sans-serif" font-size="22">15</text>
<text transform="translate(493.45,1408.2) scale(1.0000,1.0000)" font-family="'Liberation Sans', sans-serif" font-size="22">20</text>
<text transform="translate(248.14,1442.4) scale(1.0291,1.0000)" font-family="'Liberation Sans', sans-serif" font-size="22.5">Time (min)</text>
<text transform="translate(18.9,0) rotate(-90) translate(-1304.7,0) scale(1.0103,1.0000)" font-family="'Liberation Sans', sans-serif" font-size="22.3">Relative abundance</text>
<text transform="translate(337.59,1322.2) scale(1.0159,1.0000)" font-family="'Liberation Sans', sans-serif" font-size="22.5">12.72</text>
<text transform="translate(406.76,1030.2) scale(1.0297,1.0000)" font-family="'Liberation Sans', sans-serif" font-size="22.5">16.09</text>
<text transform="translate(259.23,978.9) scale(0.9614,1.0000)" font-family="'Liberation Sans', sans-serif" font-size="35.5">gP18-I10 / H-2D</text>
<text transform="translate(505.03,962.3) scale(1.1427,1.0000)" font-family="'Liberation Sans', sans-serif" font-size="23.4">d</text>
<text transform="translate(523.53,978.9) scale(0.9743,1.0000)" font-family="'Liberation Sans', sans-serif" font-size="35.5">M228T</text>
<line x1="506.5" y1="1048.4" x2="506.5" y2="1292.6" stroke="#000" stroke-width="2.8"/>
<line x1="497.5" y1="1291" x2="882.8" y2="1291" stroke="#000" stroke-width="3.3"/>
<path d="M498.3 1291H506.5M501.3 1286.17H506.5M501.3 1281.33H506.5M501.3 1276.5H506.5M501.3 1271.66H506.5M498.3 1266.83H506.5M501.3 1262H506.5M501.3 1257.16H506.5M501.3 1252.33H506.5M501.3 1247.49H506.5M498.3 1242.66H506.5M501.3 1237.83H506.5M501.3 1232.99H506.5M501.3 1228.16H506.5M501.3 1223.32H506.5M498.3 1218.49H506.5M501.3 1213.66H506.5M501.3 1208.82H506.5M501.3 1203.99H506.5M501.3 1199.15H506.5M498.3 1194.32H506.5M501.3 1189.49H506.5M501.3 1184.65H506.5M501.3 1179.82H506.5M501.3 1174.98H506.5M498.3 1170.15H506.5M501.3 1165.32H506.5M501.3 1160.48H506.5M501.3 1155.65H506.5M501.3 1150.81H506.5M498.3 1145.98H506.5M501.3 1141.15H506.5M501.3 1136.31H506.5M501.3 1131.48H506.5M501.3 1126.64H506.5M498.3 1121.81H506.5M501.3 1116.98H506.5M501.3 1112.14H506.5M501.3 1107.31H506.5M501.3 1102.47H506.5M498.3 1097.64H506.5M501.3 1092.81H506.5M501.3 1087.97H506.5M501.3 1083.14H506.5M501.3 1078.3H506.5M498.3 1073.47H506.5M501.3 1068.64H506.5M501.3 1063.8H506.5M501.3 1058.97H506.5M501.3 1054.13H506.5M498.3 1049.3H506.5" stroke="#000" stroke-width="1.7" fill="none"/>
<path d="M505.7 1291V1296.6M509.75 1291V1294.8M513.8 1291V1294.8M517.85 1291V1294.8M521.9 1291V1294.8M525.95 1291V1296.6M530 1291V1294.8M534.05 1291V1294.8M538.1 1291V1294.8M542.15 1291V1294.8M546.2 1291V1299M550.25 1291V1294.8M554.3 1291V1294.8M558.35 1291V1294.8M562.4 1291V1294.8M566.45 1291V1296.6M570.5 1291V1294.8M574.55 1291V1294.8M578.6 1291V1294.8M582.65 1291V1294.8M586.7 1291V1296.6M590.75 1291V1294.8M594.8 1291V1294.8M598.85 1291V1294.8M602.9 1291V1294.8M606.95 1291V1296.6M611 1291V1294.8M615.05 1291V1294.8M619.1 1291V1294.8M623.15 1291V1294.8M627.2 1291V1299M631.25 1291V1294.8M635.3 1291V1294.8M639.35 1291V1294.8M643.4 1291V1294.8M647.45 1291V1296.6M651.5 1291V1294.8M655.55 1291V1294.8M659.6 1291V1294.8M663.65 1291V1294.8M667.7 1291V1296.6M671.75 1291V1294.8M675.8 1291V1294.8M679.85 1291V1294.8M683.9 1291V1294.8M687.95 1291V1296.6M692 1291V1294.8M696.05 1291V1294.8M700.1 1291V1294.8M704.15 1291V1294.8M708.2 1291V1299M712.25 1291V1294.8M716.3 1291V1294.8M720.35 1291V1294.8M724.4 1291V1294.8M728.45 1291V1296.6M732.5 1291V1294.8M736.55 1291V1294.8M740.6 1291V1294.8M744.65 1291V1294.8M748.7 1291V1296.6M752.75 1291V1294.8M756.8 1291V1294.8M760.85 1291V1294.8M764.9 1291V1294.8M768.95 1291V1296.6M773 1291V1294.8M777.05 1291V1294.8M781.1 1291V1294.8M785.15 1291V1294.8M789.2 1291V1299M793.25 1291V1294.8M797.3 1291V1294.8M801.35 1291V1294.8M805.4 1291V1294.8M809.45 1291V1296.6M813.5 1291V1294.8M817.55 1291V1294.8M821.6 1291V1294.8M825.65 1291V1294.8M829.7 1291V1296.6M833.75 1291V1294.8M837.8 1291V1294.8M841.85 1291V1294.8M845.9 1291V1294.8M849.95 1291V1296.6M854 1291V1294.8M858.05 1291V1294.8M862.1 1291V1294.8M866.15 1291V1294.8M870.2 1291V1299M874.25 1291V1294.8M878.3 1291V1294.8M882.35 1291V1294.8" stroke="#000" stroke-width="1.7" fill="none"/>
<path d="M518.82 1291V1269.73M523.8 1291V1283.27M538.22 1291V1284.96M540.7 1291V1285.44M544.43 1291V1262M550.65 1291V1280.85M559.35 1291V1287.37M567.56 1291V1278.91M571.04 1291V1049.3M574.27 1291V1288.1M611.07 1291V1284.72M622.26 1291V1276.01M650.36 1291V1282.3M651.85 1291V1286.65M662.54 1291V1263.2M685.67 1291V1288.1M694.87 1291V1287.86M702.82 1291V1277.46M704.56 1291V1284.23M715.01 1291V1276.01M716.75 1291V1283.75M749.57 1291V1288.58M756.53 1291V1085.56M758.27 1291V1284.96M764.99 1291V1280.85M768.22 1291V1288.1M779.41 1291V1288.1M800.54 1291V1289.07M880.11 1291V1289.07M508.38 1291V1289.76M512.51 1291V1289.47M516.85 1291V1288.91M519.32 1291V1290.25M524.47 1291V1289.71M527.52 1291V1288.11M531.4 1291V1288.46M535.3 1291V1288.88M538.06 1291V1288.89M543.32 1291V1289.14M548.14 1291V1288.81M550.6 1291V1288.63M554.89 1291V1289.62M557.24 1291V1288.39M561.12 1291V1288.71M566.42 1291V1288.72M571.86 1291V1289.42M576.89 1291V1289.31M582.38 1291V1288.36M584.96 1291V1289.98M587.95 1291V1288.17M591.71 1291V1288.91M595 1291V1289.17M598.58 1291V1289.51M602.85 1291V1289M608.24 1291V1288.79M613.71 1291V1288.41M619.4 1291V1288.81M622.2 1291V1288.4M627.8 1291V1288.31M632.02 1291V1288.72M634.99 1291V1288.47M639.22 1291V1289.66M641.68 1291V1288.42M647.37 1291V1290.08M652.39 1291V1289.38M655.15 1291V1289.64M660.07 1291V1288.38M662.46 1291V1288.94M664.85 1291V1288.71M668.24 1291V1288.36M673.89 1291V1289.18M679.61 1291V1289.6M682.11 1291V1288.97M684.46 1291V1289.85M688.12 1291V1288.95M690.9 1291V1290.18M696.16 1291V1289.59M701.73 1291V1288.32M705.29 1291V1289.27M709.34 1291V1288.87M713.65 1291V1289.06M718.04 1291V1288.23M722.05 1291V1289.34M726.79 1291V1289.76M730.08 1291V1288.15M734.13 1291V1289.08M736.41 1291V1289.37M740.66 1291V1290.23M745.05 1291V1288.9M747.49 1291V1288.91M751.35 1291V1288.8M754.82 1291V1288.74M759.63 1291V1290.23M762.08 1291V1288.8M767.67 1291V1289.73M771.49 1291V1288.99M774.84 1291V1289.48M778.17 1291V1289.47M782.48 1291V1289.62M786.03 1291V1288.59M788.36 1291V1289.04M793.16 1291V1289.6M796.17 1291V1288.53M799.24 1291V1289.87M803 1291V1288.76M805.59 1291V1289.57M808.99 1291V1288.46M812.75 1291V1288.41M815.58 1291V1289.54M820.08 1291V1288.35M823.89 1291V1289.79M826.55 1291V1289.12M829.45 1291V1288.52M834.61 1291V1289.88M837.81 1291V1288.52M842.29 1291V1288.52M845.73 1291V1289.99M848.98 1291V1288.55M852.16 1291V1289.52M855.85 1291V1289.36M859.52 1291V1288.27M862.3 1291V1290.26M867.82 1291V1288.36M873.49 1291V1289.33M879.04 1291V1288.26M882.05 1291V1288.65" stroke="#000" stroke-width="2.4" fill="none"/>
<g>
<text transform="translate(486.16,1295.7) scale(1.0750,1.0000)" font-family="'Liberation Sans', sans-serif" font-size="13.2">0</text>
<text transform="translate(478.28,1271.53) scale(1.0750,1.0000)" font-family="'Liberation Sans', sans-serif" font-size="13.2">10</text>
<text transform="translate(478.28,1247.36) scale(1.0750,1.0000)" font-family="'Liberation Sans', sans-serif" font-size="13.2">20</text>
<text transform="translate(478.28,1223.19) scale(1.0750,1.0000)" font-family="'Liberation Sans', sans-serif" font-size="13.2">30</text>
<text transform="translate(478.28,1199.02) scale(1.0750,1.0000)" font-family="'Liberation Sans', sans-serif" font-size="13.2">40</text>
<text transform="translate(478.28,1174.85) scale(1.0750,1.0000)" font-family="'Liberation Sans', sans-serif" font-size="13.2">50</text>
<text transform="translate(478.28,1150.68) scale(1.0750,1.0000)" font-family="'Liberation Sans', sans-serif" font-size="13.2">60</text>
<text transform="translate(478.28,1126.51) scale(1.0750,1.0000)" font-family="'Liberation Sans', sans-serif" font-size="13.2">70</text>
<text transform="translate(478.28,1102.34) scale(1.0750,1.0000)" font-family="'Liberation Sans', sans-serif" font-size="13.2">80</text>
<text transform="translate(478.28,1078.17) scale(1.0750,1.0000)" font-family="'Liberation Sans', sans-serif" font-size="13.2">90</text>
<text transform="translate(470.37,1054) scale(1.0750,1.0000)" font-family="'Liberation Sans', sans-serif" font-size="13.2">100</text>
</g>
<text transform="translate(460.2,0) rotate(-90) translate(-1237.47,0) scale(1.0212,1.0000)" font-family="'Liberation Sans', sans-serif" font-size="14.3">Relative abundance</text>
<text transform="translate(527.45,1324.6) scale(1.1300,1.0000)" font-family="'Liberation Sans', sans-serif" font-size="20.3">400</text>
<text transform="translate(608.13,1324.6) scale(1.1300,1.0000)" font-family="'Liberation Sans', sans-serif" font-size="20.3">600</text>
<text transform="translate(689.22,1324.6) scale(1.1300,1.0000)" font-family="'Liberation Sans', sans-serif" font-size="20.3">800</text>
<text transform="translate(763.48,1324.6) scale(1.1300,1.0000)" font-family="'Liberation Sans', sans-serif" font-size="20.3">1000</text>
<text transform="translate(844.48,1324.6) scale(1.1300,1.0000)" font-family="'Liberation Sans', sans-serif" font-size="20.3">1200</text>
<text transform="translate(677.87,1359.4) scale(1.0327,1.0000)" font-family="'Liberation Sans', sans-serif" font-size="21.6" font-style="italic">m/z</text>
<text transform="translate(555.09,1046.9) scale(1.1141,1.0000)" font-family="'Liberation Sans', sans-serif" font-size="20.5">459.58</text>
<text transform="translate(740.4,1083) scale(1.0875,1.0000)" font-family="'Liberation Sans', sans-serif" font-size="20.5">917.61</text>
<text transform="translate(676.52,1269.2) scale(1.1199,1.0000)" font-family="'Liberation Sans', sans-serif" font-size="20.5">816.55</text>
<line x1="1058.2" y1="1040.6" x2="1058.2" y2="1373.6" stroke="#000" stroke-width="2.7"/>
<line x1="1047.2" y1="1372.6" x2="1498.5" y2="1372.6" stroke="#000" stroke-width="2.7"/>
<path d="M1047.2 1372.3H1058.2M1050.9 1365.69H1058.2M1050.9 1359.08H1058.2M1050.9 1352.47H1058.2M1050.9 1345.86H1058.2M1047.2 1339.25H1058.2M1050.9 1332.64H1058.2M1050.9 1326.03H1058.2M1050.9 1319.42H1058.2M1050.9 1312.81H1058.2M1047.2 1306.2H1058.2M1050.9 1299.59H1058.2M1050.9 1292.98H1058.2M1050.9 1286.37H1058.2M1050.9 1279.76H1058.2M1047.2 1273.15H1058.2M1050.9 1266.54H1058.2M1050.9 1259.93H1058.2M1050.9 1253.32H1058.2M1050.9 1246.71H1058.2M1047.2 1240.1H1058.2M1050.9 1233.49H1058.2M1050.9 1226.88H1058.2M1050.9 1220.27H1058.2M1050.9 1213.66H1058.2M1047.2 1207.05H1058.2M1050.9 1200.44H1058.2M1050.9 1193.83H1058.2M1050.9 1187.22H1058.2M1050.9 1180.61H1058.2M1047.2 1174H1058.2M1050.9 1167.39H1058.2M1050.9 1160.78H1058.2M1050.9 1154.17H1058.2M1050.9 1147.56H1058.2M1047.2 1140.95H1058.2M1050.9 1134.34H1058.2M1050.9 1127.73H1058.2M1050.9 1121.12H1058.2M1050.9 1114.51H1058.2M1047.2 1107.9H1058.2M1050.9 1101.29H1058.2M1050.9 1094.68H1058.2M1050.9 1088.07H1058.2M1050.9 1081.46H1058.2M1047.2 1074.85H1058.2M1050.9 1068.24H1058.2M1050.9 1061.63H1058.2M1050.9 1055.02H1058.2M1050.9 1048.41H1058.2M1047.2 1041.8H1058.2" stroke="#000" stroke-width="2" fill="none"/>
<path d="M1057.85 1372.6V1383.7M1079.06 1372.6V1380.2M1100.27 1372.6V1380.2M1121.48 1372.6V1380.2M1142.69 1372.6V1380.2M1163.9 1372.6V1383.7M1185.11 1372.6V1380.2M1206.32 1372.6V1380.2M1227.53 1372.6V1380.2M1248.74 1372.6V1380.2M1269.95 1372.6V1383.7M1291.16 1372.6V1380.2M1312.37 1372.6V1380.2M1333.58 1372.6V1380.2M1354.79 1372.6V1380.2M1376 1372.6V1383.7M1397.21 1372.6V1380.2M1418.42 1372.6V1380.2M1439.63 1372.6V1380.2M1460.84 1372.6V1380.2M1482.05 1372.6V1383.7" stroke="#000" stroke-width="2.2" fill="none"/>
<polyline points="1057.85,1370.92 1059.55,1370.78 1061.24,1370.72 1062.94,1370.55 1064.64,1370.78 1066.33,1370.57 1068.03,1371.61 1069.73,1371.1 1071.42,1370.55 1073.12,1370.89 1074.82,1370.6 1076.51,1371.51 1078.21,1371.1 1079.91,1371.35 1081.61,1371.01 1083.3,1370.98 1085,1371.62 1086.7,1371.39 1088.39,1371.32 1090.09,1370.58 1091.79,1370.75 1093.48,1371.45 1095.18,1370.72 1096.88,1371.48 1098.57,1370.92 1100.27,1371.49 1101.97,1371.64 1103.66,1370.63 1105.36,1371.4 1107.06,1371.39 1108.75,1370.5 1110.45,1370.63 1112.15,1371.3 1113.84,1370.53 1115.54,1371.02 1117.24,1370.85 1118.93,1371.4 1120.63,1370.55 1122.33,1370.84 1124.03,1370.52 1125.72,1370.61 1127.42,1371.29 1129.12,1371.22 1130.81,1371.45 1132.51,1371.47 1134.21,1371.56 1135.9,1371.29 1137.6,1370.94 1139.3,1371.64 1140.99,1370.85 1142.69,1371.25 1144.39,1371.28 1146.08,1370.69 1147.78,1371.08 1149.48,1371.27 1151.17,1371.08 1152.87,1370.82 1154.57,1371.57 1156.26,1370.51 1157.96,1371.61 1159.66,1370.77 1161.35,1370.66 1163.05,1371.62 1164.75,1370.73 1166.45,1371.22 1168.14,1370.97 1169.84,1371.63 1171.54,1371.58 1173.23,1371.43 1174.93,1370.53 1176.63,1371.41 1178.32,1370.76 1180.02,1370.56 1181.72,1370.55 1183.41,1371.24 1185.11,1371.23 1186.81,1371.03 1188.5,1370.74 1190.2,1371.51 1191.9,1370.77 1193.59,1370.72 1195.29,1370.64 1196.99,1371.6 1198.68,1370.54 1200.38,1371.53 1202.08,1371.24 1203.77,1370.93 1205.47,1370.58 1207.17,1371.25 1208.87,1370.57 1210.56,1371.01 1212.26,1371.28 1213.96,1371.27 1215.65,1371.43 1217.35,1371.55 1219.05,1371.47 1220.74,1370.84 1222.44,1370.49 1224.14,1371.45 1225.83,1371.58 1227.53,1370.5 1229.23,1371.02 1230.92,1371.17 1232.62,1371.36 1234.32,1370.95 1236.01,1370.68 1237.71,1371.11 1239.41,1371.15 1241.1,1371.57 1242.8,1370.58 1244.5,1371.6 1246.19,1371.07 1247.89,1370.67 1249.59,1371.49 1251.29,1370.79 1252.98,1370.54 1254.68,1370.91 1256.38,1370.73 1258.07,1371.52 1259.77,1371.14 1261.47,1371.47 1263.16,1370.66 1264.86,1371.3 1266.56,1371.11 1268.25,1370.48 1269.95,1370.65 1271.65,1370.51 1273.34,1371.11 1275.04,1371.07 1276.74,1370.8 1278.43,1371.08 1280.13,1371.3 1281.83,1371.17 1283.52,1371.47 1285.22,1371.2 1286.92,1370.5 1288.61,1370.53 1290.31,1370.91 1292.01,1371.06 1293.71,1371.25 1295.4,1371.54 1297.1,1371.32 1298.8,1370.73 1300.49,1370.64 1302.19,1371.22 1303.89,1370.73 1305.58,1370.74 1307.28,1370.84 1308.98,1370.87 1310.67,1370.76 1312.37,1371.22 1314.07,1370.82 1315.76,1371.31 1317.46,1371.08 1319.16,1370.75 1320.85,1370.84 1322.55,1371.3 1324.25,1370.55 1325.94,1370.89 1327.64,1370.97 1329.34,1371.63 1331.03,1371.01 1332.73,1371.35 1334.43,1370.86 1336.13,1371.1 1337.82,1370.69 1339.52,1370.89 1341.22,1370.72 1342.91,1371.24 1344.61,1370.89 1346.31,1370.79 1348,1370.68 1349.7,1371.23 1351.4,1370.66 1353.09,1370.63 1354.79,1370.84 1356.49,1370.51 1358.18,1370.53 1359.88,1370.87 1361.58,1370.53 1363.27,1370.62 1364.97,1369.51 1366.67,1369.07 1368.36,1369.27 1370.06,1368.69 1371.76,1368.33 1373.45,1367.98 1375.15,1368.3 1376.85,1367.43 1378.55,1367.66 1380.24,1370.09 1381.94,1369.62 1383.64,1369.7 1385.33,1370.44 1387.03,1369.79 1388.73,1364.65 1390.42,1365.32 1392.12,1365.17 1393.82,1365.63 1394.81,1364.09 1396.74,1361.88 1397.85,1331.49 1398.95,1281.77 1400.33,1232.04 1398.95,1176.8 1397.85,1143.65 1399.5,1104.97 1400.06,1055.25 1401.44,1041.44 1401.71,1101.93 1402.07,1056.38 1402.48,1122.41 1402.96,1041.34 1403.32,1133.15 1403.69,1053.91 1404.15,1141.78 1404.43,1080.74 1404.73,1142.3 1405.08,1096.43 1405.57,1149.74 1405.94,1132.6 1406.36,1185.54 1406.66,1147.67 1407.06,1175 1407.55,1159.18 1407.91,1187.11 1408.18,1157.72 1408.59,1203.79 1408.89,1176.48 1409.37,1220.55 1409.74,1182.12 1410.08,1213.3 1410.44,1206.12 1410.92,1235.96 1411.25,1219.3 1411.64,1250.76 1411.98,1230.59 1412.37,1261.61 1412.75,1224.61 1413.16,1264.28 1413.5,1240.9 1413.96,1281.12 1414.36,1241.17 1414.84,1269.94 1415.17,1247.63 1415.48,1269.64 1415.82,1257.18 1416.2,1282.61 1416.61,1264.83 1416.92,1284.94 1417.26,1266.72 1417.61,1300.1 1418,1271.29 1418.36,1293.17 1418.77,1267.74 1419.1,1299.54 1419.58,1279.92 1419.97,1308.03 1420.42,1276.53 1420.82,1295.5 1421.24,1279 1421.72,1301.2 1422.08,1284.33 1422.4,1302.57 1422.86,1279.22 1423.32,1297.78 1423.69,1282.41 1424.14,1296.44 1424.45,1285.21 1424.85,1304.11 1425.2,1283.37 1425.6,1300.98 1425.89,1285.06 1426.35,1302.9 1426.77,1284.31 1427.21,1301.59 1427.71,1292.66 1427.99,1305.05 1428.32,1293.35 1428.81,1308.3 1429.11,1291.69 1429.59,1317.89 1430,1294.67 1430.31,1311.79 1430.6,1293.28 1430.96,1320.49 1431.25,1298.64 1431.69,1310.19 1431.99,1298.99 1432.34,1314.9 1432.73,1314.36 1433.01,1310.02 1433.39,1306.52 1433.76,1308.45 1434.13,1301.86 1434.49,1299.63 1434.83,1310.19 1435.22,1308.64 1435.61,1298.56 1435.98,1301.06 1436.34,1302.45 1436.62,1320.69 1436.92,1313.4 1437.23,1298.53 1437.62,1310.88 1438,1302.53 1438.33,1307.02 1438.67,1298.48 1439.06,1310.18 1439.47,1304.99 1439.84,1308.82 1440.14,1296.24 1440.42,1311.29 1440.82,1295.46 1441.25,1306.29 1441.6,1297 1441.9,1301.77 1442.32,1297.72 1442.65,1297.95 1442.96,1319.19 1443.39,1301.76 1443.78,1307.23 1444.21,1297.49 1444.54,1307.4 1444.84,1319.57 1445.16,1296.98 1445.59,1302.12 1445.95,1300.76 1446.34,1298.72 1446.73,1312.54 1447.08,1320.01 1447.36,1309.81 1447.65,1305.79 1448.01,1302.35 1448.3,1312.11 1448.73,1297.26 1449.01,1303.39 1449.33,1303.63 1449.62,1297.15 1449.92,1305.54 1450.29,1298.11 1450.58,1306.26 1450.96,1311.9 1451.24,1306.35 1451.61,1303.54 1452,1313.11 1452.35,1311.65 1452.65,1302.6 1453.05,1311.66 1453.35,1298.68 1453.64,1304.87 1453.96,1298.44 1454.24,1300.95 1454.58,1299.22 1454.91,1310.85 1455.34,1309.19 1455.71,1305.52 1456.09,1314.66 1456.48,1302.87 1456.82,1300.78 1457.13,1303.43 1457.45,1300.23 1457.82,1323.51 1458.12,1306.09 1458.55,1311.03 1458.9,1306.96 1459.18,1311.17 1459.57,1302.92 1459.88,1314.08 1460.31,1316.02 1460.64,1318.47 1460.99,1310.45 1461.42,1312.49 1461.79,1305.28 1462.14,1304.72 1462.42,1314.28 1462.84,1311.44 1463.17,1308.38 1463.5,1318.44 1463.84,1309.88 1464.25,1320.93 1464.59,1308.78 1464.95,1307.28 1465.24,1319.59 1465.55,1321.3 1465.94,1322.86 1466.35,1332.04 1466.71,1318.74 1467.05,1332.74 1467.38,1315.73 1467.77,1316.27 1468.19,1325.8 1468.57,1319.2 1468.91,1320.41 1469.27,1315.17 1469.56,1316.62 1469.96,1323.21 1470.4,1315.7 1470.68,1324.35 1471.12,1327.16 1471.53,1324.62 1471.84,1320.89 1472.16,1329.18 1472.5,1312.22 1472.81,1323.9 1473.23,1323.47 1473.53,1324.98 1473.92,1319.67 1474.23,1318.65 1474.61,1329.35 1475,1327.27 1475.28,1323.91 1475.7,1327.04 1476.05,1323.73 1476.38,1319.55 1476.81,1338.89 1477.11,1324.99 1477.42,1318.6 1477.8,1327.68 1478.09,1324.22 1478.52,1321.72 1478.9,1332.94 1479.3,1331.89 1479.59,1320.79 1479.88,1320.41 1480.17,1331.48 1480.58,1332.78 1481.01,1336 1481.45,1321.43 1481.74,1323.6 1482.09,1332.41 1482.38,1327.85 1482.72,1323.21 1483.06,1333.62 1483.49,1338.77 1483.89,1335.29 1484.19,1331.36 1484.59,1339.61 1484.91,1332.58 1485.32,1334.19 1485.65,1337.49 1485.94,1335.94 1486.32,1335.38 1486.62,1339.37 1486.98,1340.41 1487.27,1341.52 1487.55,1345.49 1487.83,1353.59 1488.17,1353.59 1488.48,1347 1488.84,1340.22 1489.27,1343.12 1489.56,1340.46 1489.9,1340.92 1490.29,1340.24 1490.57,1340.43 1490.99,1340.6 1491.33,1341.8 1491.75,1336.22 1492.1,1341.73 1492.41,1338.13 1492.76,1337.28 1493.06,1336.55 1493.35,1337.99 1493.77,1336.83 1494.19,1341.96 1494.48,1337.2 1494.92,1335.9 1495.26,1337.51 1495.6,1340.93 1495.96,1342.3 1496.25,1336.62" fill="none" stroke="#000" stroke-width="2.5" stroke-linejoin="round"/>
<rect x="1288" y="1034.4" width="87.6" height="336.3" fill="none" stroke="#ff0000" stroke-width="3.6"/>
<text transform="translate(1026.71,1378.6) scale(1.0000,1.0000)" font-family="'Liberation Sans', sans-serif" font-size="22">0</text>
<text transform="translate(1014.5,1345.55) scale(1.0000,1.0000)" font-family="'Liberation Sans', sans-serif" font-size="22">10</text>
<text transform="translate(1014.5,1312.5) scale(1.0000,1.0000)" font-family="'Liberation Sans', sans-serif" font-size="22">20</text>
<text transform="translate(1014.5,1279.45) scale(1.0000,1.0000)" font-family="'Liberation Sans', sans-serif" font-size="22">30</text>
<text transform="translate(1014.5,1246.4) scale(1.0000,1.0000)" font-family="'Liberation Sans', sans-serif" font-size="22">40</text>
<text transform="translate(1014.5,1213.35) scale(1.0000,1.0000)" font-family="'Liberation Sans', sans-serif" font-size="22">50</text>
<text transform="translate(1014.5,1180.3) scale(1.0000,1.0000)" font-family="'Liberation Sans', sans-serif" font-size="22">60</text>
<text transform="translate(1014.5,1147.25) scale(1.0000,1.0000)" font-family="'Liberation Sans', sans-serif" font-size="22">70</text>
<text transform="translate(1014.5,1114.2) scale(1.0000,1.0000)" font-family="'Liberation Sans', sans-serif" font-size="22">80</text>
<text transform="translate(1014.5,1081.15) scale(1.0000,1.0000)" font-family="'Liberation Sans', sans-serif" font-size="22">90</text>
<text transform="translate(1002.24,1048.1) scale(1.0000,1.0000)" font-family="'Liberation Sans', sans-serif" font-size="22">100</text>
<text transform="translate(1051.74,1408.2) scale(1.0000,1.0000)" font-family="'Liberation Sans', sans-serif" font-size="22">0</text>
<text transform="translate(1157.8,1408.2) scale(1.0000,1.0000)" font-family="'Liberation Sans', sans-serif" font-size="22">5</text>
<text transform="translate(1257.33,1408.2) scale(1.0000,1.0000)" font-family="'Liberation Sans', sans-serif" font-size="22">10</text>
<text transform="translate(1363.4,1408.2) scale(1.0000,1.0000)" font-family="'Liberation Sans', sans-serif" font-size="22">15</text>
<text transform="translate(1469.7,1408.2) scale(1.0000,1.0000)" font-family="'Liberation Sans', sans-serif" font-size="22">20</text>
<text transform="translate(1221.94,1442.4) scale(1.0281,1.0000)" font-family="'Liberation Sans', sans-serif" font-size="22.5">Time (min)</text>
<text transform="translate(986.6,0) rotate(-90) translate(-1307.8,0) scale(1.0382,1.0000)" font-family="'Liberation Sans', sans-serif" font-size="21.7">Relative abundance</text>
<text transform="translate(1383.96,1037.2) scale(1.0327,1.0000)" font-family="'Liberation Sans', sans-serif" font-size="22.5">16.17</text>
<text transform="translate(1250.1,978.9) scale(0.9494,1.0000)" font-family="'Liberation Sans', sans-serif" font-size="35.5">H-2D</text>
<text transform="translate(1328.27,962.3) scale(1.1050,1.0000)" font-family="'Liberation Sans', sans-serif" font-size="23.4">d</text>
<text transform="translate(1346.7,978.9) scale(0.9858,1.0000)" font-family="'Liberation Sans', sans-serif" font-size="35.5">M228T / TAPBPR</text>
<line x1="1481" y1="1017.7" x2="1481" y2="1266.9" stroke="#000" stroke-width="3.2"/>
<line x1="1476.8" y1="1265.3" x2="1850.8" y2="1265.3" stroke="#000" stroke-width="3.3"/>
<path d="M1472.8 1067.94H1481M1475.8 1063.01H1481M1475.8 1058.07H1481M1475.8 1053.14H1481M1475.8 1048.2H1481M1472.8 1043.27H1481M1475.8 1038.34H1481M1475.8 1033.4H1481M1475.8 1028.47H1481M1475.8 1023.53H1481M1472.8 1018.6H1481" stroke="#000" stroke-width="1.7" fill="none"/>
<path d="M1484.83 1265.3V1269.1M1488.96 1265.3V1269.1M1493.09 1265.3V1269.1M1497.22 1265.3V1269.1M1501.35 1265.3V1270.9M1505.48 1265.3V1269.1M1509.61 1265.3V1269.1M1513.74 1265.3V1269.1M1517.87 1265.3V1269.1M1522 1265.3V1273.3M1526.13 1265.3V1269.1M1530.26 1265.3V1269.1M1534.39 1265.3V1269.1M1538.52 1265.3V1269.1M1542.65 1265.3V1270.9M1546.78 1265.3V1269.1M1550.91 1265.3V1269.1M1555.04 1265.3V1269.1M1559.17 1265.3V1269.1M1563.3 1265.3V1270.9M1567.43 1265.3V1269.1M1571.56 1265.3V1269.1M1575.69 1265.3V1269.1M1579.82 1265.3V1269.1M1583.95 1265.3V1270.9M1588.08 1265.3V1269.1M1592.21 1265.3V1269.1M1596.34 1265.3V1269.1M1600.47 1265.3V1269.1M1604.6 1265.3V1273.3M1608.73 1265.3V1269.1M1612.86 1265.3V1269.1M1616.99 1265.3V1269.1M1621.12 1265.3V1269.1M1625.25 1265.3V1270.9M1629.38 1265.3V1269.1M1633.51 1265.3V1269.1M1637.64 1265.3V1269.1M1641.77 1265.3V1269.1M1645.9 1265.3V1270.9M1650.03 1265.3V1269.1M1654.16 1265.3V1269.1M1658.29 1265.3V1269.1M1662.42 1265.3V1269.1M1666.55 1265.3V1270.9M1670.68 1265.3V1269.1M1674.81 1265.3V1269.1M1678.94 1265.3V1269.1M1683.07 1265.3V1269.1M1687.2 1265.3V1273.3M1691.33 1265.3V1269.1M1695.46 1265.3V1269.1M1699.59 1265.3V1269.1M1703.72 1265.3V1269.1M1707.85 1265.3V1270.9M1711.98 1265.3V1269.1M1716.11 1265.3V1269.1M1720.24 1265.3V1269.1M1724.37 1265.3V1269.1M1728.5 1265.3V1270.9M1732.63 1265.3V1269.1M1736.76 1265.3V1269.1M1740.89 1265.3V1269.1M1745.02 1265.3V1269.1M1749.15 1265.3V1270.9M1753.28 1265.3V1269.1M1757.41 1265.3V1269.1M1761.54 1265.3V1269.1M1765.67 1265.3V1269.1M1769.8 1265.3V1273.3M1773.93 1265.3V1269.1M1778.06 1265.3V1269.1M1782.19 1265.3V1269.1M1786.32 1265.3V1269.1M1790.45 1265.3V1270.9M1794.58 1265.3V1269.1M1798.71 1265.3V1269.1M1802.84 1265.3V1269.1M1806.97 1265.3V1269.1M1811.1 1265.3V1270.9M1815.23 1265.3V1269.1M1819.36 1265.3V1269.1M1823.49 1265.3V1269.1M1827.62 1265.3V1269.1M1831.75 1265.3V1270.9M1835.88 1265.3V1269.1M1840.01 1265.3V1269.1M1844.14 1265.3V1269.1M1848.27 1265.3V1269.1" stroke="#000" stroke-width="1.7" fill="none"/>
<path d="M1482.16 1265.3V1156.75M1484.15 1265.3V1186.36M1485.89 1265.3V1183.89M1488.38 1265.3V1223.36M1490.87 1265.3V1203.62M1492.61 1265.3V1206.09M1494.6 1265.3V1193.76M1497.33 1265.3V1018.6M1499.07 1265.3V1196.22M1500.07 1265.3V1198.69M1503.3 1265.3V1166.62M1505.04 1265.3V1245.56M1507.03 1265.3V1228.29M1509.77 1265.3V1083.98M1511.51 1265.3V1211.03M1513.74 1265.3V1220.89M1515.73 1265.3V1243.1M1518.22 1265.3V1223.36M1519.96 1265.3V1240.63M1522.45 1265.3V1230.76M1524.44 1265.3V1252.96M1527.42 1265.3V1218.43M1529.91 1265.3V1220.89M1531.9 1265.3V1252.96M1533.89 1265.3V1233.23M1535.63 1265.3V1223.36M1537.61 1265.3V1243.1M1539.85 1265.3V1233.23M1541.84 1265.3V1235.7M1544.33 1265.3V1238.16M1546.82 1265.3V1240.63M1549.3 1265.3V1228.29M1551.29 1265.3V1243.1M1553.28 1265.3V1252.96M1556.76 1265.3V1230.76M1559.75 1265.3V1238.16M1561.73 1265.3V1248.03M1563.72 1265.3V1248.03M1565.46 1265.3V1240.63M1572.18 1265.3V1228.29M1574.17 1265.3V1245.56M1577.15 1265.3V1248.03M1579.14 1265.3V1252.96M1580.88 1265.3V1235.7M1582.12 1265.3V1223.36M1587.84 1265.3V1250.5M1589.83 1265.3V1245.56M1592.07 1265.3V1218.43M1594.06 1265.3V1255.43M1597.79 1265.3V1248.03M1604.5 1265.3V1248.03M1606.49 1265.3V1250.5M1609.48 1265.3V1252.96M1610.97 1265.3V1248.03M1613.95 1265.3V1248.03M1616.44 1265.3V1240.63M1618.43 1265.3V1245.56M1620.42 1265.3V1248.03M1622.41 1265.3V1248.03M1624.4 1265.3V1240.63M1632.1 1265.3V1223.36M1633.85 1265.3V1230.76M1635.83 1265.3V1252.96M1638.82 1265.3V1248.03M1640.81 1265.3V1238.16M1642.8 1265.3V1243.1M1644.79 1265.3V1250.5M1646.28 1265.3V1240.63M1650.75 1265.3V1225.83M1652.74 1265.3V1248.03M1656.72 1265.3V1245.56M1663.68 1265.3V1250.5M1665.67 1265.3V1240.63M1667.66 1265.3V1248.03M1670.4 1265.3V1228.29M1672.39 1265.3V1243.1M1673.63 1265.3V1240.63M1675.37 1265.3V1238.16M1679.85 1265.3V1248.03M1685.57 1265.3V1248.03M1687.56 1265.3V1248.03M1689.3 1265.3V1235.7M1691.04 1265.3V1245.56M1692.28 1265.3V1225.83M1694.27 1265.3V1184.63M1696.01 1265.3V1240.63M1702.23 1265.3V1238.16M1704.22 1265.3V1224.59M1706.7 1265.3V1235.7M1711.67 1265.3V1193.76M1713.66 1265.3V1240.63M1717.64 1265.3V1248.03M1721.62 1265.3V1229.53M1727.09 1265.3V1240.63M1730.08 1265.3V1252.96M1732.31 1265.3V1240.63M1734.05 1265.3V1215.96M1740.77 1265.3V1243.1M1742.51 1265.3V1245.56M1746.49 1265.3V1223.36M1748.23 1265.3V1245.56M1750.22 1265.3V1224.59M1752.21 1265.3V1252.96M1755.69 1265.3V1225.83M1757.43 1265.3V1243.1M1759.42 1265.3V1238.16M1764.39 1265.3V1235.7M1766.38 1265.3V1235.7M1768.12 1265.3V1248.03M1769.61 1265.3V1252.96M1774.34 1265.3V1240.63M1778.07 1265.3V1236.93M1783.04 1265.3V1225.83M1788.01 1265.3V1243.1M1796.22 1265.3V1207.08M1797.96 1265.3V1245.56M1804.18 1265.3V1248.03M1805.42 1265.3V1245.56M1807.91 1265.3V1248.03M1817.85 1265.3V1239.4M1820.84 1265.3V1241.86M1823.32 1265.3V1250.5M1826.06 1265.3V1236.93M1828.05 1265.3V1245.56M1830.28 1265.3V1241.86M1832.03 1265.3V1250.5M1833.52 1265.3V1252.96M1843.46 1265.3V1222.13M1480.92 1265.3V1212.14M1482.13 1265.3V1238.11M1483.44 1265.3V1234.43M1485.04 1265.3V1227.22M1486.52 1265.3V1216.04M1487.71 1265.3V1240.04M1489.03 1265.3V1213.93M1490.43 1265.3V1232.98M1492.29 1265.3V1222.27M1493.69 1265.3V1230.61M1495.32 1265.3V1221.4M1497.11 1265.3V1236.42M1498.28 1265.3V1226.16M1499.54 1265.3V1223.49M1501.21 1265.3V1232.17M1502.59 1265.3V1236.63M1504.28 1265.3V1220.2M1505.92 1265.3V1215.66M1507.42 1265.3V1236.18M1508.93 1265.3V1238.52M1510.73 1265.3V1219.87M1512.01 1265.3V1240.28M1513.38 1265.3V1228.1M1514.78 1265.3V1214.24M1516.03 1265.3V1235.71M1517.65 1265.3V1234.66M1519.34 1265.3V1240.24M1521.03 1265.3V1235.59M1522.47 1265.3V1228.49M1523.92 1265.3V1223.21M1525.26 1265.3V1251.49M1526.45 1265.3V1246.75M1528.18 1265.3V1240.74M1530.03 1265.3V1252.67M1531.25 1265.3V1243.06M1532.92 1265.3V1236.3M1534.05 1265.3V1249.34M1535.82 1265.3V1236.3M1537.5 1265.3V1242.95M1538.75 1265.3V1245.34M1539.93 1265.3V1244.38M1541.41 1265.3V1250.86M1542.96 1265.3V1250.78M1544.41 1265.3V1240.61M1545.88 1265.3V1246.73M1547.16 1265.3V1245.26M1548.36 1265.3V1240.73M1549.94 1265.3V1260.09M1551.33 1265.3V1255.03M1552.52 1265.3V1248.43M1554.2 1265.3V1254.17M1555.85 1265.3V1257.89M1557.14 1265.3V1253.88M1558.81 1265.3V1252.38M1559.93 1265.3V1252.8M1561.73 1265.3V1251.2M1563.54 1265.3V1248.26M1564.83 1265.3V1256.71M1566.35 1265.3V1248.32M1571.32 1265.3V1254M1572.91 1265.3V1248.56M1574.61 1265.3V1256.72M1576.36 1265.3V1257.95M1577.76 1265.3V1248.54M1579.51 1265.3V1256.52M1580.84 1265.3V1252.8M1582.59 1265.3V1251.92M1587.8 1265.3V1252.9M1589.19 1265.3V1255.09M1590.67 1265.3V1253.84M1592.42 1265.3V1257.05M1593.59 1265.3V1251.32M1594.91 1265.3V1255.19M1596.12 1265.3V1250.14M1597.44 1265.3V1256.77M1599.16 1265.3V1254.15M1603.69 1265.3V1255.91M1605.53 1265.3V1250.62M1607.21 1265.3V1257.28M1608.93 1265.3V1253.01M1610.67 1265.3V1255.83M1612.37 1265.3V1250.58M1613.78 1265.3V1252.29M1615.48 1265.3V1248.12M1617.29 1265.3V1250.67M1618.51 1265.3V1252.84M1620.14 1265.3V1259.29M1621.6 1265.3V1249.65M1623.4 1265.3V1248.95M1624.59 1265.3V1252.88M1632.27 1265.3V1249.77M1633.87 1265.3V1255.85M1635.61 1265.3V1250.32M1637.27 1265.3V1252.97M1638.63 1265.3V1256.71M1640.01 1265.3V1256.34M1641.52 1265.3V1258.96M1643.18 1265.3V1256.07M1644.41 1265.3V1257.22M1645.82 1265.3V1255.05M1647.53 1265.3V1259.14M1648.81 1265.3V1256.75M1650.06 1265.3V1251.12M1651.26 1265.3V1259.74M1652.8 1265.3V1251.29M1656.07 1265.3V1256.34M1657.84 1265.3V1251.29M1662.68 1265.3V1248.06M1664.49 1265.3V1258.73M1665.85 1265.3V1255.34M1667.1 1265.3V1250.97M1668.26 1265.3V1249.42M1669.82 1265.3V1252.8M1671.25 1265.3V1248.81M1672.8 1265.3V1249.31M1674.6 1265.3V1251.83M1676.46 1265.3V1254.33M1684.08 1265.3V1254.5M1685.3 1265.3V1250.03M1686.79 1265.3V1248.38M1688.31 1265.3V1248.81M1689.64 1265.3V1257.68M1691.15 1265.3V1250.91M1692.89 1265.3V1252.38M1694.1 1265.3V1255.51M1695.25 1265.3V1255.78M1697.07 1265.3V1256.09M1701.52 1265.3V1251.87M1702.7 1265.3V1258.09M1704.25 1265.3V1258.79M1706.09 1265.3V1255.12M1707.68 1265.3V1248.46M1708.87 1265.3V1248.04M1710.02 1265.3V1252.95M1711.63 1265.3V1248.21M1713.02 1265.3V1248.69M1714.62 1265.3V1254.49M1717.16 1265.3V1255.86M1718.54 1265.3V1255.78M1720.26 1265.3V1255.74M1721.85 1265.3V1259.89M1723.07 1265.3V1251.61M1726.21 1265.3V1259.97M1727.5 1265.3V1255.92M1731.78 1265.3V1252.38M1733.48 1265.3V1250.7M1735.15 1265.3V1253.16M1739.55 1265.3V1249.76M1741 1265.3V1252.6M1742.49 1265.3V1252.3M1745.42 1265.3V1251.28M1746.8 1265.3V1252.96M1748.26 1265.3V1254.57M1749.67 1265.3V1253.62M1751.32 1265.3V1258.22M1752.54 1265.3V1250.21M1753.73 1265.3V1250.58M1755.41 1265.3V1257.68M1757.01 1265.3V1257.24M1758.78 1265.3V1257.93M1759.99 1265.3V1259.91M1764.28 1265.3V1248.32M1765.94 1265.3V1251.27M1767.49 1265.3V1252.46M1768.62 1265.3V1250.34M1769.98 1265.3V1249.82M1773.21 1265.3V1260.36M1775.06 1265.3V1259.18M1778.04 1265.3V1248.2M1783.34 1265.3V1255.12M1787.44 1265.3V1248.63M1789.06 1265.3V1256.1M1795.18 1265.3V1257.91M1796.32 1265.3V1259.57M1797.8 1265.3V1251.78M1799.09 1265.3V1255.47M1803.55 1265.3V1252.93M1804.97 1265.3V1257.79M1806.6 1265.3V1251.72M1807.86 1265.3V1250.41M1817.43 1265.3V1252.3M1818.61 1265.3V1256.1M1820.11 1265.3V1249.44M1821.74 1265.3V1249.15M1823.51 1265.3V1248.39M1825.09 1265.3V1252.76M1826.55 1265.3V1257.64M1828.27 1265.3V1252.84M1829.51 1265.3V1257.41M1830.79 1265.3V1251.45M1832.36 1265.3V1257.89M1833.99 1265.3V1253.42" stroke="#000" stroke-width="2.3" fill="none"/>
<text transform="translate(1462.36,1270) scale(1.0750,1.0000)" font-family="'Liberation Sans', sans-serif" font-size="13.2">0</text>
<text transform="translate(1454.48,1245.33) scale(1.0750,1.0000)" font-family="'Liberation Sans', sans-serif" font-size="13.2">10</text>
<text transform="translate(1454.48,1220.66) scale(1.0750,1.0000)" font-family="'Liberation Sans', sans-serif" font-size="13.2">20</text>
<text transform="translate(1454.48,1195.99) scale(1.0750,1.0000)" font-family="'Liberation Sans', sans-serif" font-size="13.2">30</text>
<text transform="translate(1454.48,1171.32) scale(1.0750,1.0000)" font-family="'Liberation Sans', sans-serif" font-size="13.2">40</text>
<text transform="translate(1454.48,1146.65) scale(1.0750,1.0000)" font-family="'Liberation Sans', sans-serif" font-size="13.2">50</text>
<text transform="translate(1454.48,1121.98) scale(1.0750,1.0000)" font-family="'Liberation Sans', sans-serif" font-size="13.2">60</text>
<text transform="translate(1454.48,1097.31) scale(1.0750,1.0000)" font-family="'Liberation Sans', sans-serif" font-size="13.2">70</text>
<text transform="translate(1454.48,1072.64) scale(1.0750,1.0000)" font-family="'Liberation Sans', sans-serif" font-size="13.2">80</text>
<text transform="translate(1454.48,1047.97) scale(1.0750,1.0000)" font-family="'Liberation Sans', sans-serif" font-size="13.2">90</text>
<text transform="translate(1446.57,1023.3) scale(1.0750,1.0000)" font-family="'Liberation Sans', sans-serif" font-size="13.2">100</text>
<text transform="translate(1440.3,0) rotate(-90) translate(-1210.07,0) scale(1.0212,1.0000)" font-family="'Liberation Sans', sans-serif" font-size="14.3">Relative abundance</text>
<text transform="translate(1503.05,1299.6) scale(1.1300,1.0000)" font-family="'Liberation Sans', sans-serif" font-size="20.3">400</text>
<text transform="translate(1585.33,1299.6) scale(1.1300,1.0000)" font-family="'Liberation Sans', sans-serif" font-size="20.3">600</text>
<text transform="translate(1668.02,1299.6) scale(1.1300,1.0000)" font-family="'Liberation Sans', sans-serif" font-size="20.3">800</text>
<text transform="translate(1743.88,1299.6) scale(1.1300,1.0000)" font-family="'Liberation Sans', sans-serif" font-size="20.3">1000</text>
<text transform="translate(1820.58,1299.6) scale(1.1276,1.0000)" font-family="'Liberation Sans', sans-serif" font-size="20.3">1200</text>
<text transform="translate(1647.16,1334.4) scale(1.0561,1.0000)" font-family="'Liberation Sans', sans-serif" font-size="21.6" font-style="italic">m/z</text>
<text transform="translate(1484.24,1016.9) scale(1.1187,1.0000)" font-family="'Liberation Sans', sans-serif" font-size="20.5">341.20</text>
<text transform="translate(1501.94,1081) scale(1.1187,1.0000)" font-family="'Liberation Sans', sans-serif" font-size="20.5">371.40</text>
<text transform="translate(1677.62,1182.3) scale(1.1206,1.0000)" font-family="'Liberation Sans', sans-serif" font-size="20.5">815.40</text>
</g>
<g id="panel-labels">
<text x="-2" y="23" font-family="'Liberation Sans', sans-serif" font-size="41.5" font-weight="bold">a</text>
<text x="-1.4" y="411.9" font-family="'Liberation Sans', sans-serif" font-size="41.5" font-weight="bold">b</text>
<text x="1015.5" y="412.3" font-family="'Liberation Sans', sans-serif" font-size="41.5" font-weight="bold">c</text>
<text x="-0.5" y="956.9" font-family="'Liberation Sans', sans-serif" font-size="41.5" font-weight="bold">d</text>
</g>
</svg>
</body>
</html>
